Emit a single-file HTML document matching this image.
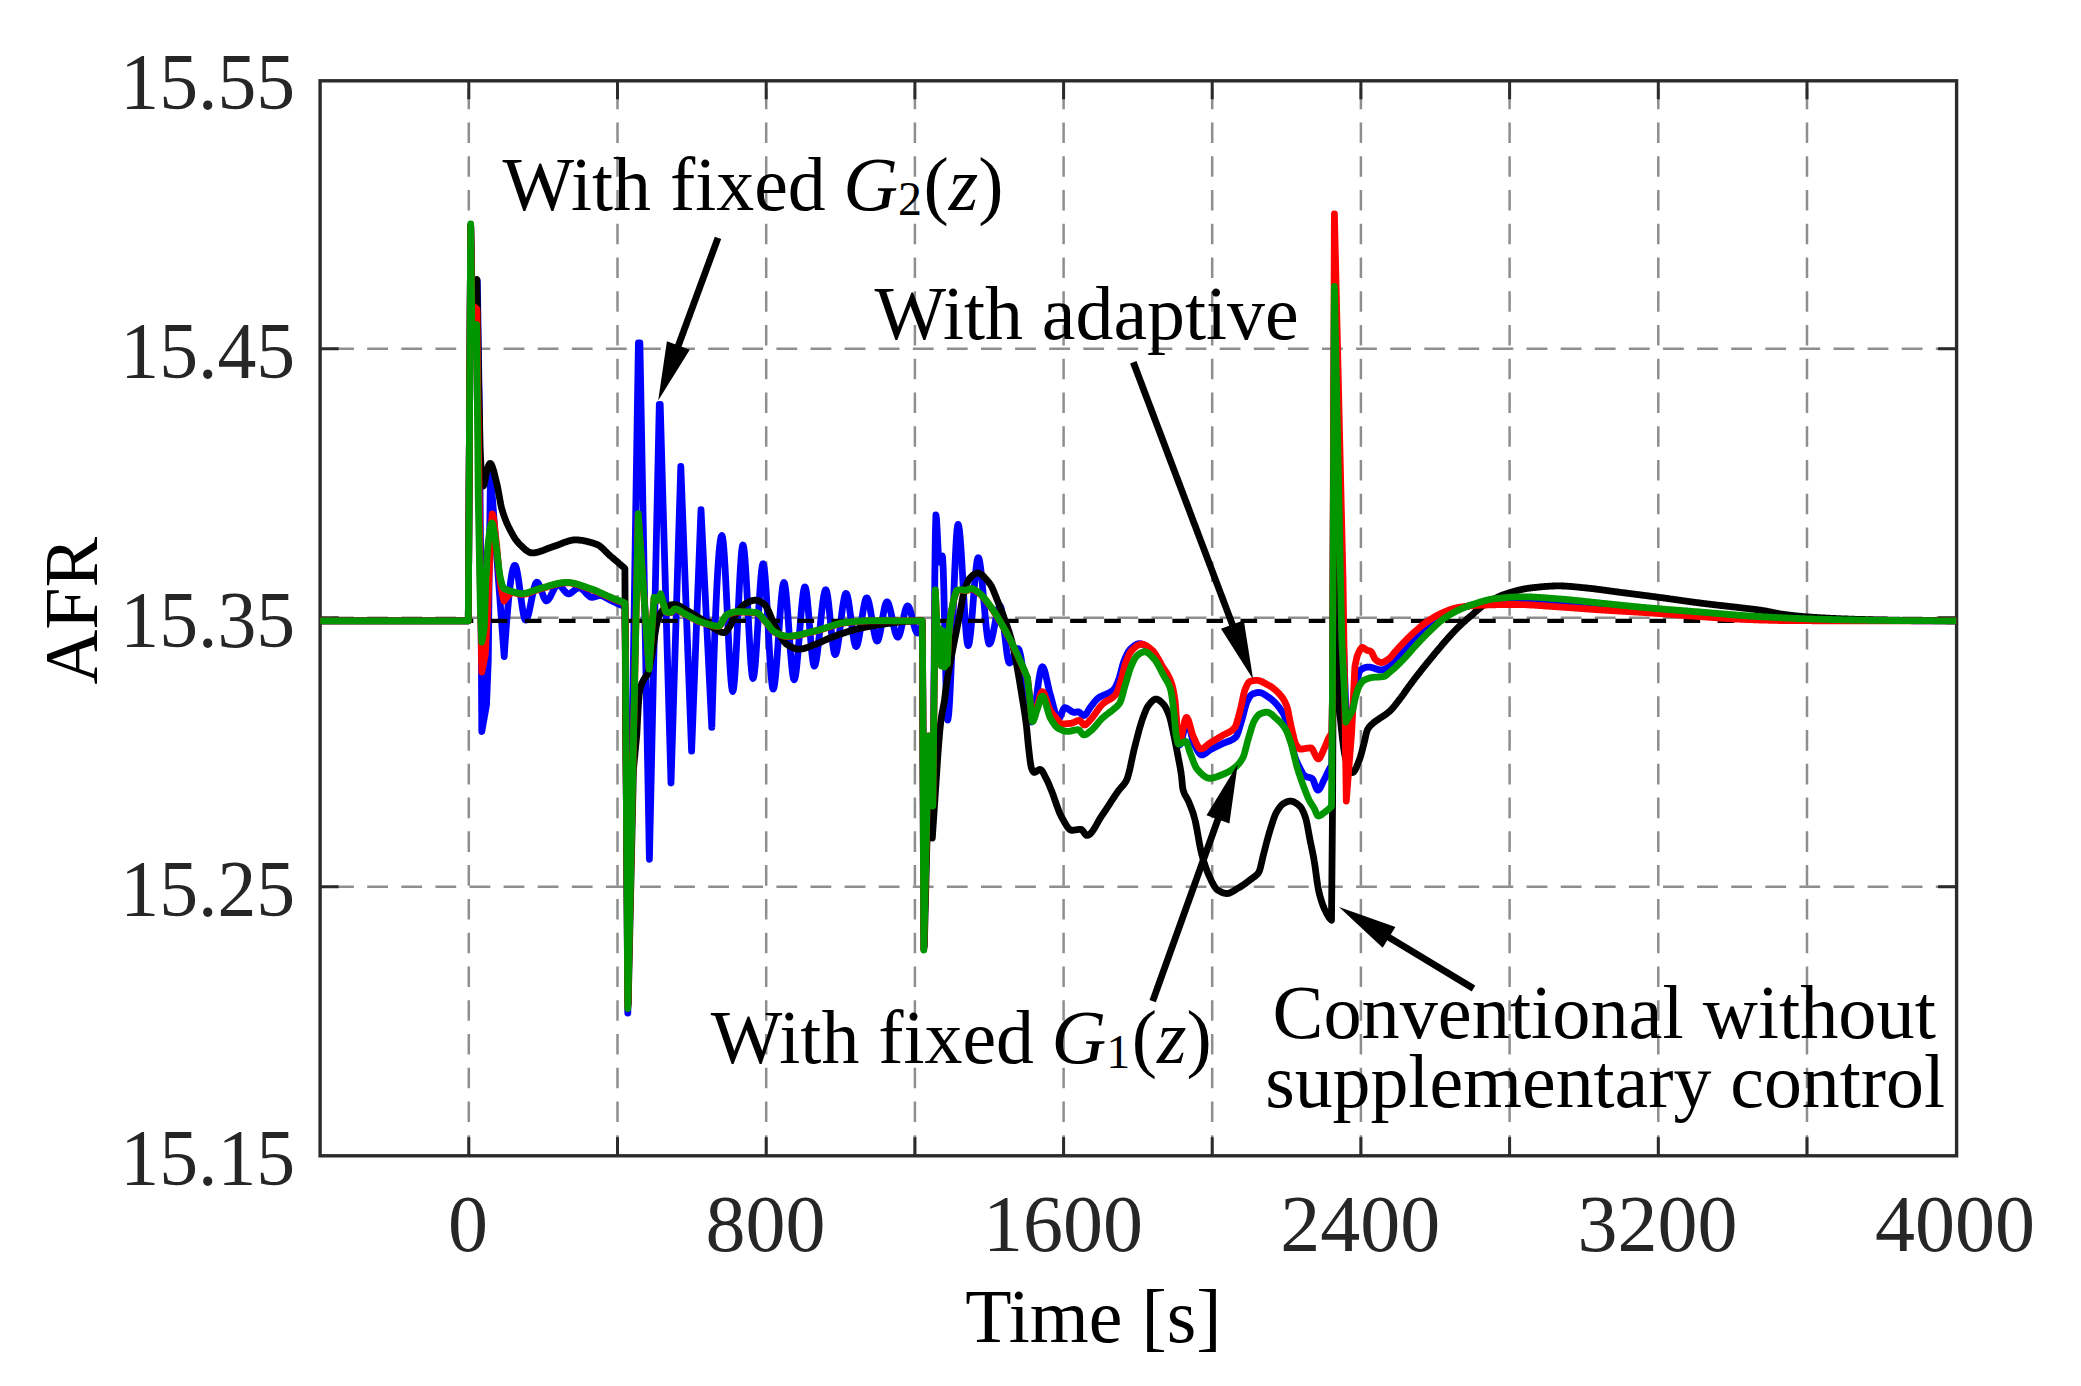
<!DOCTYPE html><html><head><meta charset="utf-8"><title>AFR</title><style>html,body{margin:0;padding:0;background:#fff}svg{display:block}</style></head><body><svg width="2081" height="1386" viewBox="0 0 2081 1386">
<rect width="2081" height="1386" fill="#fff"/>
<defs><clipPath id="pc"><rect x="320.1" y="80.8" width="1636.5" height="1075.0"/></clipPath></defs>
<path d="M468.8 1155.8V80.8M617.5 1155.8V80.8M766.2 1155.8V80.8M914.9 1155.8V80.8M1063.6 1155.8V80.8M1212.2 1155.8V80.8M1360.9 1155.8V80.8M1509.6 1155.8V80.8M1658.3 1155.8V80.8M1807.0 1155.8V80.8" fill="none" stroke="#8e8e8e" stroke-width="2.5" stroke-dasharray="20.6 13.16" stroke-dashoffset="0"/>
<path d="M320.1 348.8H1956.6M320.1 617.8H1956.6M320.1 886.8H1956.6" fill="none" stroke="#8e8e8e" stroke-width="2.5" stroke-dasharray="20.8 13.3" stroke-dashoffset="-13"/>
<rect x="320.1" y="80.8" width="1636.5" height="1075.0" fill="none" stroke="#2b2b2b" stroke-width="3.4"/>
<path d="M468.8 1155.8v-18.5M468.8 80.8v18.5M617.5 1155.8v-18.5M617.5 80.8v18.5M766.2 1155.8v-18.5M766.2 80.8v18.5M914.9 1155.8v-18.5M914.9 80.8v18.5M1063.6 1155.8v-18.5M1063.6 80.8v18.5M1212.2 1155.8v-18.5M1212.2 80.8v18.5M1360.9 1155.8v-18.5M1360.9 80.8v18.5M1509.6 1155.8v-18.5M1509.6 80.8v18.5M1658.3 1155.8v-18.5M1658.3 80.8v18.5M1807.0 1155.8v-18.5M1807.0 80.8v18.5M320.1 886.8h18.5M1956.6 886.8h-18.5M320.1 617.8h18.5M1956.6 617.8h-18.5M320.1 348.8h18.5M1956.6 348.8h-18.5" fill="none" stroke="#2b2b2b" stroke-width="3.0"/>
<g clip-path="url(#pc)" fill="none" stroke-linejoin="round" stroke-linecap="butt">
<path d="M320.1 620.8L468.3 620.8L470.7 226.0L471.8 282.0L477.3 281.0L479.2 400.0L481.0 600.0L481.8 731.5L486.5 705.0L488.3 660.0L489.3 560.0L490.5 472.0L497.0 560.0L504.2 656.5L504.8 647.5L505.4 638.8L506.0 630.6L506.6 622.7L507.2 615.2L507.8 608.2L508.4 601.6L509.0 595.5L509.6 590.0L510.2 584.9L510.8 580.3L511.4 576.4L512.0 573.0L512.6 570.2L513.2 568.0L513.8 566.4L514.4 565.5L514.9 565.3L515.0 565.3L515.6 566.0L516.2 567.5L516.8 569.8L517.4 572.8L518.0 576.3L518.6 580.3L519.2 584.6L519.8 589.0L520.4 593.6L521.0 598.2L521.6 602.6L522.2 606.7L522.8 610.5L523.4 613.9L524.0 616.6L524.6 618.7L525.2 619.9L525.7 620.2L525.8 620.2L526.4 619.8L527.0 618.7L527.6 617.2L528.2 615.3L528.8 613.0L529.4 610.4L530.0 607.6L530.6 604.6L531.2 601.6L531.8 598.5L532.4 595.6L533.0 592.7L533.6 590.0L534.2 587.7L534.8 585.6L535.4 584.0L536.0 582.9L536.6 582.3L536.9 582.2L537.2 582.3L537.8 582.7L538.4 583.5L539.0 584.5L539.6 585.9L540.2 587.4L540.8 589.0L541.4 590.7L542.0 592.5L542.6 594.2L543.2 595.8L543.8 597.3L544.4 598.6L545.0 599.6L545.6 600.4L546.2 600.8L546.5 600.8L546.8 600.8L547.4 600.5L548.0 600.0L548.6 599.3L549.2 598.5L549.8 597.5L550.4 596.5L551.0 595.3L551.6 594.1L552.2 592.8L552.8 591.6L553.4 590.4L554.0 589.2L554.6 588.1L555.2 587.1L555.8 586.3L556.4 585.6L557.0 585.1L557.6 584.8L558.0 584.8L558.2 584.8L558.8 585.0L559.4 585.3L560.0 585.7L560.6 586.2L561.2 586.8L561.8 587.5L562.4 588.3L563.0 589.0L563.6 589.8L564.2 590.6L564.9 591.3L565.5 592.0L566.1 592.6L566.7 593.1L567.3 593.4L567.9 593.7L568.5 593.8L568.5 593.8L569.1 593.8L569.7 593.6L570.3 593.4L570.9 593.0L571.5 592.6L572.1 592.2L572.7 591.7L573.3 591.2L573.9 590.7L574.5 590.2L575.1 589.7L575.7 589.2L576.3 588.8L576.9 588.4L577.5 588.1L578.1 587.9L578.7 587.8L579.0 587.8L579.3 587.8L579.9 587.9L580.5 588.1L581.1 588.5L581.7 588.8L582.3 589.3L582.9 589.8L583.5 590.4L584.1 591.0L584.7 591.7L585.3 592.3L585.9 593.0L586.5 593.7L587.1 594.3L587.7 594.9L588.3 595.5L588.9 596.0L589.5 596.4L590.1 596.8L590.7 597.1L591.3 597.2L591.9 597.3L591.9 597.3L592.5 597.3L593.1 597.2L593.7 597.1L594.3 596.9L594.9 596.7L595.5 596.6L596.1 596.4L596.7 596.2L597.3 596.0L597.9 595.8L598.5 595.7L599.1 595.6L599.7 595.5L600.0 595.5L600.3 595.5L600.9 595.6L601.5 595.7L602.1 595.8L602.7 596.1L603.3 596.3L603.9 596.6L604.5 596.9L605.1 597.2L605.7 597.6L606.3 597.9L606.9 598.3L607.5 598.6L608.1 599.0L608.7 599.3L609.3 599.7L609.9 599.9L610.0 600.0L610.5 600.2L611.1 600.5L611.7 600.8L612.3 601.1L612.9 601.4L613.5 601.7L614.1 601.9L614.7 602.2L615.3 602.5L615.9 602.8L616.5 603.1L617.1 603.4L617.7 603.7L618.3 603.9L618.9 604.2L619.5 604.5L620.1 604.7L620.7 605.0L620.8 605.0L621.3 605.2L621.9 605.4L622.5 605.7L623.1 605.9L623.7 606.1L624.3 606.3L624.9 606.5L625.3 640.0L627.8 1013.0L638.4 343.0L639.9 343.0L649.4 859.3L659.3 404.5L660.2 404.5L671.0 783.0L680.8 466.3L691.6 751.2L701.0 509.6L711.8 727.4L712.4 706.8L713.0 687.2L713.6 668.6L714.2 651.1L714.8 634.7L715.4 619.3L716.0 605.1L716.6 592.2L717.2 580.4L717.8 570.0L718.4 560.8L719.0 553.0L719.6 546.6L720.2 541.6L720.8 538.1L721.4 536.1L721.9 535.6L722.0 535.7L722.6 537.6L723.2 541.9L723.8 548.4L724.4 556.8L725.0 566.7L725.6 577.8L726.2 589.8L726.8 602.4L727.4 615.2L728.0 628.0L728.6 640.5L729.2 652.3L729.8 663.1L730.4 672.6L731.0 680.5L731.6 686.5L732.2 690.2L732.8 691.4L732.8 691.4L733.4 689.7L734.0 685.3L734.6 678.5L735.2 669.8L735.8 659.5L736.4 647.9L737.0 635.5L737.6 622.6L738.3 609.5L738.9 596.7L739.5 584.5L740.1 573.3L740.7 563.5L741.3 555.4L741.9 549.4L742.5 545.8L742.9 545.0L743.1 545.1L743.7 547.2L744.3 551.6L744.9 558.2L745.5 566.4L746.1 576.1L746.7 586.8L747.3 598.3L747.9 610.1L748.5 622.0L749.1 633.5L749.7 644.5L750.3 654.5L750.9 663.2L751.5 670.2L752.1 675.3L752.7 678.0L753.0 678.4L753.3 678.1L753.9 675.9L754.5 671.7L755.1 665.8L755.7 658.4L756.3 649.9L756.9 640.5L757.5 630.6L758.1 620.4L758.7 610.2L759.3 600.3L759.9 591.1L760.5 582.7L761.1 575.5L761.7 569.7L762.3 565.8L762.9 563.8L763.1 563.7L763.5 564.3L764.1 567.1L764.7 572.2L765.3 579.0L765.9 587.3L766.5 596.9L767.1 607.3L767.7 618.2L768.3 629.4L768.9 640.5L769.5 651.2L770.1 661.2L770.7 670.1L771.3 677.7L771.9 683.6L772.5 687.5L773.1 689.2L773.2 689.2L773.7 688.5L774.3 686.0L774.9 681.9L775.5 676.5L776.1 670.0L776.7 662.5L777.3 654.4L777.9 645.8L778.5 636.9L779.1 628.1L779.7 619.4L780.3 611.1L780.9 603.4L781.5 596.7L782.1 591.0L782.7 586.5L783.3 583.7L783.9 582.5L784.0 582.5L784.5 583.3L785.1 585.9L785.7 590.2L786.3 595.8L786.9 602.5L787.5 610.0L788.1 618.2L788.7 626.8L789.3 635.4L789.9 644.0L790.5 652.2L791.2 659.8L791.8 666.5L792.4 672.1L793.0 676.3L793.6 679.0L794.1 679.8L794.2 679.8L794.8 678.8L795.4 676.3L796.0 672.5L796.6 667.5L797.2 661.6L797.8 655.0L798.4 647.7L799.0 640.2L799.6 632.4L800.2 624.7L800.8 617.2L801.4 610.1L802.0 603.6L802.6 597.9L803.2 593.2L803.8 589.6L804.4 587.4L804.9 586.8L805.0 586.8L805.6 588.0L806.2 590.8L806.8 595.1L807.4 600.5L808.0 606.8L808.6 613.8L809.2 621.2L809.8 628.8L810.4 636.3L811.0 643.5L811.6 650.1L812.2 655.9L812.8 660.6L813.4 664.0L814.0 665.9L814.3 666.1L814.6 666.0L815.2 664.8L815.8 662.5L816.4 659.4L817.0 655.4L817.6 650.8L818.2 645.7L818.8 640.1L819.4 634.3L820.0 628.3L820.6 622.4L821.2 616.5L821.8 610.9L822.4 605.7L823.0 601.0L823.6 596.9L824.2 593.7L824.8 591.3L825.4 589.9L825.8 589.7L826.0 589.8L826.6 591.1L827.2 593.7L827.8 597.4L828.4 602.0L829.0 607.4L829.6 613.2L830.2 619.3L830.8 625.5L831.4 631.6L832.0 637.4L832.6 642.7L833.2 647.2L833.8 650.9L834.4 653.4L835.0 654.5L835.2 654.6L835.6 654.3L836.2 653.0L836.8 650.8L837.4 647.8L838.0 644.1L838.6 639.9L839.2 635.3L839.8 630.3L840.4 625.3L841.0 620.2L841.6 615.1L842.2 610.4L842.8 605.9L843.5 601.9L844.1 598.6L844.7 595.9L845.3 594.1L845.9 593.3L846.0 593.3L846.5 593.6L847.1 594.9L847.7 597.1L848.3 600.1L848.9 603.7L849.5 607.8L850.1 612.2L850.7 616.9L851.3 621.7L851.9 626.4L852.5 630.9L853.1 635.1L853.7 638.8L854.3 642.0L854.9 644.4L855.5 646.0L856.1 646.6L856.1 646.6L856.7 646.2L857.3 644.9L857.9 642.9L858.5 640.3L859.1 637.2L859.7 633.7L860.3 629.8L860.9 625.8L861.5 621.6L862.1 617.5L862.7 613.5L863.3 609.7L863.9 606.3L864.5 603.3L865.1 600.8L865.7 599.0L866.3 598.0L866.7 597.8L866.9 597.8L867.5 598.5L868.1 599.9L868.7 601.9L869.3 604.4L869.9 607.4L870.5 610.7L871.1 614.3L871.7 617.9L872.3 621.6L872.9 625.3L873.5 628.8L874.1 632.0L874.7 634.9L875.3 637.4L875.9 639.3L876.5 640.6L877.1 641.1L877.2 641.1L877.7 640.8L878.3 639.7L878.9 637.9L879.5 635.5L880.1 632.7L880.7 629.5L881.3 626.1L881.9 622.5L882.5 618.9L883.1 615.4L883.7 612.0L884.3 609.0L884.9 606.3L885.5 604.2L886.1 602.7L886.7 601.9L887.0 601.8L887.3 601.9L887.9 602.5L888.5 603.7L889.1 605.4L889.7 607.5L890.3 609.9L890.9 612.5L891.5 615.3L892.1 618.2L892.7 621.2L893.3 624.1L893.9 626.9L894.5 629.5L895.1 631.8L895.7 633.9L896.4 635.5L897.0 636.6L897.6 637.1L897.8 637.2L898.2 637.1L898.8 636.4L899.4 635.1L900.0 633.3L900.6 631.2L901.2 628.7L901.8 626.0L902.4 623.2L903.0 620.3L903.6 617.5L904.2 614.7L904.8 612.2L905.4 610.0L906.0 608.2L906.6 606.9L907.2 606.1L907.6 605.9L907.8 605.9L908.4 606.4L909.0 607.3L909.6 608.7L910.2 610.5L910.8 612.5L911.4 614.7L912.0 617.1L912.6 619.6L913.2 622.0L913.8 624.4L914.4 626.6L915.0 628.6L915.6 630.4L916.2 631.7L916.8 632.6L917.4 633.0L917.5 633.0L918.0 632.9L918.6 632.4L919.2 631.7L919.8 630.6L920.4 629.3L921.0 627.7L921.6 626.0L922.2 624.0L922.6 660.0L923.8 948.0L928.6 737.0L932.8 806.0L934.2 660.0L934.8 577.7L935.0 560.0L935.4 532.3L935.9 515.0L936.0 515.1L936.6 520.5L937.2 531.2L937.8 543.9L938.4 555.1L939.0 561.5L939.2 562.0L939.6 561.7L940.2 560.5L940.8 558.8L941.4 557.2L942.0 556.1L942.3 556.0L942.6 557.6L943.2 568.8L943.8 588.3L944.4 613.3L945.0 640.8L945.6 668.1L946.2 692.2L946.8 710.2L947.4 719.4L947.6 720.0L948.0 719.1L948.6 714.9L949.2 707.5L949.8 697.5L950.4 685.3L951.0 671.3L951.6 656.0L952.2 639.8L952.8 623.1L953.4 606.4L954.0 590.0L954.6 574.6L955.2 560.4L955.8 548.0L956.4 537.8L957.0 530.2L957.6 525.6L958.1 524.4L958.2 524.5L958.8 526.2L959.4 530.1L960.0 535.9L960.6 543.4L961.2 552.1L961.8 561.7L962.4 572.1L963.0 582.8L963.6 593.6L964.2 604.1L964.8 614.1L965.4 623.3L966.0 631.2L966.6 637.7L967.2 642.5L967.8 645.1L968.2 645.6L968.4 645.5L969.0 643.9L969.6 640.8L970.2 636.3L970.8 630.7L971.4 624.3L972.0 617.1L972.6 609.6L973.2 601.7L973.8 593.9L974.4 586.3L975.0 579.2L975.6 572.7L976.2 567.1L976.8 562.6L977.4 559.4L978.0 557.8L978.3 557.6L978.6 557.8L979.2 559.4L979.8 562.2L980.4 566.2L981.0 571.1L981.6 576.7L982.2 583.0L982.8 589.7L983.4 596.7L984.1 603.7L984.7 610.7L985.3 617.5L985.9 623.9L986.5 629.6L987.1 634.7L987.7 638.8L988.3 641.8L988.9 643.6L989.3 644.0L989.5 644.0L990.1 643.5L990.7 642.3L991.3 640.7L991.9 638.5L992.5 636.0L993.1 633.2L993.7 630.2L994.3 627.1L994.9 623.9L995.5 620.7L996.1 617.7L996.7 614.8L997.3 612.2L997.9 609.9L998.5 608.1L999.1 606.8L999.7 606.1L1000.0 606.0L1000.3 606.1L1000.9 607.4L1001.5 609.7L1002.1 613.1L1002.7 617.2L1003.3 621.9L1003.9 627.0L1004.5 632.4L1005.1 637.9L1005.7 643.2L1006.3 648.3L1006.9 652.9L1007.5 656.8L1008.1 659.9L1008.7 662.0L1009.3 663.0L1009.4 663.0L1009.9 662.9L1010.5 662.4L1011.1 661.6L1011.7 660.5L1012.3 659.2L1012.9 657.8L1013.5 656.4L1014.1 654.8L1014.7 653.4L1015.3 652.0L1015.9 650.8L1016.5 649.8L1017.1 649.1L1017.7 648.7L1018.0 648.6L1018.3 648.7L1018.9 649.5L1019.5 651.1L1020.1 653.3L1020.7 656.2L1021.3 659.5L1021.9 663.4L1022.5 667.5L1023.1 672.0L1023.7 676.7L1024.3 681.6L1024.9 686.5L1025.5 691.3L1026.1 696.1L1026.7 700.7L1027.3 705.1L1027.9 709.1L1028.5 712.7L1029.1 715.8L1029.7 718.4L1030.3 720.4L1030.9 721.6L1031.5 722.0L1031.5 722.0L1032.1 721.5L1032.7 720.1L1033.3 717.9L1033.9 715.0L1034.5 711.6L1035.1 707.7L1035.7 703.4L1036.3 699.0L1036.9 694.4L1037.5 689.8L1038.1 685.3L1038.7 681.1L1039.3 677.2L1039.9 673.7L1040.5 670.9L1041.1 668.7L1041.7 667.3L1042.3 666.8L1042.3 666.8L1042.9 667.1L1043.5 668.0L1044.1 669.4L1044.7 671.2L1045.3 673.3L1045.9 675.8L1046.5 678.4L1047.1 681.1L1047.7 683.9L1048.3 686.7L1048.9 689.3L1049.5 691.8L1050.1 694.1L1050.4 695.0L1050.7 696.0L1051.3 698.2L1051.9 700.4L1052.5 702.8L1053.1 705.1L1053.7 707.5L1054.3 709.8L1054.9 711.9L1055.5 713.9L1056.1 715.6L1056.7 717.0L1057.3 718.1L1057.9 718.8L1058.5 719.0L1058.5 719.0L1059.1 718.7L1059.7 717.9L1060.3 716.7L1060.9 715.3L1061.5 713.7L1062.1 712.1L1062.7 710.6L1063.3 709.3L1063.9 708.3L1064.5 707.8L1064.8 707.7L1065.1 707.7L1065.7 707.8L1066.3 708.0L1066.9 708.3L1067.5 708.6L1068.1 709.0L1068.7 709.4L1069.3 709.8L1069.9 710.2L1070.5 710.6L1071.1 711.1L1071.7 711.4L1072.3 711.8L1072.9 712.0L1073.5 712.2L1074.1 712.4L1074.6 712.4L1074.7 712.4L1075.3 712.3L1075.9 712.2L1076.5 712.1L1077.1 711.9L1077.7 711.8L1078.1 711.8L1078.3 711.8L1078.9 712.0L1079.5 712.4L1080.1 712.9L1080.7 713.4L1081.3 714.0L1081.9 714.5L1082.5 715.0L1083.1 715.3L1083.8 715.5L1083.9 715.5L1084.4 715.4L1085.0 715.1L1085.6 714.6L1086.2 713.9L1086.8 713.0L1087.4 712.1L1088.0 711.1L1088.6 710.1L1089.2 709.0L1089.8 708.1L1090.4 707.2L1090.8 706.6L1091.0 706.4L1091.6 705.6L1092.2 704.9L1092.8 704.1L1093.4 703.3L1094.0 702.5L1094.6 701.8L1095.2 701.1L1095.8 700.4L1096.4 699.7L1097.0 699.1L1097.6 698.6L1097.7 698.5L1098.2 698.1L1098.8 697.7L1099.4 697.3L1100.0 696.9L1100.6 696.6L1101.2 696.3L1101.8 696.0L1102.4 695.7L1103.0 695.4L1103.6 695.2L1104.2 694.9L1104.8 694.7L1105.4 694.5L1106.0 694.2L1106.6 694.0L1107.2 693.7L1107.8 693.4L1108.4 693.2L1109.0 692.9L1109.6 692.5L1110.2 692.2L1110.8 691.8L1111.4 691.4L1112.0 691.0L1112.6 690.5L1113.2 690.0L1113.8 689.4L1113.9 689.3L1114.4 688.7L1115.0 687.9L1115.6 686.8L1116.2 685.6L1116.8 684.2L1117.4 682.8L1118.0 681.3L1118.5 680.0L1118.6 679.8L1119.2 678.0L1119.8 676.0L1120.4 673.8L1121.0 671.5L1121.6 669.1L1122.2 666.8L1122.8 664.7L1123.4 662.7L1124.0 661.0L1124.0 661.0L1124.6 659.5L1125.2 658.1L1125.8 656.7L1126.4 655.4L1127.0 654.1L1127.6 653.0L1128.2 651.9L1128.8 651.0L1129.4 650.2L1130.0 649.5L1130.0 649.5L1130.6 648.9L1131.2 648.4L1131.8 647.8L1132.4 647.3L1133.0 646.8L1133.6 646.3L1134.2 645.8L1134.8 645.4L1135.4 645.0L1136.0 644.7L1136.6 644.4L1137.2 644.1L1137.8 643.9L1138.4 643.8L1139.0 643.7L1139.5 643.7L1139.6 643.7L1140.2 643.7L1140.8 643.8L1141.4 643.9L1142.0 644.1L1142.6 644.3L1143.2 644.6L1143.8 644.9L1144.4 645.2L1145.0 645.5L1145.6 645.9L1146.2 646.3L1146.8 646.7L1147.4 647.1L1148.0 647.5L1148.6 648.0L1149.2 648.4L1149.8 648.9L1150.0 649.0L1150.4 649.3L1151.0 649.9L1151.6 650.5L1152.2 651.2L1152.8 652.0L1153.4 652.8L1154.0 653.7L1154.6 654.6L1155.2 655.6L1155.8 656.5L1156.4 657.6L1157.0 658.6L1157.6 659.6L1158.2 660.7L1158.8 661.8L1159.4 662.8L1160.0 663.9L1160.6 664.9L1161.0 665.5L1161.2 665.9L1161.8 666.8L1162.4 667.8L1163.0 668.7L1163.6 669.5L1164.2 670.4L1164.8 671.3L1165.4 672.3L1166.0 673.3L1166.6 674.3L1167.2 675.4L1167.8 676.6L1168.4 677.8L1169.0 679.2L1169.6 680.7L1170.2 682.3L1170.5 683.0L1170.8 684.0L1171.4 686.2L1172.0 688.7L1172.6 691.7L1173.2 695.0L1173.8 698.8L1174.3 702.0L1174.4 703.1L1175.0 709.7L1175.6 717.8L1176.2 725.6L1176.8 731.0L1176.8 731.3L1177.4 735.7L1178.0 739.8L1178.6 743.0L1179.2 744.8L1179.5 745.0L1179.8 744.9L1180.4 744.0L1181.0 742.5L1181.6 740.4L1182.2 738.0L1182.9 735.3L1183.5 732.6L1184.1 729.9L1184.7 727.4L1185.3 725.2L1185.9 723.4L1186.5 722.3L1187.0 722.0L1187.1 722.0L1187.7 722.4L1188.3 723.5L1188.9 725.1L1189.5 727.1L1190.1 729.4L1190.7 732.0L1191.3 734.5L1191.9 737.1L1192.5 739.4L1193.1 741.5L1193.7 743.2L1194.0 744.0L1194.3 744.5L1194.9 745.7L1195.5 746.9L1196.1 748.1L1196.7 749.2L1197.3 750.3L1197.9 751.4L1198.5 752.3L1199.1 753.1L1199.7 753.8L1200.3 754.3L1200.9 754.7L1201.5 754.9L1201.7 754.9L1202.1 754.9L1202.7 754.8L1203.3 754.6L1203.9 754.3L1204.5 754.0L1205.1 753.6L1205.7 753.2L1206.3 752.7L1206.9 752.3L1207.5 751.8L1208.1 751.3L1208.7 750.8L1209.3 750.4L1209.9 750.0L1210.4 749.7L1210.5 749.7L1211.1 749.3L1211.7 749.0L1212.3 748.7L1212.9 748.4L1213.5 748.1L1214.1 747.8L1214.7 747.5L1215.3 747.2L1215.9 746.9L1216.5 746.6L1217.1 746.3L1217.7 746.0L1218.3 745.7L1218.9 745.4L1219.5 745.1L1220.1 744.8L1220.7 744.5L1221.3 744.2L1221.9 743.9L1221.9 743.9L1222.5 743.6L1223.1 743.3L1223.7 743.1L1224.3 742.9L1224.9 742.6L1225.5 742.4L1226.1 742.2L1226.7 742.0L1227.3 741.8L1227.9 741.6L1228.5 741.3L1229.1 741.1L1229.7 740.9L1230.3 740.6L1230.9 740.3L1231.5 740.0L1232.1 739.7L1232.7 739.4L1233.3 739.0L1233.9 738.6L1234.5 738.1L1235.1 737.6L1235.7 737.1L1235.8 737.0L1236.3 736.4L1236.9 735.3L1237.5 733.9L1238.1 732.3L1238.7 730.4L1239.3 728.5L1239.9 726.4L1240.5 724.4L1241.1 722.4L1241.6 720.8L1241.7 720.5L1242.3 718.4L1242.9 716.2L1243.5 713.9L1244.1 711.6L1244.7 709.2L1245.3 707.0L1245.9 704.9L1246.5 703.1L1247.1 701.6L1247.3 701.2L1247.7 700.4L1248.3 699.2L1248.9 698.1L1249.5 697.0L1250.1 696.1L1250.7 695.4L1251.3 694.8L1251.9 694.3L1252.0 694.3L1252.5 694.1L1253.1 693.8L1253.7 693.6L1254.3 693.4L1254.9 693.2L1255.5 693.0L1256.1 692.8L1256.7 692.7L1257.3 692.6L1257.9 692.5L1258.5 692.5L1258.9 692.5L1259.1 692.5L1259.7 692.6L1260.3 692.7L1260.9 692.8L1261.5 693.0L1262.1 693.2L1262.7 693.5L1263.3 693.8L1263.9 694.1L1264.5 694.5L1265.1 694.9L1265.7 695.3L1266.3 695.7L1266.9 696.1L1267.5 696.5L1268.1 696.9L1268.7 697.3L1269.3 697.7L1269.3 697.7L1269.9 698.1L1270.5 698.6L1271.1 699.0L1271.7 699.5L1272.3 700.0L1272.9 700.6L1273.5 701.1L1274.1 701.7L1274.7 702.3L1275.3 702.9L1275.9 703.5L1276.5 704.2L1277.1 704.9L1277.7 705.6L1278.3 706.4L1278.9 707.1L1279.5 707.9L1279.7 708.1L1280.1 708.7L1280.7 709.6L1281.3 710.5L1281.9 711.4L1282.6 712.5L1283.2 713.6L1283.8 714.8L1284.4 716.0L1285.0 717.4L1285.4 718.5L1285.6 718.9L1286.2 720.6L1286.8 722.7L1287.4 724.9L1288.0 727.3L1288.6 729.8L1289.2 732.4L1289.8 734.9L1290.4 737.4L1290.5 738.0L1291.0 739.9L1291.6 742.6L1292.2 745.3L1292.8 748.1L1293.4 750.8L1294.0 753.3L1294.6 755.6L1295.0 757.0L1295.2 757.5L1295.8 759.2L1296.4 760.7L1297.0 762.2L1297.6 763.5L1298.2 764.8L1298.8 766.0L1299.3 767.0L1299.4 767.1L1300.0 768.3L1300.6 769.5L1301.2 770.7L1301.8 771.8L1302.4 772.9L1303.0 773.9L1303.6 774.7L1304.2 775.4L1304.8 776.0L1305.1 776.2L1305.4 776.3L1306.0 776.6L1306.6 776.8L1307.2 777.0L1307.8 777.2L1308.4 777.3L1309.0 777.4L1309.6 777.6L1310.2 777.7L1310.8 777.9L1311.4 778.2L1312.0 778.5L1312.0 778.5L1312.6 779.1L1313.2 780.2L1313.8 781.6L1314.4 783.2L1315.0 785.0L1315.6 786.6L1316.2 788.1L1316.8 789.2L1317.4 789.9L1317.8 790.1L1318.0 790.1L1318.6 789.8L1319.2 789.3L1319.8 788.5L1320.4 787.6L1321.0 786.4L1321.6 785.2L1322.2 783.9L1322.8 782.5L1323.4 781.2L1324.0 779.9L1324.6 778.7L1324.7 778.5L1325.2 777.6L1325.8 776.4L1326.4 775.1L1327.0 773.8L1327.6 772.6L1328.2 771.4L1328.7 770.4L1328.8 770.2L1329.4 769.1L1330.0 768.0L1330.6 767.0L1331.2 766.0L1331.8 765.0L1332.4 700.0L1334.4 300.0L1342.0 600.0L1347.2 748.0L1352.0 715.0L1352.6 709.4L1353.2 704.1L1353.8 699.2L1354.4 694.6L1355.0 690.5L1355.6 687.0L1356.0 685.0L1356.2 684.1L1356.8 681.3L1357.4 678.7L1358.0 676.2L1358.6 674.0L1359.2 672.2L1359.8 670.9L1360.4 670.1L1360.5 670.0L1361.0 669.7L1361.6 669.3L1362.2 668.9L1362.8 668.6L1363.4 668.3L1364.0 668.0L1364.6 667.8L1365.2 667.6L1365.8 667.5L1366.4 667.3L1367.0 667.2L1367.6 667.1L1368.2 667.1L1368.6 667.1L1368.8 667.1L1369.4 667.1L1370.0 667.2L1370.6 667.3L1371.2 667.4L1371.8 667.6L1372.4 667.7L1373.0 667.9L1373.6 668.1L1374.2 668.3L1374.8 668.5L1375.4 668.7L1376.0 668.9L1376.6 669.1L1377.2 669.3L1377.8 669.5L1378.4 669.6L1379.0 669.8L1379.6 669.9L1380.2 669.9L1380.8 670.0L1381.3 670.0L1381.4 670.0L1382.0 670.0L1382.6 669.9L1383.2 669.7L1383.8 669.5L1384.4 669.3L1385.0 669.0L1385.6 668.7L1386.2 668.4L1386.8 668.1L1387.4 667.7L1388.0 667.4L1388.6 667.0L1389.2 666.6L1389.3 666.6L1389.8 666.2L1390.4 665.8L1391.0 665.2L1391.6 664.7L1392.2 664.0L1392.8 663.4L1393.4 662.7L1394.0 662.0L1394.6 661.4L1395.0 661.0L1395.2 660.8L1395.8 660.1L1396.4 659.5L1397.0 658.8L1397.6 658.1L1398.2 657.5L1398.8 656.8L1399.4 656.1L1400.0 655.5L1400.6 654.8L1400.9 654.5L1401.2 654.1L1401.8 653.5L1402.4 652.8L1403.0 652.2L1403.6 651.5L1404.2 650.8L1404.8 650.2L1405.4 649.5L1406.0 648.8L1406.6 648.2L1407.2 647.5L1407.8 646.9L1408.4 646.2L1409.0 645.6L1409.6 644.9L1410.2 644.3L1410.8 643.6L1411.4 643.0L1412.0 642.4L1412.6 641.8L1413.2 641.2L1413.8 640.6L1414.4 640.0L1414.4 640.0L1415.0 639.4L1415.6 638.8L1416.2 638.2L1416.8 637.6L1417.4 637.1L1418.0 636.5L1418.6 635.9L1419.2 635.4L1419.8 634.8L1420.4 634.3L1421.0 633.7L1421.6 633.2L1422.2 632.6L1422.8 632.1L1423.4 631.6L1424.0 631.0L1424.6 630.5L1425.2 630.0L1425.8 629.5L1426.4 629.0L1427.0 628.5L1427.7 628.0L1428.3 627.5L1428.8 627.0L1428.9 627.0L1429.5 626.5L1430.1 626.0L1430.7 625.5L1431.3 625.0L1431.9 624.5L1432.5 623.9L1433.1 623.4L1433.7 623.0L1434.3 622.5L1434.9 622.0L1435.5 621.5L1436.1 621.0L1436.7 620.5L1437.3 620.1L1437.9 619.6L1438.5 619.2L1439.1 618.7L1439.7 618.3L1440.3 617.9L1440.9 617.5L1441.5 617.1L1442.1 616.7L1442.7 616.3L1443.2 616.0L1443.3 616.0L1443.9 615.6L1444.5 615.3L1445.1 615.0L1445.7 614.6L1446.3 614.3L1446.9 614.0L1447.5 613.7L1448.1 613.4L1448.7 613.1L1449.3 612.8L1449.9 612.5L1450.5 612.2L1451.1 611.9L1451.7 611.7L1452.3 611.4L1452.9 611.1L1453.5 610.9L1454.1 610.7L1454.7 610.4L1455.3 610.2L1455.9 610.0L1456.5 609.7L1457.1 609.5L1457.7 609.3L1457.7 609.3L1458.3 609.1L1458.9 608.9L1459.5 608.7L1460.1 608.5L1460.7 608.3L1461.3 608.1L1461.9 607.9L1462.5 607.7L1463.1 607.5L1463.7 607.3L1464.3 607.2L1464.9 607.0L1465.5 606.8L1466.1 606.6L1466.7 606.4L1467.3 606.3L1467.9 606.1L1468.5 605.9L1469.1 605.8L1469.7 605.6L1470.3 605.4L1470.9 605.3L1471.5 605.1L1472.1 605.0L1472.7 604.9L1473.3 604.7L1473.9 604.6L1474.5 604.5L1475.1 604.3L1475.7 604.2L1476.3 604.1L1476.9 604.0L1477.5 603.9L1478.1 603.8L1478.7 603.7L1479.3 603.6L1479.9 603.5L1480.0 603.5L1480.5 603.4L1481.1 603.4L1481.7 603.3L1482.3 603.2L1482.9 603.1L1483.5 603.0L1484.1 603.0L1484.7 602.9L1485.3 602.8L1485.9 602.7L1486.5 602.7L1487.1 602.6L1487.7 602.5L1488.3 602.4L1488.9 602.4L1489.5 602.3L1490.1 602.2L1490.7 602.1L1491.3 602.1L1491.9 602.0L1492.5 601.9L1493.1 601.9L1493.7 601.8L1494.3 601.7L1494.9 601.7L1495.5 601.6L1496.1 601.6L1496.7 601.5L1497.3 601.4L1497.9 601.4L1498.5 601.3L1499.1 601.3L1499.7 601.2L1500.3 601.2L1500.9 601.1L1501.5 601.1L1502.1 601.0L1502.7 601.0L1503.3 600.9L1503.9 600.9L1504.5 600.9L1505.1 600.8L1505.7 600.8L1506.3 600.7L1506.9 600.7L1507.5 600.7L1508.1 600.7L1508.7 600.6L1509.3 600.6L1509.9 600.6L1510.5 600.6L1511.1 600.6L1511.7 600.5L1512.3 600.5L1512.9 600.5L1513.5 600.5L1514.1 600.5L1514.7 600.5L1515.0 600.5L1515.3 600.5L1515.9 600.5L1516.5 600.5L1517.1 600.5L1517.7 600.5L1518.3 600.5L1518.9 600.5L1519.5 600.5L1520.1 600.6L1520.7 600.6L1521.3 600.6L1521.9 600.6L1522.5 600.6L1523.1 600.6L1523.7 600.7L1524.3 600.7L1524.9 600.7L1525.5 600.7L1526.1 600.7L1526.7 600.8L1527.3 600.8L1527.9 600.8L1528.5 600.9L1529.1 600.9L1529.7 600.9L1530.3 600.9L1530.9 601.0L1531.5 601.0L1532.1 601.0L1532.7 601.1L1533.3 601.1L1533.9 601.1L1534.5 601.2L1535.1 601.2L1535.7 601.3L1536.3 601.3L1536.9 601.3L1537.5 601.4L1538.1 601.4L1538.7 601.5L1539.3 601.5L1539.9 601.5L1540.5 601.6L1541.1 601.6L1541.7 601.7L1542.3 601.7L1542.9 601.8L1543.5 601.8L1544.1 601.8L1544.7 601.9L1545.3 601.9L1545.9 602.0L1546.5 602.0L1547.1 602.1L1547.7 602.1L1548.3 602.2L1548.9 602.2L1549.5 602.2L1550.1 602.3L1550.7 602.3L1551.3 602.4L1551.9 602.4L1552.5 602.5L1553.1 602.5L1553.7 602.6L1554.3 602.6L1554.9 602.6L1555.5 602.7L1556.1 602.7L1556.7 602.8L1557.3 602.8L1557.9 602.9L1558.5 602.9L1559.1 602.9L1559.7 603.0L1560.0 603.0L1560.3 603.0L1560.9 603.1L1561.5 603.1L1562.1 603.1L1562.7 603.2L1563.3 603.2L1563.9 603.3L1564.5 603.3L1565.1 603.4L1565.7 603.4L1566.3 603.5L1566.9 603.5L1567.5 603.5L1568.1 603.6L1568.7 603.6L1569.3 603.7L1569.9 603.7L1570.5 603.8L1571.1 603.8L1571.7 603.9L1572.3 603.9L1572.9 604.0L1573.5 604.0L1574.1 604.1L1574.7 604.1L1575.3 604.2L1575.9 604.2L1576.5 604.3L1577.1 604.3L1577.7 604.4L1578.3 604.4L1579.0 604.5L1579.6 604.6L1580.2 604.6L1580.8 604.7L1581.4 604.7L1582.0 604.8L1582.6 604.8L1583.2 604.9L1583.8 604.9L1584.4 605.0L1585.0 605.0L1585.6 605.1L1586.2 605.1L1586.8 605.2L1587.4 605.2L1588.0 605.3L1588.6 605.4L1589.2 605.4L1589.8 605.5L1590.4 605.5L1591.0 605.6L1591.6 605.6L1592.2 605.7L1592.8 605.7L1593.4 605.8L1594.0 605.8L1594.6 605.9L1595.2 605.9L1595.8 606.0L1596.4 606.0L1597.0 606.1L1597.6 606.1L1598.2 606.2L1598.8 606.2L1599.4 606.3L1600.0 606.3L1600.6 606.4L1601.2 606.4L1601.8 606.5L1601.8 606.5L1602.4 606.5L1603.0 606.6L1603.6 606.6L1604.2 606.7L1604.8 606.7L1605.4 606.8L1606.0 606.8L1606.6 606.9L1607.2 606.9L1607.8 607.0L1608.4 607.0L1609.0 607.1L1609.6 607.1L1610.2 607.2L1610.8 607.2L1611.4 607.3L1612.0 607.3L1612.6 607.4L1613.2 607.4L1613.8 607.5L1614.4 607.5L1615.0 607.6L1615.6 607.6L1616.2 607.7L1616.8 607.7L1617.4 607.8L1618.0 607.8L1618.6 607.9L1619.2 607.9L1619.8 608.0L1620.4 608.0L1621.0 608.1L1621.6 608.1L1622.2 608.2L1622.8 608.2L1623.4 608.3L1624.0 608.3L1624.6 608.4L1625.2 608.4L1625.8 608.5L1626.4 608.5L1627.0 608.6L1627.6 608.6L1628.2 608.7L1628.8 608.7L1629.4 608.8L1630.0 608.8L1630.6 608.9L1631.2 608.9L1631.8 609.0L1632.4 609.0L1633.0 609.1L1633.6 609.1L1634.2 609.2L1634.8 609.2L1635.4 609.2L1636.0 609.3L1636.6 609.3L1637.2 609.4L1637.8 609.4L1638.4 609.5L1639.0 609.5L1639.6 609.6L1640.2 609.6L1640.8 609.7L1641.4 609.7L1642.0 609.8L1642.6 609.8L1643.2 609.9L1643.8 609.9L1644.4 610.0L1645.0 610.0L1645.0 610.0L1645.6 610.0L1646.2 610.1L1646.8 610.1L1647.4 610.2L1648.0 610.2L1648.6 610.3L1649.2 610.3L1649.8 610.4L1650.4 610.4L1651.0 610.5L1651.6 610.5L1652.2 610.5L1652.8 610.6L1653.4 610.6L1654.0 610.7L1654.6 610.7L1655.2 610.8L1655.8 610.8L1656.4 610.9L1657.0 610.9L1657.6 610.9L1658.2 611.0L1658.8 611.0L1659.4 611.1L1660.0 611.1L1660.6 611.2L1661.2 611.2L1661.8 611.2L1662.4 611.3L1663.0 611.3L1663.6 611.4L1664.2 611.4L1664.8 611.5L1665.4 611.5L1666.0 611.6L1666.6 611.6L1667.2 611.6L1667.8 611.7L1668.4 611.7L1669.0 611.8L1669.6 611.8L1670.2 611.9L1670.8 611.9L1671.4 611.9L1672.0 612.0L1672.6 612.0L1673.2 612.1L1673.8 612.1L1674.4 612.2L1675.0 612.2L1675.6 612.2L1676.2 612.3L1676.8 612.3L1677.4 612.4L1678.0 612.4L1678.6 612.4L1679.2 612.5L1679.8 612.5L1680.4 612.6L1681.0 612.6L1681.6 612.7L1682.2 612.7L1682.8 612.7L1683.4 612.8L1684.0 612.8L1684.6 612.9L1685.2 612.9L1685.8 613.0L1686.4 613.0L1687.0 613.1L1687.6 613.1L1688.2 613.1L1688.8 613.2L1689.4 613.2L1690.0 613.3L1690.6 613.3L1691.2 613.4L1691.8 613.4L1692.4 613.4L1693.0 613.5L1693.6 613.5L1694.2 613.6L1694.8 613.6L1695.4 613.7L1696.0 613.7L1696.6 613.7L1697.2 613.8L1697.8 613.8L1698.4 613.9L1699.0 613.9L1699.6 614.0L1700.0 614.0L1700.2 614.0L1700.8 614.1L1701.4 614.1L1702.0 614.2L1702.6 614.2L1703.2 614.2L1703.8 614.3L1704.4 614.3L1705.0 614.4L1705.6 614.4L1706.2 614.5L1706.8 614.5L1707.4 614.6L1708.0 614.6L1708.6 614.7L1709.2 614.7L1709.8 614.8L1710.4 614.8L1711.0 614.9L1711.6 614.9L1712.2 615.0L1712.8 615.0L1713.4 615.1L1714.0 615.1L1714.6 615.2L1715.2 615.2L1715.8 615.3L1716.4 615.3L1717.0 615.4L1717.6 615.4L1718.2 615.5L1718.8 615.5L1719.4 615.6L1720.0 615.6L1720.6 615.7L1721.2 615.7L1721.8 615.8L1722.4 615.8L1723.0 615.8L1723.6 615.9L1724.2 615.9L1724.8 616.0L1725.4 616.0L1726.0 616.1L1726.6 616.1L1727.2 616.2L1727.8 616.2L1728.4 616.3L1729.0 616.3L1729.6 616.4L1730.3 616.4L1730.9 616.5L1731.5 616.5L1732.1 616.5L1732.7 616.6L1733.3 616.6L1733.9 616.7L1734.5 616.7L1735.1 616.8L1735.7 616.8L1736.3 616.8L1736.9 616.9L1737.5 616.9L1738.1 617.0L1738.7 617.0L1739.3 617.0L1739.9 617.1L1740.5 617.1L1741.1 617.2L1741.7 617.2L1741.8 617.2L1742.3 617.2L1742.9 617.3L1743.5 617.3L1744.1 617.3L1744.7 617.4L1745.3 617.4L1745.9 617.4L1746.5 617.5L1747.1 617.5L1747.7 617.5L1748.3 617.6L1748.9 617.6L1749.5 617.7L1750.1 617.7L1750.7 617.7L1751.3 617.8L1751.9 617.8L1752.5 617.8L1753.1 617.9L1753.7 617.9L1754.3 617.9L1754.9 618.0L1755.5 618.0L1756.1 618.0L1756.7 618.1L1757.3 618.1L1757.9 618.1L1758.5 618.2L1759.1 618.2L1759.7 618.2L1760.3 618.2L1760.9 618.3L1761.5 618.3L1762.1 618.3L1762.7 618.4L1763.3 618.4L1763.9 618.4L1764.5 618.5L1765.1 618.5L1765.7 618.5L1766.3 618.6L1766.9 618.6L1767.5 618.6L1768.1 618.6L1768.7 618.7L1769.3 618.7L1769.9 618.7L1770.5 618.7L1771.1 618.8L1771.7 618.8L1772.3 618.8L1772.9 618.9L1773.5 618.9L1774.1 618.9L1774.7 618.9L1775.3 619.0L1775.9 619.0L1776.5 619.0L1777.1 619.0L1777.7 619.0L1778.3 619.1L1778.9 619.1L1779.5 619.1L1780.1 619.1L1780.7 619.2L1781.3 619.2L1781.9 619.2L1782.0 619.2L1782.5 619.2L1783.1 619.2L1783.7 619.3L1784.3 619.3L1784.9 619.3L1785.5 619.3L1786.1 619.3L1786.7 619.4L1787.3 619.4L1787.9 619.4L1788.5 619.4L1789.1 619.4L1789.7 619.5L1790.3 619.5L1790.9 619.5L1791.5 619.5L1792.1 619.5L1792.7 619.6L1793.3 619.6L1793.9 619.6L1794.5 619.6L1795.1 619.6L1795.7 619.7L1796.3 619.7L1796.9 619.7L1797.5 619.7L1798.1 619.7L1798.7 619.7L1799.3 619.8L1799.9 619.8L1800.5 619.8L1801.1 619.8L1801.7 619.8L1802.3 619.9L1802.9 619.9L1803.5 619.9L1804.1 619.9L1804.7 619.9L1805.3 619.9L1805.9 620.0L1806.5 620.0L1807.1 620.0L1807.7 620.0L1808.3 620.0L1808.9 620.0L1809.5 620.1L1810.1 620.1L1810.7 620.1L1811.3 620.1L1811.9 620.1L1812.5 620.1L1813.1 620.1L1813.7 620.2L1814.3 620.2L1814.9 620.2L1815.5 620.2L1816.1 620.2L1816.7 620.2L1817.3 620.2L1817.9 620.2L1818.5 620.3L1819.1 620.3L1819.7 620.3L1820.3 620.3L1820.9 620.3L1821.5 620.3L1822.1 620.3L1822.7 620.3L1823.3 620.3L1823.9 620.3L1824.5 620.3L1825.1 620.4L1825.7 620.4L1826.3 620.4L1826.9 620.4L1827.5 620.4L1828.1 620.4L1828.7 620.4L1829.3 620.4L1829.9 620.4L1830.0 620.4L1830.5 620.4L1831.1 620.4L1831.7 620.4L1832.3 620.4L1832.9 620.4L1833.5 620.4L1834.1 620.4L1834.7 620.4L1835.3 620.4L1835.9 620.4L1836.5 620.4L1837.1 620.4L1837.7 620.4L1838.3 620.5L1838.9 620.5L1839.5 620.5L1840.1 620.5L1840.7 620.5L1841.3 620.5L1841.9 620.5L1842.5 620.5L1843.1 620.5L1843.7 620.5L1844.3 620.5L1844.9 620.5L1845.5 620.5L1846.1 620.5L1846.7 620.5L1847.3 620.5L1847.9 620.5L1848.5 620.5L1849.1 620.5L1849.7 620.5L1850.3 620.5L1850.9 620.5L1851.5 620.5L1852.1 620.5L1852.7 620.5L1853.3 620.5L1853.9 620.5L1854.5 620.5L1855.1 620.5L1855.7 620.5L1856.3 620.5L1856.9 620.6L1857.5 620.6L1858.1 620.6L1858.7 620.6L1859.3 620.6L1859.9 620.6L1860.5 620.6L1861.1 620.6L1861.7 620.6L1862.3 620.6L1862.9 620.6L1863.5 620.6L1864.1 620.6L1864.7 620.6L1865.3 620.6L1865.9 620.6L1866.5 620.6L1867.1 620.6L1867.7 620.6L1868.3 620.6L1868.9 620.6L1869.5 620.6L1870.1 620.6L1870.7 620.6L1871.3 620.6L1871.9 620.6L1872.5 620.6L1873.1 620.6L1873.7 620.6L1874.3 620.6L1874.9 620.6L1875.5 620.6L1876.1 620.6L1876.7 620.6L1877.3 620.6L1877.9 620.6L1878.5 620.6L1879.1 620.7L1879.7 620.7L1880.3 620.7L1880.9 620.7L1881.6 620.7L1882.2 620.7L1882.8 620.7L1883.4 620.7L1884.0 620.7L1884.6 620.7L1885.2 620.7L1885.8 620.7L1886.4 620.7L1887.0 620.7L1887.6 620.7L1888.2 620.7L1888.8 620.7L1889.4 620.7L1890.0 620.7L1890.6 620.7L1891.2 620.7L1891.8 620.7L1892.4 620.7L1893.0 620.7L1893.6 620.7L1894.2 620.7L1894.8 620.7L1895.4 620.7L1896.0 620.7L1896.6 620.7L1897.2 620.7L1897.8 620.7L1898.4 620.7L1899.0 620.7L1899.6 620.7L1900.2 620.7L1900.8 620.7L1901.4 620.7L1902.0 620.7L1902.6 620.7L1903.2 620.7L1903.8 620.7L1904.4 620.7L1905.0 620.7L1905.6 620.7L1906.2 620.7L1906.8 620.7L1907.4 620.7L1908.0 620.7L1908.6 620.7L1909.2 620.7L1909.8 620.7L1910.4 620.7L1911.0 620.7L1911.6 620.7L1912.2 620.8L1912.8 620.8L1913.4 620.8L1914.0 620.8L1914.6 620.8L1915.2 620.8L1915.8 620.8L1916.4 620.8L1917.0 620.8L1917.6 620.8L1918.2 620.8L1918.8 620.8L1919.4 620.8L1920.0 620.8L1920.6 620.8L1921.2 620.8L1921.8 620.8L1922.4 620.8L1923.0 620.8L1923.6 620.8L1924.2 620.8L1924.8 620.8L1925.4 620.8L1926.0 620.8L1926.6 620.8L1927.2 620.8L1927.8 620.8L1928.4 620.8L1929.0 620.8L1929.6 620.8L1930.2 620.8L1930.8 620.8L1931.4 620.8L1932.0 620.8L1932.6 620.8L1933.2 620.8L1933.8 620.8L1934.4 620.8L1935.0 620.8L1935.6 620.8L1936.2 620.8L1936.8 620.8L1937.4 620.8L1938.0 620.8L1938.6 620.8L1939.2 620.8L1939.8 620.8L1940.4 620.8L1941.0 620.8L1941.6 620.8L1942.2 620.8L1942.8 620.8L1943.4 620.8L1944.0 620.8L1944.6 620.8L1945.2 620.8L1945.8 620.8L1946.4 620.8L1947.0 620.8L1947.6 620.8L1948.2 620.8L1948.8 620.8L1949.4 620.8L1950.0 620.8L1950.6 620.8L1951.2 620.8L1951.8 620.8L1952.4 620.8L1953.0 620.8L1953.6 620.8L1954.2 620.8L1954.8 620.8L1955.4 620.8L1956.0 620.8L1956.6 620.8" stroke="#0000ff" stroke-width="6.8"/>
<path d="M320.1 620.8H1956.6" stroke="#000" stroke-width="4.3" stroke-dasharray="16.6 17.48" stroke-dashoffset="-0.3"/>
<path d="M320.1 620.8L468.3 620.8L470.7 226.0L471.8 281.0L476.9 279.5L478.6 380.0L480.2 450.0L481.5 477.0L482.1 481.5L482.7 484.6L483.3 486.0L483.4 486.0L483.9 485.2L484.5 482.7L485.1 479.2L485.7 475.6L486.3 472.6L486.5 472.0L486.9 470.7L487.5 468.7L488.1 466.9L488.7 465.3L489.3 464.1L489.9 463.5L490.2 463.4L490.5 463.5L491.1 464.1L491.7 465.2L492.3 466.7L492.9 468.5L493.6 470.6L494.2 472.9L494.8 475.4L495.4 477.9L496.0 480.4L496.6 482.8L496.7 483.3L497.2 485.2L497.8 488.1L498.4 491.3L499.0 494.7L499.6 498.1L500.2 501.4L500.8 504.5L501.4 507.2L501.9 509.2L502.0 509.5L502.6 511.5L503.2 513.4L503.8 515.2L504.4 516.9L505.0 518.5L505.6 520.1L506.2 521.6L506.8 523.0L507.4 524.3L508.0 525.6L508.6 526.9L509.2 528.1L509.8 529.3L510.4 530.5L510.6 530.8L511.0 531.6L511.6 532.7L512.2 533.8L512.8 534.8L513.4 535.9L514.0 536.9L514.6 537.9L515.2 538.8L515.8 539.7L516.4 540.5L517.0 541.3L517.7 542.1L518.3 542.8L518.9 543.5L519.2 543.8L519.5 544.1L520.1 544.7L520.7 545.3L521.3 545.9L521.9 546.4L522.5 547.0L523.1 547.6L523.7 548.2L524.3 548.7L524.9 549.3L525.5 549.8L526.1 550.2L526.7 550.7L527.3 551.1L527.9 551.5L528.5 551.8L529.1 552.1L529.7 552.4L530.3 552.6L530.9 552.8L531.5 552.9L532.1 552.9L532.2 552.9L532.7 552.9L533.3 552.9L533.9 552.8L534.5 552.8L535.1 552.7L535.7 552.6L536.3 552.5L536.9 552.3L537.5 552.2L538.1 552.1L538.7 551.9L539.3 551.7L539.9 551.5L540.5 551.3L541.1 551.1L541.8 550.9L542.4 550.7L543.0 550.5L543.6 550.2L544.2 550.0L544.8 549.8L545.4 549.5L546.0 549.3L546.6 549.1L547.2 548.8L547.8 548.6L548.4 548.3L549.0 548.1L549.6 547.9L550.2 547.6L550.8 547.4L551.4 547.2L552.0 547.0L552.6 546.8L553.2 546.6L553.8 546.4L553.8 546.4L554.4 546.2L555.0 546.0L555.6 545.8L556.2 545.6L556.8 545.4L557.4 545.2L558.0 544.9L558.6 544.7L559.2 544.5L559.8 544.2L560.4 544.0L561.0 543.7L561.6 543.5L562.2 543.3L562.8 543.0L563.4 542.8L564.0 542.5L564.6 542.3L565.3 542.1L565.9 541.9L566.5 541.7L567.1 541.5L567.7 541.3L568.3 541.1L568.9 540.9L569.5 540.7L570.1 540.6L570.7 540.5L571.3 540.3L571.9 540.2L572.5 540.1L573.1 540.0L573.7 540.0L574.3 539.9L574.9 539.9L575.4 539.9L575.5 539.9L576.1 539.9L576.7 539.9L577.3 539.9L577.9 540.0L578.5 540.0L579.1 540.1L579.7 540.1L580.3 540.2L580.9 540.3L581.5 540.4L582.1 540.4L582.7 540.5L583.3 540.6L583.9 540.8L584.5 540.9L585.1 541.0L585.7 541.1L586.3 541.3L586.9 541.4L587.5 541.6L588.1 541.7L588.7 541.9L589.4 542.0L590.0 542.2L590.6 542.4L591.2 542.6L591.8 542.7L592.4 542.9L593.0 543.1L593.6 543.3L594.2 543.5L594.8 543.7L595.4 543.9L596.0 544.1L596.6 544.4L597.0 544.5L597.2 544.6L597.8 544.8L598.4 545.1L599.0 545.5L599.6 545.9L600.2 546.3L600.8 546.8L601.4 547.3L602.0 547.8L602.6 548.4L603.2 549.0L603.8 549.5L604.4 550.1L605.0 550.8L605.6 551.4L606.2 552.0L606.8 552.6L607.4 553.2L608.0 553.8L608.6 554.4L609.2 554.9L609.8 555.5L610.0 555.6L610.4 556.0L611.0 556.5L611.6 557.0L612.2 557.5L612.8 558.1L613.5 558.6L614.1 559.1L614.7 559.6L615.3 560.1L615.9 560.7L616.5 561.2L617.1 561.7L617.7 562.2L618.3 562.7L618.9 563.3L619.5 563.8L620.1 564.3L620.7 564.8L621.3 565.4L621.9 565.9L622.5 566.4L623.1 566.9L623.7 567.4L624.3 568.0L624.9 568.5L625.5 700.0L628.2 1004.0L633.4 770.0L636.8 734.3L637.4 722.4L638.0 711.3L638.6 701.8L639.2 694.7L639.7 691.0L639.8 690.5L640.4 687.9L641.0 685.8L641.6 684.1L642.2 682.6L642.8 681.4L643.4 680.2L643.5 680.0L644.0 679.1L644.6 678.2L645.2 677.4L645.8 676.6L646.4 675.8L647.0 674.9L647.6 673.7L647.6 673.7L648.2 672.1L648.8 670.0L649.4 667.6L650.0 664.9L650.6 662.0L651.2 659.0L651.8 655.9L652.0 655.0L652.4 652.7L653.0 648.8L653.6 644.5L654.2 640.1L654.8 635.6L655.4 631.4L656.0 627.6L656.6 624.5L657.0 623.0L657.2 622.2L657.8 620.3L658.4 618.4L659.0 616.8L659.6 615.3L660.2 614.0L660.8 612.8L661.4 611.8L662.0 611.0L662.0 611.0L662.6 610.2L663.2 609.5L663.8 608.9L664.4 608.3L665.0 607.7L665.6 607.2L666.2 606.8L666.8 606.4L667.4 606.1L667.8 606.0L668.0 605.9L668.6 605.7L669.2 605.5L669.8 605.3L670.4 605.1L671.0 605.0L671.6 604.8L672.2 604.7L672.9 604.6L673.5 604.5L674.1 604.5L674.3 604.5L674.7 604.5L675.3 604.6L675.9 604.7L676.5 604.8L677.1 605.0L677.7 605.2L678.3 605.5L678.9 605.7L679.5 606.0L680.1 606.4L680.7 606.7L681.3 607.1L681.9 607.4L682.5 607.8L683.1 608.2L683.7 608.6L684.3 608.9L684.9 609.3L685.5 609.7L686.1 610.0L686.6 610.3L686.7 610.3L687.3 610.7L687.9 611.0L688.5 611.3L689.1 611.6L689.7 612.0L690.3 612.3L690.9 612.7L691.5 613.0L692.1 613.4L692.7 613.7L693.3 614.1L693.9 614.5L694.5 614.8L695.1 615.2L695.7 615.6L696.3 615.9L696.9 616.3L697.5 616.7L698.1 617.1L698.7 617.5L699.3 617.9L699.9 618.3L700.5 618.7L701.0 619.0L701.1 619.1L701.7 619.5L702.3 619.9L702.9 620.3L703.5 620.8L704.1 621.2L704.7 621.7L705.3 622.2L705.9 622.7L706.5 623.1L707.1 623.6L707.7 624.1L708.3 624.5L708.9 625.0L709.5 625.4L710.1 625.8L710.7 626.2L711.3 626.6L711.9 626.9L712.0 627.0L712.5 627.3L713.1 627.7L713.7 628.0L714.3 628.4L714.9 628.8L715.5 629.1L716.1 629.5L716.7 629.9L717.3 630.2L717.9 630.6L718.5 630.9L719.1 631.2L719.7 631.5L720.3 631.8L720.9 632.0L721.5 632.2L722.1 632.4L722.7 632.5L723.3 632.6L723.9 632.6L724.1 632.6L724.5 632.5L725.1 632.3L725.7 631.8L726.3 631.3L726.9 630.5L727.5 629.7L728.1 628.8L728.7 627.9L729.3 627.0L729.9 626.1L730.0 626.0L730.5 625.1L731.1 624.0L731.7 622.7L732.3 621.3L732.9 620.0L733.5 618.7L734.1 617.6L734.2 617.5L734.7 616.6L735.3 615.7L735.9 614.7L736.5 613.7L737.1 612.8L737.7 611.9L738.3 611.0L738.9 610.1L739.5 609.3L740.1 608.5L740.7 607.8L741.3 607.1L741.9 606.5L742.5 605.9L743.1 605.3L743.7 604.9L744.3 604.5L744.4 604.5L745.0 604.1L745.6 603.7L746.2 603.4L746.8 603.0L747.4 602.7L748.0 602.4L748.6 602.1L749.2 601.8L749.8 601.5L750.4 601.2L751.0 601.0L751.6 600.8L752.2 600.6L752.8 600.5L753.4 600.4L754.0 600.3L754.6 600.2L755.1 600.2L755.2 600.2L755.8 600.2L756.4 600.3L757.0 600.4L757.6 600.6L758.2 600.8L758.8 601.0L759.4 601.3L760.0 601.6L760.6 601.9L761.2 602.2L761.8 602.6L762.4 603.0L763.0 603.4L763.6 603.8L764.2 604.3L764.5 604.5L764.8 604.7L765.4 605.4L766.0 606.2L766.6 607.1L767.2 608.2L767.8 609.4L768.4 610.7L769.0 612.1L769.6 613.5L770.2 614.9L770.8 616.4L771.4 617.8L772.0 619.2L772.6 620.5L773.2 621.8L773.2 621.8L773.8 623.0L774.4 624.3L775.0 625.6L775.6 626.9L776.2 628.2L776.8 629.4L777.4 630.6L778.0 631.8L778.6 632.9L778.9 633.4L779.2 633.9L779.8 634.9L780.4 635.9L781.0 636.9L781.6 637.9L782.2 638.9L782.8 639.8L783.4 640.7L784.0 641.5L784.6 642.2L785.2 642.9L785.8 643.6L786.4 644.1L787.0 644.5L787.0 644.5L787.6 644.9L788.2 645.2L788.8 645.6L789.4 646.0L790.0 646.3L790.6 646.6L791.2 646.9L791.8 647.2L792.4 647.5L793.0 647.8L793.6 648.0L794.2 648.3L794.8 648.5L795.4 648.7L796.0 648.8L796.6 648.9L797.2 649.1L797.8 649.1L798.4 649.2L799.0 649.2L799.1 649.2L799.6 649.2L800.2 649.2L800.8 649.1L801.4 649.0L802.0 648.9L802.6 648.8L803.2 648.7L803.8 648.5L804.4 648.4L805.0 648.2L805.6 648.0L806.2 647.8L806.8 647.6L807.4 647.4L808.0 647.2L808.6 647.0L809.2 646.7L809.8 646.5L810.4 646.3L811.0 646.0L811.6 645.8L812.2 645.5L812.8 645.3L813.4 645.1L814.0 644.8L814.6 644.6L815.0 644.5L815.3 644.4L815.9 644.2L816.5 644.0L817.1 643.7L817.7 643.5L818.3 643.2L818.9 643.0L819.5 642.7L820.1 642.4L820.7 642.2L821.3 641.9L821.9 641.6L822.5 641.3L823.1 641.0L823.7 640.8L824.3 640.5L824.9 640.2L825.5 639.9L826.1 639.6L826.7 639.4L827.3 639.1L827.9 638.8L828.5 638.6L829.1 638.3L829.7 638.1L830.3 637.8L830.9 637.6L830.9 637.6L831.5 637.4L832.1 637.2L832.7 636.9L833.3 636.7L833.9 636.5L834.5 636.3L835.1 636.1L835.7 635.8L836.3 635.6L836.9 635.4L837.5 635.2L838.1 635.0L838.7 634.7L839.3 634.5L839.9 634.3L840.5 634.1L841.1 633.9L841.7 633.7L842.3 633.5L842.9 633.3L843.5 633.1L844.1 632.9L844.7 632.7L845.3 632.5L845.9 632.3L846.5 632.1L847.1 631.9L847.7 631.7L848.3 631.5L848.9 631.3L849.5 631.1L850.1 630.9L850.7 630.8L851.3 630.6L851.9 630.4L852.5 630.2L853.1 630.1L853.7 629.9L854.3 629.7L854.9 629.6L855.5 629.4L856.1 629.3L856.7 629.1L857.3 629.0L857.9 628.8L858.5 628.7L859.1 628.5L859.7 628.4L859.7 628.4L860.3 628.3L860.9 628.1L861.5 628.0L862.1 627.9L862.7 627.7L863.3 627.6L863.9 627.5L864.5 627.4L865.1 627.2L865.7 627.1L866.3 627.0L866.9 626.9L867.5 626.8L868.1 626.7L868.7 626.5L869.3 626.4L869.9 626.3L870.5 626.2L871.1 626.1L871.7 626.0L872.3 625.9L872.9 625.8L873.5 625.7L874.1 625.6L874.7 625.5L875.3 625.4L875.9 625.3L876.5 625.2L877.1 625.1L877.7 625.0L878.3 624.9L878.9 624.8L879.5 624.7L880.1 624.6L880.7 624.5L881.3 624.4L881.9 624.3L882.5 624.3L883.1 624.2L883.7 624.1L884.3 624.0L884.9 623.9L885.5 623.8L886.1 623.7L886.8 623.7L887.4 623.6L888.0 623.5L888.6 623.4L888.6 623.4L889.2 623.3L889.8 623.2L890.4 623.2L891.0 623.1L891.6 623.0L892.2 622.9L892.8 622.8L893.4 622.7L894.0 622.7L894.6 622.6L895.2 622.5L895.8 622.4L896.4 622.3L897.0 622.3L897.6 622.2L898.2 622.1L898.8 622.1L899.4 622.0L900.0 621.9L900.6 621.9L901.2 621.8L901.8 621.7L902.4 621.7L903.0 621.6L903.6 621.6L904.2 621.6L904.8 621.5L905.0 621.5L905.4 621.5L906.0 621.4L906.6 621.4L907.2 621.4L907.8 621.3L908.4 621.3L909.0 621.3L909.6 621.2L910.2 621.2L910.8 621.2L911.4 621.1L912.0 621.1L912.6 621.1L913.2 621.0L913.8 621.0L914.4 621.0L915.0 621.0L915.6 620.9L916.2 620.9L916.8 620.9L917.4 620.9L918.0 620.9L918.6 620.8L919.2 620.8L919.8 620.8L920.4 620.8L921.0 620.8L921.6 620.8L922.2 620.8L922.8 700.0L924.3 946.0L928.5 780.0L932.3 838.0L937.5 760.6L938.1 752.1L938.7 744.1L939.3 736.7L939.9 730.0L940.5 724.1L941.0 720.0L941.1 719.2L941.7 715.2L942.3 711.9L942.9 708.8L943.5 705.8L944.1 702.5L944.5 700.0L944.7 698.5L945.3 693.6L945.9 688.6L946.2 686.5L946.5 684.4L947.1 680.5L947.7 676.8L948.3 673.3L948.9 669.9L949.5 666.6L950.1 663.4L950.7 660.2L951.3 657.1L951.9 653.9L952.3 651.9L952.5 650.8L953.1 647.6L953.7 644.5L954.3 641.5L954.9 638.5L955.5 635.6L956.1 632.6L956.7 629.7L957.3 626.7L957.9 623.8L958.5 620.8L959.1 617.7L959.2 617.3L959.7 614.5L960.3 611.1L960.9 607.6L961.5 604.0L962.1 600.7L962.7 597.5L963.3 594.8L963.9 592.6L963.9 592.5L964.5 590.5L965.1 588.6L965.7 586.9L966.3 585.2L966.9 583.6L967.5 582.2L968.1 580.9L968.7 579.8L969.3 578.8L969.9 578.1L970.0 578.0L970.5 577.5L971.1 576.9L971.7 576.3L972.3 575.7L972.9 575.2L973.5 574.8L974.1 574.3L974.7 574.0L975.3 573.7L975.9 573.4L976.5 573.2L977.1 573.1L977.6 573.1L977.7 573.1L978.3 573.2L978.9 573.3L979.5 573.5L980.1 573.7L980.7 574.1L981.3 574.5L981.9 574.9L982.5 575.4L983.1 575.9L983.7 576.5L984.3 577.1L984.9 577.8L985.5 578.4L986.1 579.1L986.8 579.9L987.4 580.6L988.0 581.4L988.6 582.1L989.2 582.9L989.8 583.7L989.9 583.9L990.4 584.5L991.0 585.5L991.6 586.6L992.2 587.8L992.8 589.1L993.4 590.5L994.0 592.0L994.6 593.5L995.2 595.0L995.8 596.5L996.4 598.0L997.0 599.5L997.1 599.8L997.6 600.9L998.2 602.4L998.8 603.9L999.4 605.4L1000.0 606.9L1000.6 608.4L1001.2 610.0L1001.8 611.6L1002.4 613.2L1003.0 614.8L1003.6 616.5L1004.2 618.1L1004.3 618.5L1004.8 619.8L1005.4 621.4L1006.0 623.1L1006.6 624.7L1007.2 626.4L1007.8 628.1L1008.4 629.9L1009.0 631.7L1009.6 633.5L1010.2 635.5L1010.8 637.6L1011.4 639.7L1011.5 640.2L1012.0 642.0L1012.6 644.6L1013.2 647.2L1013.8 650.1L1014.4 653.0L1015.0 656.1L1015.6 659.2L1016.2 662.4L1016.8 665.6L1016.9 666.2L1017.4 668.8L1018.0 672.1L1018.6 675.6L1019.2 679.1L1019.8 682.7L1020.4 686.4L1021.0 690.1L1021.6 693.8L1022.2 697.6L1022.7 700.8L1022.8 701.3L1023.4 705.0L1024.0 708.7L1024.6 712.4L1025.2 716.4L1025.8 720.7L1026.2 723.9L1026.4 725.5L1027.0 731.5L1027.6 738.0L1028.2 744.2L1028.5 747.0L1028.8 749.5L1029.4 754.8L1030.0 759.8L1030.6 764.1L1031.2 767.1L1031.4 767.8L1031.8 768.8L1032.4 770.2L1033.0 771.4L1033.6 772.1L1034.2 772.4L1034.2 772.4L1034.8 772.3L1035.4 772.1L1036.0 771.7L1036.6 771.3L1037.2 770.9L1037.8 770.4L1038.4 770.0L1039.0 769.7L1039.6 769.5L1040.0 769.5L1040.2 769.5L1040.8 769.7L1041.4 770.2L1042.0 770.9L1042.6 771.7L1043.2 772.7L1043.8 773.8L1044.4 775.0L1045.0 776.2L1045.6 777.4L1046.2 778.7L1046.8 779.8L1046.9 780.0L1047.4 781.0L1048.0 782.3L1048.6 783.6L1049.2 785.0L1049.8 786.5L1050.4 788.0L1051.0 789.5L1051.6 790.9L1051.6 790.9L1052.2 792.4L1052.8 794.0L1053.4 795.7L1054.0 797.3L1054.6 799.1L1055.2 800.8L1055.8 802.5L1056.4 804.3L1057.0 806.0L1057.6 807.7L1058.2 809.3L1058.8 810.9L1059.4 812.4L1060.0 813.8L1060.6 815.1L1061.2 816.3L1061.7 817.2L1061.8 817.4L1062.4 818.5L1063.0 819.6L1063.6 820.6L1064.2 821.7L1064.8 822.8L1065.4 823.8L1066.0 824.8L1066.6 825.8L1067.2 826.6L1067.8 827.5L1068.4 828.2L1069.0 828.8L1069.6 829.4L1070.2 829.8L1070.8 830.1L1071.4 830.3L1071.8 830.3L1072.0 830.3L1072.6 830.3L1073.2 830.2L1073.8 830.2L1074.4 830.1L1075.0 830.0L1075.6 829.9L1076.2 829.8L1076.8 829.7L1077.4 829.6L1078.0 829.5L1078.6 829.5L1079.2 829.4L1079.8 829.3L1080.4 829.3L1080.9 829.3L1081.0 829.3L1081.6 829.6L1082.2 830.1L1082.8 830.8L1083.4 831.6L1084.0 832.5L1084.6 833.4L1085.2 834.2L1085.9 834.8L1086.5 835.3L1087.0 835.4L1087.1 835.4L1087.7 835.3L1088.3 835.1L1088.9 834.8L1089.5 834.4L1090.1 834.0L1090.7 833.4L1091.3 832.7L1091.9 832.0L1092.5 831.2L1093.1 830.3L1093.7 829.4L1094.3 828.4L1094.9 827.5L1095.5 826.4L1096.1 825.4L1096.7 824.3L1097.3 823.2L1097.9 822.2L1098.5 821.1L1099.1 820.1L1099.7 819.0L1100.3 818.0L1100.9 817.1L1101.5 816.1L1102.1 815.2L1102.1 815.2L1102.7 814.4L1103.3 813.5L1103.9 812.6L1104.5 811.8L1105.1 810.9L1105.7 810.0L1106.3 809.1L1106.9 808.1L1107.5 807.2L1108.1 806.3L1108.7 805.4L1109.3 804.4L1109.9 803.5L1110.5 802.6L1111.1 801.6L1111.7 800.7L1112.3 799.8L1112.9 798.9L1113.5 798.0L1114.1 797.0L1114.7 796.1L1115.3 795.3L1115.9 794.4L1116.5 793.5L1117.1 792.6L1117.7 791.8L1118.3 790.9L1118.3 790.9L1118.9 790.1L1119.5 789.4L1120.1 788.7L1120.7 788.0L1121.3 787.3L1121.9 786.7L1122.5 786.0L1123.1 785.3L1123.7 784.6L1124.3 783.8L1124.9 783.0L1125.5 782.0L1126.1 781.0L1126.6 780.0L1126.7 779.8L1127.3 778.4L1127.9 776.6L1128.5 774.5L1129.1 772.2L1129.7 769.7L1130.3 767.0L1130.9 764.2L1131.5 761.3L1132.1 758.5L1132.7 755.6L1133.3 752.9L1133.9 750.2L1134.5 747.8L1134.7 747.0L1135.1 745.5L1135.7 743.2L1136.3 740.8L1136.9 738.5L1137.5 736.2L1138.1 733.9L1138.7 731.6L1139.3 729.4L1139.9 727.2L1140.5 725.2L1141.1 723.2L1141.7 721.3L1142.3 719.5L1142.8 718.1L1142.9 717.8L1143.5 716.2L1144.1 714.6L1144.7 713.0L1145.3 711.5L1145.9 710.1L1146.5 708.8L1147.1 707.6L1147.7 706.5L1148.3 705.6L1148.5 705.4L1148.9 704.9L1149.5 704.1L1150.1 703.4L1150.7 702.7L1151.3 702.0L1151.9 701.4L1152.5 700.8L1153.1 700.3L1153.7 699.9L1154.3 699.5L1154.9 699.3L1155.5 699.1L1156.0 699.1L1156.1 699.1L1156.7 699.2L1157.3 699.3L1157.9 699.6L1158.5 699.9L1159.1 700.3L1159.7 700.7L1160.3 701.2L1160.9 701.7L1161.5 702.3L1162.1 702.9L1162.7 703.5L1163.3 704.1L1163.5 704.3L1163.9 704.8L1164.5 705.6L1165.1 706.5L1165.7 707.5L1166.3 708.7L1166.9 709.9L1167.5 711.3L1168.1 712.7L1168.7 714.3L1169.3 715.8L1169.3 715.9L1169.9 717.8L1170.5 720.0L1171.1 722.5L1171.7 725.2L1172.3 728.0L1172.9 730.9L1173.5 733.7L1173.9 735.4L1174.1 736.5L1174.7 739.3L1175.3 742.3L1175.9 745.2L1176.5 748.3L1177.1 751.3L1177.7 754.5L1178.3 757.7L1178.5 758.5L1178.9 760.8L1179.5 763.9L1180.1 767.1L1180.7 770.6L1181.3 774.6L1181.4 775.0L1181.9 780.3L1182.5 786.6L1182.9 788.9L1183.1 789.9L1183.8 791.9L1184.4 793.6L1185.0 794.9L1185.6 796.1L1186.2 797.1L1186.8 798.1L1187.4 799.1L1188.0 800.2L1188.6 801.4L1188.7 801.8L1189.2 802.9L1189.8 804.4L1190.4 805.9L1191.0 807.4L1191.6 809.0L1192.2 810.7L1192.8 812.4L1193.4 814.2L1194.0 816.2L1194.4 817.7L1194.6 818.3L1195.2 820.7L1195.8 823.5L1196.4 826.5L1197.0 829.7L1197.6 833.1L1198.2 836.5L1198.8 839.9L1199.4 843.3L1200.0 846.4L1200.6 849.4L1201.2 852.1L1201.6 853.8L1201.8 854.4L1202.4 856.6L1203.0 858.7L1203.6 860.7L1204.2 862.7L1204.8 864.6L1205.4 866.4L1206.0 868.1L1206.6 869.8L1207.2 871.3L1207.8 872.8L1208.4 874.2L1208.9 875.4L1209.0 875.6L1209.6 876.9L1210.2 878.2L1210.8 879.5L1211.4 880.7L1212.0 881.9L1212.6 883.1L1213.2 884.3L1213.8 885.3L1214.4 886.3L1215.0 887.2L1215.6 888.0L1216.2 888.8L1216.8 889.4L1217.4 889.8L1217.5 889.9L1218.0 890.2L1218.6 890.6L1219.2 890.9L1219.8 891.3L1220.4 891.6L1221.0 891.9L1221.6 892.2L1222.2 892.4L1222.8 892.7L1223.4 892.9L1224.0 893.1L1224.6 893.2L1225.2 893.3L1225.8 893.4L1226.4 893.5L1226.9 893.5L1227.0 893.5L1227.6 893.5L1228.2 893.4L1228.8 893.2L1229.4 893.1L1230.0 892.8L1230.6 892.6L1231.2 892.3L1231.8 892.0L1232.4 891.6L1233.0 891.3L1233.6 890.9L1234.2 890.6L1234.8 890.2L1235.4 889.8L1236.0 889.4L1236.6 889.0L1237.2 888.7L1237.7 888.4L1237.8 888.3L1238.4 888.0L1239.0 887.7L1239.6 887.3L1240.2 886.9L1240.8 886.6L1241.4 886.2L1242.0 885.8L1242.6 885.4L1243.2 885.0L1243.8 884.6L1244.4 884.2L1245.0 883.7L1245.6 883.3L1246.2 882.9L1246.8 882.4L1247.4 882.0L1248.0 881.5L1248.6 881.1L1249.2 880.6L1249.8 880.2L1250.4 879.7L1251.0 879.2L1251.6 878.8L1252.2 878.3L1252.2 878.3L1252.8 877.8L1253.4 877.4L1254.0 877.0L1254.6 876.6L1255.2 876.1L1255.8 875.7L1256.4 875.1L1257.0 874.5L1257.6 873.9L1258.2 873.1L1258.6 872.6L1258.8 872.2L1259.4 870.8L1260.0 869.0L1260.6 866.8L1261.2 864.3L1261.8 861.7L1262.4 859.0L1263.0 856.4L1263.6 854.1L1263.7 853.8L1264.2 851.8L1264.8 849.5L1265.4 847.2L1266.0 844.8L1266.6 842.5L1267.2 840.2L1267.8 838.0L1268.4 835.8L1269.0 833.7L1269.5 832.2L1269.6 831.8L1270.2 829.8L1270.8 827.8L1271.4 825.9L1272.0 823.9L1272.6 822.1L1273.2 820.2L1273.8 818.5L1274.4 816.9L1275.0 815.3L1275.6 813.9L1276.2 812.7L1276.7 811.9L1276.8 811.7L1277.4 810.7L1278.0 809.7L1278.6 808.8L1279.2 808.0L1279.8 807.1L1280.4 806.4L1281.0 805.7L1281.6 805.0L1282.2 804.5L1282.9 804.0L1283.5 803.6L1283.9 803.3L1284.1 803.2L1284.7 802.9L1285.3 802.6L1285.9 802.3L1286.5 802.1L1287.1 801.8L1287.7 801.6L1288.3 801.4L1288.9 801.3L1289.5 801.2L1290.1 801.1L1290.4 801.1L1290.7 801.1L1291.3 801.2L1291.9 801.3L1292.5 801.4L1293.1 801.6L1293.7 801.9L1294.3 802.1L1294.9 802.5L1295.5 802.8L1296.1 803.2L1296.7 803.6L1297.3 804.1L1297.9 804.5L1298.5 805.0L1299.1 805.6L1299.7 806.1L1299.8 806.2L1300.3 806.7L1300.9 807.4L1301.5 808.3L1302.1 809.4L1302.7 810.6L1303.3 811.9L1303.9 813.3L1304.5 814.8L1305.1 816.5L1305.5 817.7L1305.7 818.2L1306.3 820.5L1306.9 823.2L1307.5 826.2L1308.1 829.5L1308.7 832.8L1309.3 836.2L1309.9 839.3L1309.9 839.4L1310.5 842.2L1311.1 845.1L1311.7 848.0L1312.3 850.9L1312.9 853.9L1313.5 857.0L1314.1 860.3L1314.2 861.0L1314.7 864.0L1315.3 868.2L1315.9 872.6L1316.5 877.2L1317.1 881.5L1317.7 885.5L1318.3 888.9L1318.5 889.9L1318.9 891.6L1319.5 894.1L1320.1 896.4L1320.7 898.5L1321.3 900.5L1321.9 902.4L1322.5 904.1L1323.1 905.7L1323.7 907.2L1324.3 908.6L1324.3 908.6L1324.9 909.9L1325.5 911.1L1326.1 912.4L1326.7 913.5L1327.3 914.7L1327.9 915.7L1328.5 916.7L1329.1 917.6L1329.7 918.4L1330.3 919.1L1330.9 919.7L1331.5 920.2L1332.6 800.0L1334.6 330.0L1337.4 670.0L1340.0 715.0L1340.6 721.0L1341.2 726.9L1341.8 732.5L1342.4 737.9L1343.0 742.8L1343.6 747.4L1344.2 751.4L1344.8 754.9L1345.4 757.8L1346.0 760.0L1346.0 760.0L1346.6 761.8L1347.2 763.6L1347.8 765.3L1348.4 766.8L1349.0 768.2L1349.6 769.5L1350.2 770.5L1350.8 771.4L1351.4 772.0L1352.0 772.4L1352.5 772.5L1352.6 772.5L1353.2 772.3L1353.8 771.8L1354.4 771.0L1355.0 770.1L1355.6 768.9L1356.2 767.7L1356.8 766.3L1357.4 764.8L1358.0 763.3L1358.6 761.7L1359.2 760.2L1359.3 760.0L1359.8 758.6L1360.4 756.8L1361.0 754.8L1361.6 752.6L1362.2 750.4L1362.8 748.0L1363.4 745.7L1363.9 743.9L1364.0 743.5L1364.6 740.9L1365.2 738.2L1365.8 735.4L1366.4 732.9L1367.0 730.9L1367.4 730.0L1367.6 729.6L1368.2 728.6L1368.8 727.6L1369.4 726.8L1370.0 726.1L1370.6 725.5L1371.2 724.9L1371.8 724.3L1372.4 723.8L1373.0 723.3L1373.2 723.1L1373.6 722.7L1374.2 722.2L1374.8 721.8L1375.4 721.4L1376.0 720.9L1376.6 720.5L1377.2 720.1L1377.8 719.7L1377.8 719.7L1378.4 719.3L1379.0 718.8L1379.6 718.4L1380.2 718.0L1380.8 717.6L1381.4 717.3L1382.0 716.9L1382.6 716.5L1383.2 716.1L1383.8 715.7L1384.4 715.3L1385.0 714.9L1385.6 714.5L1386.2 714.1L1386.8 713.6L1387.4 713.2L1388.0 712.7L1388.6 712.2L1389.2 711.7L1389.3 711.6L1389.8 711.1L1390.4 710.5L1391.0 709.9L1391.6 709.3L1392.2 708.6L1392.8 708.0L1393.4 707.3L1394.0 706.6L1394.6 705.8L1395.2 705.1L1395.8 704.3L1396.4 703.5L1397.0 702.8L1397.6 702.0L1398.2 701.2L1398.8 700.4L1399.4 699.6L1400.0 698.8L1400.6 698.0L1400.9 697.7L1401.2 697.3L1401.8 696.5L1402.4 695.6L1403.0 694.8L1403.6 694.0L1404.2 693.1L1404.8 692.3L1405.4 691.4L1406.0 690.6L1406.6 689.7L1407.2 688.8L1407.8 688.0L1408.4 687.1L1409.0 686.3L1409.6 685.5L1410.0 685.0L1410.2 684.7L1410.8 683.9L1411.4 683.1L1412.0 682.3L1412.6 681.5L1413.2 680.7L1413.8 679.9L1414.4 679.1L1415.0 678.3L1415.6 677.5L1416.2 676.7L1416.8 675.9L1417.5 675.2L1418.1 674.4L1418.7 673.6L1419.3 672.8L1419.9 672.1L1420.5 671.3L1421.1 670.5L1421.7 669.8L1422.3 669.0L1422.9 668.3L1423.5 667.5L1424.1 666.8L1424.7 666.0L1425.3 665.3L1425.9 664.5L1426.5 663.8L1427.1 663.0L1427.7 662.3L1428.3 661.6L1428.8 660.9L1428.9 660.8L1429.5 660.1L1430.1 659.4L1430.7 658.6L1431.3 657.9L1431.9 657.2L1432.5 656.5L1433.1 655.7L1433.7 655.0L1434.3 654.3L1434.9 653.5L1435.5 652.8L1436.1 652.1L1436.7 651.4L1437.3 650.7L1437.9 649.9L1438.5 649.2L1439.1 648.5L1439.7 647.8L1440.3 647.1L1440.9 646.4L1441.5 645.7L1442.1 644.9L1442.7 644.2L1443.3 643.5L1443.9 642.8L1444.5 642.1L1445.1 641.5L1445.7 640.8L1446.3 640.1L1446.9 639.4L1447.5 638.7L1448.1 638.0L1448.7 637.4L1449.3 636.7L1449.9 636.0L1450.5 635.4L1451.1 634.7L1451.7 634.1L1452.3 633.4L1452.9 632.8L1453.5 632.1L1454.1 631.5L1454.7 630.9L1455.3 630.3L1455.9 629.6L1456.5 629.0L1457.1 628.4L1457.7 627.8L1457.7 627.8L1458.3 627.2L1458.9 626.6L1459.5 626.1L1460.1 625.5L1460.7 624.9L1461.3 624.3L1461.9 623.8L1462.5 623.2L1463.1 622.7L1463.7 622.1L1464.3 621.6L1464.9 621.1L1465.5 620.5L1466.1 620.0L1466.7 619.5L1467.3 618.9L1467.9 618.4L1468.5 617.9L1469.1 617.4L1469.7 616.9L1470.3 616.3L1470.9 615.8L1471.5 615.3L1472.1 614.8L1472.1 614.8L1472.7 614.3L1473.3 613.8L1473.9 613.3L1474.5 612.7L1475.1 612.2L1475.7 611.7L1476.3 611.2L1476.9 610.6L1477.5 610.1L1478.1 609.6L1478.7 609.1L1479.3 608.6L1479.9 608.0L1480.5 607.6L1481.1 607.1L1481.7 606.6L1482.3 606.1L1482.9 605.7L1483.5 605.2L1484.1 604.8L1484.7 604.4L1485.3 604.0L1485.9 603.6L1486.5 603.2L1486.5 603.2L1487.1 602.8L1487.7 602.5L1488.3 602.1L1488.9 601.8L1489.5 601.5L1490.1 601.1L1490.7 600.8L1491.3 600.5L1491.9 600.1L1492.5 599.8L1493.1 599.5L1493.7 599.2L1494.3 598.9L1494.9 598.6L1495.5 598.3L1496.1 598.0L1496.7 597.7L1497.3 597.4L1497.9 597.1L1498.5 596.9L1499.1 596.6L1499.7 596.3L1500.3 596.1L1500.9 595.8L1501.5 595.6L1502.1 595.3L1502.7 595.1L1503.3 594.9L1503.9 594.6L1504.5 594.4L1505.1 594.2L1505.7 594.0L1506.3 593.8L1506.9 593.6L1507.5 593.4L1508.1 593.2L1508.1 593.2L1508.7 593.0L1509.3 592.8L1509.9 592.6L1510.5 592.5L1511.1 592.3L1511.7 592.1L1512.3 591.9L1512.9 591.7L1513.5 591.6L1514.1 591.4L1514.7 591.2L1515.3 591.1L1515.9 590.9L1516.5 590.7L1517.1 590.6L1517.7 590.4L1518.3 590.3L1518.9 590.1L1519.5 590.0L1520.1 589.8L1520.7 589.7L1521.3 589.6L1521.9 589.4L1522.5 589.3L1523.1 589.2L1523.7 589.1L1524.3 588.9L1524.9 588.8L1525.5 588.7L1526.1 588.6L1526.7 588.5L1527.3 588.4L1527.9 588.3L1528.5 588.2L1529.1 588.2L1529.7 588.1L1529.7 588.1L1530.3 588.0L1530.9 588.0L1531.5 587.9L1532.1 587.8L1532.7 587.7L1533.3 587.7L1533.9 587.6L1534.5 587.5L1535.1 587.5L1535.7 587.4L1536.3 587.3L1536.9 587.3L1537.5 587.2L1538.1 587.1L1538.7 587.1L1539.3 587.0L1539.9 587.0L1540.5 586.9L1541.1 586.8L1541.7 586.8L1542.3 586.7L1542.9 586.7L1543.5 586.6L1544.1 586.6L1544.7 586.5L1545.3 586.5L1545.9 586.4L1546.5 586.4L1547.1 586.3L1547.7 586.3L1548.3 586.3L1548.9 586.2L1549.5 586.2L1550.1 586.1L1550.7 586.1L1551.3 586.1L1551.9 586.1L1552.5 586.0L1553.1 586.0L1553.7 586.0L1554.3 586.0L1554.9 585.9L1555.5 585.9L1556.1 585.9L1556.7 585.9L1557.3 585.9L1557.9 585.9L1558.5 585.9L1558.6 585.9L1559.1 585.9L1559.7 585.9L1560.3 585.9L1560.9 585.9L1561.5 585.9L1562.1 586.0L1562.7 586.0L1563.3 586.0L1563.9 586.0L1564.5 586.0L1565.1 586.1L1565.7 586.1L1566.3 586.1L1566.9 586.2L1567.5 586.2L1568.1 586.3L1568.7 586.3L1569.3 586.3L1569.9 586.4L1570.5 586.4L1571.1 586.5L1571.8 586.5L1572.4 586.6L1573.0 586.7L1573.6 586.7L1574.2 586.8L1574.8 586.8L1575.4 586.9L1576.0 586.9L1576.6 587.0L1577.2 587.1L1577.8 587.1L1578.4 587.2L1579.0 587.2L1579.6 587.3L1580.2 587.4L1580.8 587.4L1581.4 587.5L1582.0 587.6L1582.6 587.6L1583.2 587.7L1583.8 587.7L1584.4 587.8L1585.0 587.9L1585.6 587.9L1586.2 588.0L1586.8 588.0L1587.4 588.1L1587.4 588.1L1588.0 588.2L1588.6 588.2L1589.2 588.3L1589.8 588.3L1590.4 588.4L1591.0 588.5L1591.6 588.5L1592.2 588.6L1592.8 588.7L1593.4 588.7L1594.0 588.8L1594.6 588.9L1595.2 589.0L1595.8 589.0L1596.4 589.1L1597.0 589.2L1597.6 589.3L1598.2 589.3L1598.8 589.4L1599.4 589.5L1600.0 589.6L1600.6 589.7L1601.2 589.7L1601.8 589.8L1602.4 589.9L1603.0 590.0L1603.6 590.1L1604.2 590.2L1604.8 590.2L1605.4 590.3L1606.0 590.4L1606.6 590.5L1607.2 590.6L1607.8 590.7L1608.4 590.7L1609.0 590.8L1609.6 590.9L1610.2 591.0L1610.8 591.1L1611.4 591.2L1612.0 591.2L1612.6 591.3L1613.2 591.4L1613.8 591.5L1614.4 591.6L1615.0 591.6L1615.6 591.7L1616.2 591.8L1616.2 591.8L1616.8 591.9L1617.4 592.0L1618.0 592.0L1618.6 592.1L1619.2 592.2L1619.8 592.3L1620.4 592.3L1621.0 592.4L1621.6 592.5L1622.2 592.6L1622.8 592.6L1623.4 592.7L1624.0 592.8L1624.6 592.9L1625.2 593.0L1625.8 593.0L1626.4 593.1L1627.0 593.2L1627.6 593.3L1628.2 593.3L1628.8 593.4L1629.4 593.5L1630.0 593.6L1630.6 593.6L1631.2 593.7L1631.8 593.8L1632.4 593.9L1633.0 593.9L1633.6 594.0L1634.2 594.1L1634.8 594.2L1635.4 594.3L1636.0 594.3L1636.6 594.4L1637.2 594.5L1637.8 594.6L1638.4 594.6L1639.0 594.7L1639.6 594.8L1640.2 594.9L1640.8 595.0L1641.4 595.0L1642.0 595.1L1642.6 595.2L1643.2 595.3L1643.8 595.3L1644.4 595.4L1645.0 595.5L1645.6 595.6L1646.2 595.6L1646.8 595.7L1647.4 595.8L1648.0 595.9L1648.6 596.0L1649.2 596.0L1649.8 596.1L1650.4 596.2L1651.0 596.3L1651.6 596.4L1652.2 596.4L1652.8 596.5L1653.4 596.6L1654.0 596.7L1654.6 596.7L1655.2 596.8L1655.8 596.9L1656.4 597.0L1657.0 597.1L1657.6 597.1L1658.0 597.2L1658.2 597.2L1658.8 597.3L1659.4 597.4L1660.0 597.5L1660.6 597.6L1661.2 597.6L1661.8 597.7L1662.4 597.8L1663.0 597.9L1663.6 598.0L1664.2 598.0L1664.8 598.1L1665.4 598.2L1666.0 598.3L1666.6 598.4L1667.2 598.5L1667.8 598.5L1668.4 598.6L1669.0 598.7L1669.6 598.8L1670.2 598.9L1670.8 599.0L1671.4 599.1L1672.0 599.1L1672.6 599.2L1673.2 599.3L1673.8 599.4L1674.4 599.5L1675.0 599.6L1675.6 599.7L1676.2 599.7L1676.8 599.8L1677.4 599.9L1678.0 600.0L1678.6 600.1L1679.2 600.2L1679.8 600.2L1680.4 600.3L1681.0 600.4L1681.6 600.5L1682.2 600.6L1682.8 600.7L1683.4 600.8L1684.0 600.8L1684.6 600.9L1685.2 601.0L1685.8 601.1L1686.4 601.2L1687.0 601.3L1687.6 601.3L1688.2 601.4L1688.8 601.5L1689.4 601.6L1690.0 601.7L1690.6 601.8L1691.2 601.8L1691.8 601.9L1692.4 602.0L1693.0 602.1L1693.6 602.2L1694.2 602.3L1694.8 602.3L1695.4 602.4L1696.0 602.5L1696.6 602.6L1697.2 602.7L1697.8 602.7L1698.4 602.8L1699.0 602.9L1699.6 603.0L1700.2 603.0L1700.8 603.1L1701.4 603.2L1701.5 603.2L1702.0 603.3L1702.6 603.3L1703.2 603.4L1703.8 603.5L1704.4 603.6L1705.0 603.6L1705.6 603.7L1706.2 603.8L1706.8 603.9L1707.4 603.9L1708.0 604.0L1708.6 604.1L1709.2 604.1L1709.8 604.2L1710.4 604.3L1711.0 604.4L1711.6 604.4L1712.2 604.5L1712.8 604.6L1713.4 604.6L1714.0 604.7L1714.6 604.8L1715.2 604.8L1715.8 604.9L1716.4 605.0L1717.0 605.1L1717.6 605.1L1718.2 605.2L1718.8 605.3L1719.4 605.3L1720.0 605.4L1720.6 605.5L1721.2 605.5L1721.8 605.6L1722.4 605.7L1723.0 605.7L1723.6 605.8L1724.2 605.9L1724.8 605.9L1725.5 606.0L1726.1 606.1L1726.7 606.1L1727.3 606.2L1727.9 606.3L1728.5 606.3L1729.1 606.4L1729.7 606.5L1730.3 606.6L1730.9 606.6L1731.5 606.7L1732.1 606.8L1732.7 606.8L1733.3 606.9L1733.9 607.0L1734.5 607.0L1735.1 607.1L1735.7 607.2L1736.3 607.2L1736.9 607.3L1737.5 607.4L1738.1 607.5L1738.7 607.5L1739.3 607.6L1739.9 607.7L1740.5 607.7L1741.1 607.8L1741.7 607.9L1741.8 607.9L1742.3 608.0L1742.9 608.0L1743.5 608.1L1744.1 608.2L1744.7 608.2L1745.3 608.3L1745.9 608.4L1746.5 608.4L1747.1 608.5L1747.7 608.6L1748.3 608.7L1748.9 608.7L1749.5 608.8L1750.1 608.9L1750.7 608.9L1751.3 609.0L1751.9 609.1L1752.5 609.1L1753.1 609.2L1753.7 609.3L1754.3 609.4L1754.9 609.4L1755.5 609.5L1756.1 609.6L1756.7 609.7L1757.3 609.7L1757.9 609.8L1758.5 609.9L1759.1 610.0L1759.7 610.1L1760.3 610.1L1760.9 610.2L1761.5 610.3L1762.0 610.4L1762.1 610.4L1762.7 610.5L1763.3 610.6L1763.9 610.7L1764.5 610.8L1765.1 610.9L1765.7 611.0L1766.3 611.1L1766.9 611.3L1767.5 611.4L1768.1 611.5L1768.7 611.6L1769.3 611.7L1769.9 611.9L1770.5 612.0L1771.1 612.1L1771.7 612.2L1772.3 612.4L1772.9 612.5L1773.5 612.6L1774.1 612.7L1774.7 612.9L1775.3 613.0L1775.9 613.1L1776.5 613.2L1777.1 613.3L1777.7 613.5L1778.3 613.6L1778.9 613.7L1779.5 613.8L1780.1 613.9L1780.7 614.0L1781.3 614.1L1781.9 614.2L1782.2 614.2L1782.5 614.2L1783.1 614.3L1783.7 614.4L1784.3 614.5L1784.9 614.6L1785.5 614.6L1786.1 614.7L1786.7 614.8L1787.3 614.9L1787.9 614.9L1788.5 615.0L1789.1 615.1L1789.7 615.2L1790.3 615.2L1790.9 615.3L1791.5 615.4L1792.1 615.4L1792.7 615.5L1793.3 615.6L1793.9 615.6L1794.5 615.7L1795.1 615.8L1795.7 615.8L1796.3 615.9L1796.9 616.0L1797.5 616.0L1798.1 616.1L1798.7 616.1L1799.3 616.2L1799.9 616.2L1800.5 616.3L1801.1 616.4L1801.7 616.4L1802.3 616.5L1802.9 616.5L1803.5 616.6L1804.1 616.6L1804.7 616.7L1805.3 616.7L1805.9 616.8L1806.4 616.8L1806.5 616.8L1807.1 616.9L1807.7 616.9L1808.3 616.9L1808.9 617.0L1809.5 617.0L1810.1 617.1L1810.7 617.1L1811.3 617.2L1811.9 617.2L1812.5 617.3L1813.1 617.3L1813.7 617.3L1814.3 617.4L1814.9 617.4L1815.5 617.5L1816.1 617.5L1816.7 617.5L1817.3 617.6L1817.9 617.6L1818.5 617.6L1819.1 617.7L1819.7 617.7L1820.3 617.8L1820.9 617.8L1821.5 617.8L1822.1 617.9L1822.7 617.9L1823.3 617.9L1823.9 618.0L1824.5 618.0L1825.1 618.0L1825.7 618.1L1826.3 618.1L1826.9 618.1L1827.5 618.2L1828.1 618.2L1828.7 618.2L1829.3 618.2L1829.9 618.3L1830.5 618.3L1831.1 618.3L1831.7 618.4L1832.3 618.4L1832.6 618.4L1832.9 618.4L1833.5 618.4L1834.1 618.5L1834.7 618.5L1835.3 618.5L1835.9 618.5L1836.5 618.6L1837.1 618.6L1837.7 618.6L1838.3 618.7L1838.9 618.7L1839.5 618.7L1840.1 618.7L1840.7 618.8L1841.3 618.8L1841.9 618.8L1842.5 618.8L1843.1 618.8L1843.7 618.9L1844.3 618.9L1844.9 618.9L1845.5 618.9L1846.1 619.0L1846.7 619.0L1847.3 619.0L1847.9 619.0L1848.5 619.1L1849.1 619.1L1849.7 619.1L1850.3 619.1L1850.9 619.1L1851.5 619.2L1852.1 619.2L1852.7 619.2L1853.3 619.2L1853.9 619.2L1854.5 619.3L1855.1 619.3L1855.7 619.3L1856.3 619.3L1856.9 619.3L1857.5 619.4L1858.1 619.4L1858.7 619.4L1859.3 619.4L1859.9 619.4L1860.5 619.4L1861.1 619.5L1861.7 619.5L1862.3 619.5L1862.9 619.5L1862.9 619.5L1863.5 619.5L1864.1 619.5L1864.7 619.5L1865.3 619.6L1865.9 619.6L1866.5 619.6L1867.1 619.6L1867.7 619.6L1868.3 619.6L1868.9 619.7L1869.5 619.7L1870.1 619.7L1870.7 619.7L1871.3 619.7L1871.9 619.7L1872.5 619.7L1873.1 619.8L1873.7 619.8L1874.3 619.8L1874.9 619.8L1875.5 619.8L1876.1 619.8L1876.7 619.8L1877.3 619.8L1877.9 619.9L1878.5 619.9L1879.1 619.9L1879.8 619.9L1880.4 619.9L1881.0 619.9L1881.6 619.9L1882.2 619.9L1882.8 620.0L1883.4 620.0L1884.0 620.0L1884.6 620.0L1885.2 620.0L1885.8 620.0L1886.4 620.0L1887.0 620.0L1887.6 620.1L1888.2 620.1L1888.8 620.1L1889.4 620.1L1890.0 620.1L1890.6 620.1L1891.2 620.1L1891.8 620.1L1892.4 620.1L1893.0 620.1L1893.6 620.2L1894.2 620.2L1894.8 620.2L1895.4 620.2L1896.0 620.2L1896.6 620.2L1897.2 620.2L1897.8 620.2L1898.4 620.2L1899.0 620.2L1899.6 620.2L1900.2 620.3L1900.8 620.3L1901.4 620.3L1902.0 620.3L1902.6 620.3L1903.2 620.3L1903.3 620.3L1903.8 620.3L1904.4 620.3L1905.0 620.3L1905.6 620.3L1906.2 620.3L1906.8 620.3L1907.4 620.4L1908.0 620.4L1908.6 620.4L1909.2 620.4L1909.8 620.4L1910.4 620.4L1911.0 620.4L1911.6 620.4L1912.2 620.4L1912.8 620.4L1913.4 620.4L1914.0 620.4L1914.6 620.4L1915.2 620.4L1915.8 620.5L1916.4 620.5L1917.0 620.5L1917.6 620.5L1918.2 620.5L1918.8 620.5L1919.4 620.5L1920.0 620.5L1920.6 620.5L1921.2 620.5L1921.8 620.5L1922.4 620.5L1923.0 620.5L1923.6 620.5L1924.2 620.6L1924.8 620.6L1925.4 620.6L1926.0 620.6L1926.6 620.6L1927.2 620.6L1927.8 620.6L1928.4 620.6L1929.0 620.6L1929.6 620.6L1930.2 620.6L1930.8 620.6L1931.4 620.6L1932.0 620.6L1932.6 620.6L1933.2 620.6L1933.8 620.7L1934.4 620.7L1935.0 620.7L1935.6 620.7L1936.2 620.7L1936.8 620.7L1937.4 620.7L1938.0 620.7L1938.6 620.7L1939.2 620.7L1939.8 620.7L1940.4 620.7L1941.0 620.7L1941.6 620.7L1942.2 620.7L1942.8 620.7L1943.4 620.7L1944.0 620.7L1944.6 620.7L1945.2 620.7L1945.8 620.7L1946.4 620.7L1947.0 620.8L1947.6 620.8L1948.2 620.8L1948.8 620.8L1949.4 620.8L1950.0 620.8L1950.6 620.8L1951.2 620.8L1951.8 620.8L1952.4 620.8L1953.0 620.8L1953.6 620.8L1954.2 620.8L1954.8 620.8L1955.4 620.8L1956.0 620.8L1956.6 620.8" stroke="#000" stroke-width="6.8"/>
<path d="M320.1 620.8L468.3 620.8L470.7 226.0L471.8 308.0L474.0 306.6L476.9 309.0L478.5 450.0L480.5 600.0L481.8 672.0L485.2 655.0L487.5 615.0L488.1 599.1L488.7 584.2L489.3 570.2L489.9 557.1L490.3 550.0L490.6 544.7L491.2 530.8L491.8 519.1L492.4 514.0L492.4 514.0L493.0 515.2L493.6 518.6L494.2 523.4L494.8 529.1L495.4 535.0L496.0 540.0L496.1 540.5L496.7 546.2L497.3 552.7L497.9 559.5L498.5 566.2L499.1 572.5L499.7 577.9L500.0 580.0L500.3 582.3L500.9 586.3L501.6 590.0L502.2 593.4L502.8 596.4L503.4 599.0L504.0 601.0L504.6 600.1L505.2 599.3L505.8 598.5L506.4 597.8L507.0 597.1L507.6 596.4L508.0 596.0L508.2 595.8L508.8 595.1L509.4 594.4L510.0 593.7L510.6 593.1L511.2 592.7L511.8 592.5L512.0 592.5L512.4 592.5L513.0 592.6L513.6 592.6L514.2 592.7L514.8 592.9L515.4 593.0L516.0 593.2L516.6 593.4L517.2 593.5L517.8 593.7L518.4 593.9L519.0 594.0L519.6 594.2L520.2 594.3L520.8 594.3L521.4 594.4L521.8 594.4L522.0 594.4L522.6 594.4L523.2 594.3L523.8 594.3L524.5 594.2L525.1 594.1L525.7 593.9L526.3 593.8L526.9 593.6L527.5 593.5L528.1 593.3L528.7 593.1L529.3 592.9L529.9 592.7L530.5 592.5L531.1 592.2L531.7 592.0L532.3 591.8L532.9 591.5L533.5 591.3L534.1 591.1L534.7 590.8L535.3 590.6L535.9 590.4L536.5 590.1L537.1 589.9L537.7 589.7L538.3 589.5L538.9 589.3L539.5 589.1L540.0 589.0L540.1 589.0L540.7 588.8L541.3 588.7L541.9 588.5L542.5 588.3L543.1 588.1L543.7 588.0L544.3 587.8L544.9 587.6L545.5 587.4L546.1 587.2L546.7 587.0L547.3 586.9L547.9 586.7L548.5 586.5L549.1 586.3L549.7 586.1L550.3 585.9L550.9 585.7L551.5 585.6L552.1 585.4L552.7 585.2L553.3 585.0L553.9 584.9L554.5 584.7L555.1 584.6L555.7 584.4L556.3 584.2L556.9 584.1L557.5 584.0L558.1 583.8L558.7 583.7L559.3 583.6L559.9 583.5L560.5 583.4L561.1 583.3L561.7 583.2L562.3 583.1L562.9 583.0L563.5 583.0L564.1 582.9L564.8 582.9L565.4 582.8L566.0 582.8L566.6 582.8L566.8 582.8L567.2 582.8L567.8 582.8L568.4 582.8L569.0 582.9L569.6 582.9L570.2 583.0L570.8 583.1L571.4 583.2L572.0 583.3L572.6 583.4L573.2 583.5L573.8 583.7L574.4 583.8L575.0 584.0L575.6 584.1L576.2 584.3L576.8 584.4L577.4 584.6L578.0 584.8L578.6 585.0L579.2 585.2L579.8 585.4L580.4 585.6L581.0 585.8L581.6 586.0L582.2 586.2L582.8 586.4L583.4 586.7L584.0 586.9L584.6 587.1L585.2 587.3L585.8 587.5L586.4 587.8L587.0 588.0L587.6 588.2L588.2 588.4L588.8 588.6L589.4 588.8L590.0 589.0L590.0 589.0L590.6 589.2L591.2 589.4L591.8 589.6L592.4 589.9L593.0 590.1L593.6 590.3L594.2 590.6L594.8 590.8L595.4 591.0L596.0 591.3L596.6 591.6L597.2 591.8L597.8 592.1L598.4 592.3L599.0 592.6L599.6 592.9L600.2 593.2L600.8 593.4L601.4 593.7L602.0 594.0L602.6 594.2L603.2 594.5L603.8 594.8L604.4 595.1L605.1 595.3L605.7 595.6L606.3 595.9L606.9 596.2L607.5 596.4L608.1 596.7L608.7 596.9L609.3 597.2L609.9 597.4L610.0 597.5L610.5 597.7L611.1 597.9L611.7 598.2L612.3 598.4L612.9 598.7L613.5 598.9L614.1 599.2L614.7 599.4L615.3 599.7L615.9 599.9L616.5 600.1L617.1 600.4L617.7 600.6L618.3 600.9L618.9 601.1L619.5 601.4L620.1 601.6L620.7 601.8L621.3 602.1L621.9 602.3L622.5 602.6L623.1 602.8L623.7 603.0L624.3 603.3L624.9 603.5L625.3 640.0L627.8 1008.0L638.2 514.5L649.1 668.5L654.1 597.8L657.0 600.8L660.6 594.3L665.7 612.0L666.3 612.3L666.9 612.4L667.5 612.6L668.1 612.7L668.7 612.7L669.3 612.8L669.9 612.8L670.5 612.8L670.7 612.8L671.1 612.7L671.7 612.3L672.3 611.7L672.9 611.0L673.5 610.3L674.1 609.8L674.7 609.4L675.0 609.4L675.3 609.4L675.9 609.5L676.5 609.6L677.1 609.8L677.7 610.0L678.3 610.3L678.9 610.6L679.5 610.9L680.1 611.2L680.7 611.6L681.3 612.0L681.9 612.4L682.5 612.8L683.1 613.2L683.7 613.6L684.3 614.0L684.9 614.3L685.5 614.7L686.0 614.9L686.1 615.0L686.7 615.3L687.3 615.6L687.9 615.9L688.5 616.2L689.1 616.5L689.7 616.8L690.3 617.2L690.9 617.5L691.5 617.8L692.1 618.1L692.7 618.5L693.3 618.8L693.9 619.1L694.5 619.4L695.1 619.7L695.7 620.0L696.3 620.3L696.9 620.6L697.5 620.8L698.1 621.1L698.7 621.4L699.3 621.6L699.9 621.8L700.5 622.0L701.0 622.2L701.1 622.2L701.7 622.4L702.3 622.6L702.9 622.8L703.5 623.1L704.1 623.3L704.7 623.5L705.3 623.7L705.9 623.9L706.5 624.1L707.1 624.2L707.7 624.4L708.3 624.6L709.0 624.8L709.6 625.0L710.2 625.1L710.8 625.3L711.4 625.5L712.0 625.6L712.6 625.7L713.2 625.9L713.8 626.0L714.4 626.1L715.0 626.2L715.6 626.2L716.2 626.3L716.8 626.3L717.4 626.4L718.0 626.4L718.3 626.4L718.6 626.4L719.2 626.1L719.8 625.6L720.4 625.0L721.0 624.1L721.6 623.2L722.2 622.1L722.8 621.0L723.4 619.9L724.0 618.8L724.6 617.8L725.2 616.8L725.8 616.1L726.4 615.4L727.0 615.0L727.0 615.0L727.6 614.7L728.2 614.5L728.8 614.2L729.4 613.9L730.0 613.7L730.6 613.5L731.2 613.2L731.8 613.0L732.4 612.8L733.0 612.7L733.6 612.5L734.2 612.4L734.8 612.3L735.4 612.2L736.0 612.1L736.6 612.1L737.1 612.1L737.2 612.1L737.8 612.1L738.4 612.1L739.0 612.1L739.6 612.1L740.2 612.1L740.8 612.1L741.4 612.1L742.0 612.1L742.6 612.2L743.2 612.2L743.8 612.2L744.4 612.2L745.0 612.2L745.6 612.2L746.2 612.3L746.8 612.3L747.4 612.3L748.0 612.3L748.6 612.4L749.2 612.4L749.8 612.4L750.4 612.4L751.0 612.5L751.6 612.5L752.2 612.5L752.8 612.6L753.4 612.6L754.0 612.7L754.6 612.7L755.2 612.8L755.8 612.8L755.8 612.8L756.4 612.9L757.0 613.1L757.6 613.4L758.2 613.8L758.8 614.3L759.4 614.8L760.0 615.4L760.6 616.0L761.2 616.7L761.8 617.4L762.4 618.1L763.0 618.9L763.6 619.6L764.2 620.3L764.8 621.0L765.4 621.7L765.9 622.2L766.0 622.3L766.6 623.0L767.2 623.7L767.8 624.5L768.4 625.3L769.0 626.1L769.6 626.9L770.2 627.7L770.8 628.5L771.4 629.3L772.0 630.0L772.6 630.6L773.2 631.2L773.8 631.7L774.4 632.1L774.6 632.2L775.0 632.4L775.6 632.7L776.2 633.1L776.8 633.4L777.4 633.6L778.0 633.9L778.6 634.2L779.2 634.5L779.8 634.7L780.4 635.0L781.0 635.2L781.6 635.4L782.2 635.6L782.8 635.8L783.4 635.9L784.0 636.1L784.6 636.2L785.2 636.3L785.8 636.4L786.4 636.5L787.0 636.5L787.6 636.5L787.6 636.5L788.2 636.5L788.8 636.5L789.4 636.5L790.0 636.4L790.6 636.4L791.2 636.3L791.8 636.3L792.4 636.2L793.0 636.2L793.6 636.1L794.3 636.0L794.9 635.9L795.5 635.8L796.1 635.7L796.7 635.6L797.3 635.5L797.9 635.4L798.5 635.3L799.1 635.2L799.7 635.0L800.3 634.9L800.9 634.8L801.5 634.6L802.1 634.5L802.7 634.3L803.3 634.2L803.9 634.0L804.5 633.9L805.1 633.7L805.7 633.6L806.3 633.4L806.9 633.3L807.5 633.1L808.1 632.9L808.7 632.8L809.3 632.6L809.9 632.5L810.5 632.3L811.1 632.2L811.7 632.0L812.3 631.8L812.9 631.7L813.5 631.5L814.1 631.4L814.7 631.2L815.3 631.1L815.9 630.9L816.5 630.8L816.5 630.8L817.1 630.7L817.7 630.5L818.3 630.4L818.9 630.2L819.5 630.0L820.1 629.9L820.7 629.7L821.3 629.5L821.9 629.3L822.5 629.2L823.1 629.0L823.7 628.8L824.3 628.6L824.9 628.4L825.5 628.2L826.1 628.0L826.7 627.8L827.3 627.6L827.9 627.4L828.5 627.2L829.1 627.0L829.7 626.8L830.3 626.6L830.9 626.4L831.5 626.2L832.1 626.0L832.7 625.8L833.3 625.6L833.9 625.4L834.5 625.2L835.1 625.0L835.7 624.9L836.3 624.7L836.9 624.5L837.5 624.3L838.1 624.2L838.7 624.0L839.3 623.9L839.9 623.7L840.5 623.6L841.1 623.5L841.7 623.4L842.3 623.2L842.9 623.1L843.5 623.0L844.1 623.0L844.7 622.9L845.3 622.8L845.3 622.8L845.9 622.7L846.5 622.7L847.1 622.6L847.7 622.5L848.3 622.5L848.9 622.4L849.5 622.3L850.1 622.3L850.7 622.2L851.3 622.2L851.9 622.1L852.5 622.0L853.1 622.0L853.7 621.9L854.3 621.9L854.9 621.8L855.5 621.8L856.1 621.7L856.7 621.6L857.3 621.6L857.9 621.5L858.5 621.5L859.1 621.4L859.7 621.4L860.3 621.4L860.9 621.3L861.5 621.3L862.1 621.2L862.7 621.2L863.3 621.2L863.9 621.1L864.5 621.1L865.1 621.1L865.7 621.0L866.3 621.0L866.9 621.0L867.5 620.9L868.1 620.9L868.7 620.9L869.3 620.9L869.9 620.9L870.5 620.8L871.1 620.8L871.7 620.8L872.3 620.8L872.9 620.8L873.5 620.8L874.1 620.8L874.2 620.8L874.7 620.8L875.3 620.8L875.9 620.8L876.5 620.8L877.1 620.8L877.7 620.8L878.3 620.8L878.9 620.8L879.6 620.8L880.2 620.8L880.8 620.8L881.4 620.8L882.0 620.8L882.6 620.8L883.2 620.8L883.8 620.8L884.4 620.8L885.0 620.8L885.6 620.8L886.2 620.8L886.8 620.8L887.4 620.8L888.0 620.8L888.6 620.8L889.2 620.8L889.8 620.8L890.4 620.8L891.0 620.8L891.6 620.8L892.2 620.8L892.8 620.8L893.4 620.8L894.0 620.8L894.6 620.8L895.2 620.8L895.8 620.8L896.4 620.8L897.0 620.8L897.6 620.8L898.2 620.8L898.8 620.8L899.4 620.8L900.0 620.8L900.0 620.8L900.6 620.8L901.2 620.8L901.8 620.8L902.4 620.8L903.0 620.8L903.6 620.8L904.2 620.8L904.8 620.8L905.4 620.8L906.0 620.8L906.6 620.8L907.2 620.8L907.8 620.8L908.4 620.8L909.0 620.8L909.6 620.8L910.2 620.8L910.8 620.8L911.4 620.8L912.0 620.8L912.6 620.8L913.2 620.8L913.8 620.8L914.4 620.8L915.0 620.8L915.6 620.8L916.2 620.8L916.8 620.8L917.4 620.8L918.0 620.8L918.6 620.8L919.2 620.8L919.8 620.8L920.4 620.8L921.0 620.8L921.6 620.8L922.2 620.8L922.6 660.0L923.8 949.5L928.6 736.0L932.8 805.0L935.3 591.0L937.6 640.0L938.5 661.0L940.0 630.0L941.5 665.0L943.0 632.0L944.5 666.0L946.0 634.0L947.3 663.0L948.6 637.0L950.5 617.0L953.5 601.0L956.5 591.0L957.1 590.8L957.7 590.7L958.3 590.6L958.9 590.4L959.5 590.4L960.1 590.3L960.7 590.2L961.3 590.2L961.9 590.2L962.0 590.2L962.5 590.2L963.1 590.3L963.7 590.4L964.3 590.5L964.9 590.6L965.5 590.7L966.0 590.7L966.1 590.7L966.7 590.6L967.3 590.4L967.9 590.2L968.5 589.9L969.1 589.6L969.7 589.3L970.3 589.1L970.9 589.0L971.1 589.0L971.5 589.0L972.1 589.1L972.7 589.3L973.3 589.5L973.9 589.8L974.6 590.2L975.2 590.5L975.8 590.9L976.4 591.4L977.0 591.8L977.6 592.2L978.0 592.5L978.2 592.6L978.8 593.1L979.4 593.5L980.0 594.1L980.6 594.6L981.2 595.2L981.8 595.8L982.4 596.5L983.0 597.2L983.6 597.9L984.2 598.6L984.8 599.3L985.4 600.1L986.0 600.8L986.6 601.6L987.2 602.4L987.8 603.2L988.4 604.0L989.0 604.8L989.6 605.6L989.9 606.0L990.2 606.4L990.8 607.2L991.4 608.0L992.0 608.9L992.6 609.7L993.2 610.6L993.8 611.5L994.4 612.4L995.0 613.4L995.6 614.3L996.2 615.2L996.8 616.2L997.4 617.2L998.0 618.2L998.6 619.2L999.2 620.2L999.8 621.2L1000.4 622.2L1001.0 623.2L1001.6 624.3L1002.2 625.3L1002.8 626.4L1003.4 627.5L1004.0 628.5L1004.3 629.0L1004.6 629.6L1005.2 630.7L1005.8 631.8L1006.4 632.9L1007.0 634.0L1007.6 635.2L1008.2 636.4L1008.8 637.5L1009.4 638.7L1010.1 639.9L1010.7 641.1L1011.3 642.3L1011.9 643.6L1012.5 644.8L1013.1 646.0L1013.7 647.3L1014.3 648.5L1014.9 649.8L1015.5 651.1L1016.1 652.4L1016.7 653.6L1017.3 654.9L1017.9 656.2L1018.5 657.5L1018.7 658.0L1019.1 658.8L1019.7 660.1L1020.3 661.5L1020.9 662.8L1021.5 664.1L1022.1 665.5L1022.7 666.9L1023.3 668.3L1023.9 669.7L1024.5 671.1L1025.1 672.5L1025.7 673.9L1026.3 675.3L1026.9 676.8L1027.5 678.2L1028.1 683.5L1028.7 688.8L1029.3 694.0L1029.9 699.2L1030.0 700.0L1030.5 704.9L1031.1 711.6L1031.7 717.4L1032.3 720.7L1032.5 721.0L1032.9 720.8L1033.5 719.7L1034.1 718.0L1034.7 715.9L1035.3 713.5L1035.9 711.0L1036.5 708.7L1037.0 707.0L1037.1 706.7L1037.7 704.7L1038.3 702.4L1038.9 700.1L1039.5 697.8L1040.1 695.7L1040.7 693.9L1041.3 692.6L1041.9 691.8L1042.3 691.6L1042.5 691.6L1043.1 692.0L1043.7 692.9L1044.3 694.0L1044.9 695.5L1045.5 697.2L1046.1 699.1L1046.7 701.0L1047.3 702.9L1047.9 704.8L1048.5 706.6L1049.1 708.1L1049.7 709.5L1050.0 710.0L1050.3 710.5L1050.9 711.4L1051.5 712.3L1052.1 713.2L1052.7 714.0L1053.3 714.7L1053.9 715.5L1054.5 716.2L1055.1 716.9L1055.7 717.5L1056.2 718.1L1056.3 718.2L1056.9 719.0L1057.5 719.8L1058.1 720.6L1058.7 721.4L1059.3 722.1L1059.9 722.8L1060.5 723.3L1061.1 723.7L1061.7 723.9L1061.9 723.9L1062.3 723.9L1062.9 723.9L1063.5 723.9L1064.1 723.9L1064.7 723.8L1065.3 723.8L1065.9 723.8L1066.5 723.7L1067.1 723.7L1067.7 723.6L1068.3 723.6L1068.9 723.5L1069.5 723.5L1070.1 723.4L1070.7 723.4L1071.2 723.3L1071.3 723.3L1071.9 723.2L1072.5 723.0L1073.1 722.8L1073.7 722.5L1074.3 722.2L1074.9 721.9L1075.5 721.6L1076.1 721.3L1076.7 721.0L1077.3 720.8L1077.9 720.6L1078.5 720.5L1079.1 720.4L1079.3 720.4L1079.7 720.5L1080.3 720.9L1080.9 721.5L1081.5 722.2L1082.1 723.0L1082.7 723.7L1083.3 724.4L1083.9 724.8L1084.5 725.0L1084.5 725.0L1085.1 724.9L1085.7 724.6L1086.3 724.2L1086.9 723.7L1087.5 723.1L1088.1 722.4L1088.7 721.7L1089.3 721.0L1089.9 720.3L1090.5 719.6L1090.8 719.3L1091.1 719.0L1091.7 718.3L1092.3 717.6L1092.9 716.8L1093.5 716.0L1094.1 715.2L1094.7 714.4L1095.3 713.5L1095.9 712.6L1096.5 711.8L1097.1 710.9L1097.7 710.1L1098.3 709.2L1098.9 708.4L1099.5 707.6L1100.1 706.8L1100.7 706.1L1101.3 705.4L1101.9 704.8L1102.4 704.3L1102.5 704.2L1103.1 703.6L1103.7 703.1L1104.3 702.7L1104.9 702.3L1105.5 701.9L1106.1 701.5L1106.7 701.1L1107.3 700.8L1107.9 700.5L1108.5 700.1L1109.1 699.8L1109.7 699.5L1110.3 699.1L1110.9 698.7L1111.5 698.3L1112.1 697.9L1112.7 697.5L1113.3 697.0L1113.9 696.4L1114.5 695.8L1115.1 695.2L1115.7 694.5L1116.2 693.9L1116.3 693.7L1116.9 692.7L1117.5 691.3L1118.1 689.7L1118.7 687.9L1119.3 686.0L1119.9 684.0L1120.5 682.1L1120.8 681.2L1121.1 680.1L1121.7 677.9L1122.3 675.5L1122.9 673.0L1123.5 670.6L1124.1 668.2L1124.7 666.0L1125.3 664.1L1125.4 663.9L1125.9 662.4L1126.5 660.8L1127.1 659.2L1127.7 657.7L1128.3 656.2L1128.9 654.9L1129.5 653.7L1130.1 652.7L1130.7 651.8L1131.2 651.2L1131.3 651.1L1131.9 650.4L1132.5 649.8L1133.1 649.2L1133.7 648.6L1134.3 648.0L1134.9 647.5L1135.5 647.0L1136.1 646.5L1136.7 646.0L1137.3 645.6L1137.9 645.3L1138.5 645.0L1139.1 644.7L1139.7 644.5L1140.3 644.3L1140.9 644.2L1141.5 644.2L1141.6 644.2L1142.1 644.2L1142.7 644.3L1143.3 644.4L1143.9 644.6L1144.5 644.8L1145.1 645.1L1145.7 645.4L1146.3 645.7L1146.9 646.1L1147.5 646.5L1148.1 646.9L1148.7 647.4L1149.3 647.8L1149.9 648.3L1150.5 648.8L1151.1 649.3L1151.7 649.8L1152.0 650.0L1152.3 650.3L1152.9 650.9L1153.5 651.5L1154.1 652.3L1154.7 653.1L1155.3 654.0L1155.9 654.9L1156.5 655.8L1157.1 656.9L1157.7 657.9L1158.3 658.9L1158.9 660.0L1159.5 661.1L1160.1 662.2L1160.7 663.3L1161.3 664.4L1161.9 665.4L1162.4 666.2L1162.5 666.4L1163.1 667.4L1163.7 668.4L1164.3 669.3L1164.9 670.2L1165.5 671.1L1166.1 672.1L1166.7 673.0L1167.3 674.0L1167.9 675.1L1168.5 676.2L1169.1 677.4L1169.7 678.7L1170.3 680.1L1170.9 681.7L1171.5 683.3L1171.6 683.5L1172.1 685.2L1172.7 687.5L1173.3 690.2L1173.9 693.4L1174.5 697.0L1175.1 700.8L1175.1 701.2L1175.7 707.9L1176.3 716.7L1176.9 725.1L1177.4 729.7L1177.5 730.8L1178.1 735.3L1178.7 739.0L1179.3 740.9L1179.5 741.0L1180.0 740.7L1180.6 739.5L1181.2 737.6L1181.8 735.1L1182.4 732.2L1183.0 729.2L1183.6 726.1L1184.2 723.3L1184.8 720.8L1185.4 718.9L1186.0 717.7L1186.4 717.4L1186.6 717.4L1187.2 717.9L1187.8 718.9L1188.4 720.3L1189.0 722.1L1189.6 724.1L1190.2 726.2L1190.8 728.5L1191.4 730.7L1192.0 732.8L1192.6 734.6L1193.2 736.2L1193.3 736.5L1193.8 737.5L1194.4 738.8L1195.0 740.2L1195.6 741.6L1196.2 742.9L1196.8 744.2L1197.4 745.4L1198.0 746.5L1198.6 747.4L1199.2 748.1L1199.8 748.6L1200.4 748.9L1200.6 748.9L1201.0 748.9L1201.6 748.8L1202.2 748.6L1202.8 748.4L1203.4 748.0L1204.0 747.7L1204.6 747.3L1205.2 746.8L1205.8 746.3L1206.4 745.9L1207.0 745.3L1207.6 744.8L1208.2 744.3L1208.8 743.9L1209.4 743.4L1210.0 743.0L1210.4 742.7L1210.6 742.6L1211.2 742.2L1211.8 741.9L1212.4 741.5L1213.0 741.1L1213.6 740.8L1214.2 740.4L1214.8 740.1L1215.4 739.7L1216.0 739.4L1216.6 739.0L1217.2 738.7L1217.8 738.3L1218.4 737.9L1219.0 737.6L1219.6 737.2L1220.2 736.9L1220.8 736.5L1221.4 736.1L1221.9 735.8L1222.0 735.8L1222.6 735.4L1223.2 735.1L1223.8 734.8L1224.4 734.5L1225.0 734.2L1225.6 733.9L1226.2 733.6L1226.8 733.3L1227.4 733.0L1228.0 732.8L1228.6 732.4L1229.2 732.1L1229.8 731.8L1230.4 731.4L1231.0 731.0L1231.6 730.6L1232.2 730.1L1232.8 729.6L1233.4 729.0L1234.0 728.4L1234.6 727.7L1234.6 727.7L1235.2 726.9L1235.8 725.6L1236.4 724.0L1237.0 722.1L1237.6 720.1L1238.2 717.9L1238.8 715.6L1239.4 713.2L1240.0 710.9L1240.4 709.3L1240.6 708.7L1241.2 706.1L1241.8 703.3L1242.4 700.4L1243.0 697.4L1243.6 694.7L1244.2 692.2L1244.8 690.2L1245.0 689.6L1245.4 688.7L1246.0 687.3L1246.6 685.9L1247.2 684.7L1247.8 683.6L1248.4 682.7L1249.0 682.1L1249.6 681.6L1249.7 681.6L1250.2 681.4L1250.8 681.3L1251.4 681.1L1252.0 681.0L1252.6 680.8L1253.2 680.7L1253.8 680.6L1254.4 680.5L1255.0 680.5L1255.6 680.4L1256.2 680.4L1256.6 680.4L1256.8 680.4L1257.4 680.4L1258.0 680.5L1258.6 680.6L1259.2 680.8L1259.8 680.9L1260.4 681.1L1261.0 681.3L1261.6 681.6L1262.2 681.9L1262.8 682.1L1263.4 682.4L1264.0 682.7L1264.6 683.1L1265.2 683.4L1265.8 683.7L1266.4 684.1L1267.0 684.4L1267.6 684.7L1268.1 685.0L1268.2 685.0L1268.8 685.4L1269.4 685.7L1270.0 686.1L1270.6 686.4L1271.2 686.8L1271.8 687.2L1272.4 687.7L1273.0 688.1L1273.6 688.6L1274.2 689.0L1274.8 689.5L1275.4 690.0L1276.0 690.6L1276.6 691.1L1277.2 691.7L1277.8 692.3L1278.4 692.9L1279.0 693.5L1279.6 694.2L1279.7 694.3L1280.2 694.8L1280.8 695.6L1281.4 696.3L1282.0 697.1L1282.6 698.0L1283.2 698.9L1283.8 699.9L1284.4 701.0L1285.0 702.1L1285.6 703.4L1286.2 704.8L1286.6 705.8L1286.8 706.3L1287.4 708.3L1288.0 710.8L1288.6 713.7L1289.2 716.8L1289.8 719.9L1290.4 722.9L1291.0 725.7L1291.2 726.6L1291.6 728.2L1292.2 730.9L1292.8 733.5L1293.4 736.1L1294.0 738.6L1294.6 740.8L1295.2 742.6L1295.8 743.9L1295.8 743.9L1296.4 744.9L1297.0 745.9L1297.6 746.8L1298.2 747.6L1298.8 748.3L1299.4 748.8L1300.0 749.0L1300.4 749.1L1300.6 749.1L1301.2 749.1L1301.8 749.0L1302.4 749.0L1303.0 748.9L1303.6 748.8L1304.2 748.7L1304.8 748.6L1305.4 748.5L1306.0 748.4L1306.6 748.3L1307.2 748.2L1307.8 748.1L1308.4 748.1L1309.0 748.0L1309.6 747.9L1310.2 747.9L1310.8 747.9L1310.8 747.9L1311.4 748.1L1312.0 748.6L1312.6 749.5L1313.2 750.5L1313.8 751.8L1314.4 753.1L1315.0 754.4L1315.6 755.6L1316.2 756.8L1316.8 757.7L1317.4 758.5L1318.0 758.8L1318.3 758.9L1318.6 758.9L1319.2 758.5L1319.8 757.9L1320.4 757.0L1321.0 755.8L1321.6 754.6L1322.2 753.2L1322.8 751.8L1323.4 750.3L1324.0 748.9L1324.6 747.6L1324.7 747.4L1325.2 746.3L1325.8 744.9L1326.4 743.4L1327.0 741.9L1327.6 740.5L1328.2 739.1L1328.7 738.1L1328.8 737.9L1329.4 736.8L1330.0 735.8L1330.6 734.8L1331.2 733.8L1331.8 733.0L1332.4 700.0L1334.4 213.8L1343.0 580.0L1346.3 801.0L1351.7 731.5L1354.9 666.6L1355.5 663.6L1356.1 660.7L1356.7 658.1L1357.3 655.9L1357.9 654.2L1358.0 654.0L1358.5 652.9L1359.1 651.6L1359.7 650.5L1360.3 649.4L1360.9 648.6L1361.5 647.9L1362.1 647.6L1362.5 647.5L1362.7 647.5L1363.3 647.7L1363.9 648.1L1364.5 648.5L1365.1 649.0L1365.7 649.5L1366.3 649.9L1366.5 650.0L1366.9 650.2L1367.5 650.4L1368.1 650.5L1368.7 650.7L1369.3 650.8L1369.9 651.0L1370.5 651.3L1370.9 651.5L1371.1 651.7L1371.7 652.4L1372.3 653.5L1372.9 654.8L1373.5 656.1L1374.1 657.5L1374.7 658.6L1375.3 659.4L1375.5 659.6L1375.9 659.9L1376.5 660.4L1377.1 660.8L1377.7 661.2L1378.3 661.6L1378.9 661.9L1379.5 662.1L1380.1 662.3L1380.7 662.5L1381.3 662.5L1381.3 662.5L1381.9 662.5L1382.5 662.4L1383.1 662.2L1383.7 662.0L1384.3 661.7L1384.9 661.4L1385.5 661.1L1386.1 660.7L1386.7 660.3L1387.3 659.9L1387.9 659.5L1388.5 659.1L1389.1 658.6L1389.3 658.5L1389.7 658.2L1390.3 657.6L1390.9 657.0L1391.5 656.3L1392.1 655.6L1392.7 654.8L1393.3 654.0L1393.9 653.3L1394.5 652.5L1395.0 652.0L1395.1 651.9L1395.7 651.2L1396.3 650.5L1396.9 649.8L1397.5 649.2L1398.1 648.5L1398.7 647.8L1399.3 647.2L1399.9 646.5L1400.5 645.9L1400.9 645.5L1401.1 645.2L1401.7 644.6L1402.3 644.0L1402.9 643.4L1403.5 642.7L1404.1 642.1L1404.7 641.5L1405.3 640.9L1405.9 640.3L1406.5 639.6L1407.1 639.0L1407.7 638.4L1408.3 637.8L1408.9 637.2L1409.5 636.6L1410.1 636.1L1410.7 635.5L1411.3 634.9L1411.9 634.3L1412.5 633.8L1413.1 633.2L1413.7 632.7L1414.3 632.1L1414.4 632.1L1414.9 631.6L1415.6 631.1L1416.2 630.5L1416.8 630.0L1417.4 629.5L1418.0 629.0L1418.6 628.5L1419.2 627.9L1419.8 627.4L1420.4 626.9L1421.0 626.4L1421.6 625.9L1422.2 625.4L1422.8 624.9L1423.4 624.5L1424.0 624.0L1424.6 623.5L1425.2 623.1L1425.8 622.6L1426.4 622.2L1427.0 621.8L1427.6 621.3L1428.2 620.9L1428.8 620.5L1428.8 620.5L1429.4 620.1L1430.0 619.7L1430.6 619.4L1431.2 619.0L1431.8 618.6L1432.4 618.2L1433.0 617.9L1433.6 617.5L1434.2 617.1L1434.8 616.8L1435.4 616.4L1436.0 616.1L1436.6 615.8L1437.2 615.4L1437.8 615.1L1438.4 614.8L1439.0 614.5L1439.6 614.2L1440.2 613.9L1440.8 613.6L1441.4 613.3L1442.0 613.0L1442.6 612.8L1443.2 612.5L1443.2 612.5L1443.8 612.3L1444.4 612.0L1445.0 611.8L1445.6 611.5L1446.2 611.3L1446.8 611.0L1447.4 610.8L1448.0 610.5L1448.6 610.3L1449.2 610.1L1449.8 609.8L1450.4 609.6L1451.0 609.4L1451.6 609.2L1452.2 609.0L1452.8 608.8L1453.4 608.6L1454.0 608.5L1454.6 608.3L1455.2 608.1L1455.8 608.0L1456.4 607.9L1457.0 607.7L1457.6 607.6L1457.7 607.6L1458.2 607.5L1458.8 607.4L1459.4 607.3L1460.0 607.2L1460.6 607.1L1461.2 607.0L1461.8 606.9L1462.4 606.9L1463.0 606.8L1463.6 606.7L1464.2 606.6L1464.8 606.5L1465.4 606.4L1466.0 606.4L1466.6 606.3L1467.2 606.2L1467.8 606.1L1468.4 606.1L1469.0 606.0L1469.6 605.9L1470.2 605.9L1470.8 605.8L1471.4 605.8L1472.0 605.7L1472.6 605.7L1473.2 605.6L1473.8 605.6L1474.4 605.5L1475.0 605.5L1475.6 605.4L1476.2 605.4L1476.8 605.4L1477.4 605.3L1478.0 605.3L1478.6 605.3L1479.2 605.2L1479.8 605.2L1480.0 605.2L1480.4 605.2L1481.0 605.2L1481.6 605.1L1482.2 605.1L1482.8 605.1L1483.4 605.1L1484.0 605.1L1484.6 605.0L1485.2 605.0L1485.8 605.0L1486.4 605.0L1487.0 605.0L1487.6 604.9L1488.2 604.9L1488.8 604.9L1489.4 604.9L1490.0 604.9L1490.6 604.9L1491.2 604.8L1491.8 604.8L1492.4 604.8L1493.0 604.8L1493.6 604.8L1494.2 604.8L1494.8 604.8L1495.4 604.7L1496.0 604.7L1496.6 604.7L1497.2 604.7L1497.8 604.7L1498.4 604.7L1499.0 604.7L1499.6 604.7L1500.2 604.6L1500.8 604.6L1501.4 604.6L1502.0 604.6L1502.6 604.6L1503.2 604.6L1503.8 604.6L1504.4 604.6L1505.0 604.6L1505.6 604.6L1506.2 604.6L1506.8 604.5L1507.4 604.5L1508.0 604.5L1508.6 604.5L1509.2 604.5L1509.8 604.5L1510.4 604.5L1511.0 604.5L1511.6 604.5L1512.2 604.5L1512.8 604.5L1513.4 604.5L1514.0 604.5L1514.6 604.5L1515.0 604.5L1515.2 604.5L1515.8 604.5L1516.4 604.5L1517.0 604.5L1517.6 604.5L1518.2 604.5L1518.8 604.5L1519.4 604.5L1520.0 604.6L1520.6 604.6L1521.2 604.6L1521.8 604.6L1522.4 604.6L1523.0 604.6L1523.6 604.7L1524.2 604.7L1524.8 604.7L1525.4 604.7L1526.0 604.7L1526.6 604.8L1527.2 604.8L1527.8 604.8L1528.4 604.9L1529.0 604.9L1529.6 604.9L1530.2 605.0L1530.8 605.0L1531.4 605.0L1532.0 605.1L1532.6 605.1L1533.2 605.1L1533.8 605.2L1534.4 605.2L1535.0 605.2L1535.7 605.3L1536.3 605.3L1536.9 605.4L1537.5 605.4L1538.1 605.4L1538.7 605.5L1539.3 605.5L1539.9 605.6L1540.5 605.6L1541.1 605.6L1541.7 605.7L1542.3 605.7L1542.9 605.8L1543.5 605.8L1544.1 605.9L1544.7 605.9L1545.3 606.0L1545.9 606.0L1546.5 606.0L1547.1 606.1L1547.7 606.1L1548.3 606.2L1548.9 606.2L1549.5 606.3L1550.1 606.3L1550.7 606.4L1551.3 606.4L1551.9 606.4L1552.5 606.5L1553.1 606.5L1553.7 606.6L1554.3 606.6L1554.9 606.7L1555.5 606.7L1556.1 606.7L1556.7 606.8L1557.3 606.8L1557.9 606.9L1558.5 606.9L1559.1 606.9L1559.7 607.0L1560.0 607.0L1560.3 607.0L1560.9 607.1L1561.5 607.1L1562.1 607.1L1562.7 607.2L1563.3 607.2L1563.9 607.3L1564.5 607.3L1565.1 607.3L1565.7 607.4L1566.3 607.4L1566.9 607.5L1567.5 607.5L1568.1 607.5L1568.7 607.6L1569.3 607.6L1569.9 607.7L1570.5 607.7L1571.1 607.8L1571.7 607.8L1572.3 607.8L1572.9 607.9L1573.5 607.9L1574.1 608.0L1574.7 608.0L1575.3 608.1L1575.9 608.1L1576.5 608.2L1577.1 608.2L1577.7 608.2L1578.3 608.3L1578.9 608.3L1579.5 608.4L1580.1 608.4L1580.7 608.5L1581.3 608.5L1581.9 608.6L1582.5 608.6L1583.1 608.7L1583.7 608.7L1584.3 608.7L1584.9 608.8L1585.5 608.8L1586.1 608.9L1586.7 608.9L1587.3 609.0L1587.9 609.0L1588.5 609.1L1589.1 609.1L1589.7 609.1L1590.3 609.2L1590.9 609.2L1591.5 609.3L1592.1 609.3L1592.7 609.4L1593.3 609.4L1593.9 609.5L1594.5 609.5L1595.1 609.5L1595.7 609.6L1596.3 609.6L1596.9 609.7L1597.5 609.7L1598.1 609.8L1598.7 609.8L1599.3 609.8L1599.9 609.9L1600.5 609.9L1601.1 610.0L1601.7 610.0L1601.8 610.0L1602.3 610.0L1602.9 610.1L1603.5 610.1L1604.1 610.1L1604.7 610.2L1605.3 610.2L1605.9 610.3L1606.5 610.3L1607.1 610.3L1607.7 610.4L1608.3 610.4L1608.9 610.4L1609.5 610.5L1610.1 610.5L1610.7 610.6L1611.3 610.6L1611.9 610.6L1612.5 610.7L1613.1 610.7L1613.7 610.7L1614.3 610.8L1614.9 610.8L1615.5 610.8L1616.1 610.9L1616.7 610.9L1617.3 610.9L1617.9 611.0L1618.5 611.0L1619.1 611.1L1619.7 611.1L1620.3 611.1L1620.9 611.2L1621.5 611.2L1622.1 611.2L1622.7 611.3L1623.3 611.3L1623.9 611.3L1624.5 611.4L1625.1 611.4L1625.7 611.4L1626.3 611.5L1626.9 611.5L1627.5 611.5L1628.1 611.6L1628.7 611.6L1629.3 611.6L1629.9 611.7L1630.5 611.7L1631.1 611.7L1631.7 611.8L1632.3 611.8L1632.9 611.9L1633.5 611.9L1634.1 611.9L1634.7 612.0L1635.3 612.0L1635.9 612.0L1636.5 612.1L1637.1 612.1L1637.7 612.1L1638.3 612.2L1638.9 612.2L1639.5 612.3L1640.1 612.3L1640.7 612.3L1641.3 612.4L1641.9 612.4L1642.5 612.4L1643.1 612.5L1643.7 612.5L1644.3 612.6L1644.9 612.6L1645.0 612.6L1645.5 612.6L1646.1 612.7L1646.7 612.7L1647.3 612.8L1647.9 612.8L1648.5 612.8L1649.1 612.9L1649.7 612.9L1650.3 613.0L1650.9 613.0L1651.5 613.0L1652.1 613.1L1652.7 613.1L1653.3 613.2L1653.9 613.2L1654.5 613.3L1655.1 613.3L1655.8 613.3L1656.4 613.4L1657.0 613.4L1657.6 613.5L1658.2 613.5L1658.8 613.6L1659.4 613.6L1660.0 613.6L1660.6 613.7L1661.2 613.7L1661.8 613.8L1662.4 613.8L1663.0 613.9L1663.6 613.9L1664.2 614.0L1664.8 614.0L1665.4 614.0L1666.0 614.1L1666.6 614.1L1667.2 614.2L1667.8 614.2L1668.4 614.3L1669.0 614.3L1669.6 614.4L1670.2 614.4L1670.8 614.5L1671.4 614.5L1672.0 614.5L1672.6 614.6L1673.2 614.6L1673.8 614.7L1674.4 614.7L1675.0 614.8L1675.6 614.8L1676.2 614.9L1676.8 614.9L1677.4 615.0L1678.0 615.0L1678.6 615.0L1679.2 615.1L1679.8 615.1L1680.4 615.2L1681.0 615.2L1681.6 615.3L1682.2 615.3L1682.8 615.4L1683.4 615.4L1684.0 615.4L1684.6 615.5L1685.2 615.5L1685.8 615.6L1686.4 615.6L1687.0 615.7L1687.6 615.7L1688.2 615.8L1688.8 615.8L1689.4 615.8L1690.0 615.9L1690.6 615.9L1691.2 616.0L1691.8 616.0L1692.4 616.1L1693.0 616.1L1693.6 616.2L1694.2 616.2L1694.8 616.2L1695.4 616.3L1696.0 616.3L1696.6 616.4L1697.2 616.4L1697.8 616.4L1698.4 616.5L1699.0 616.5L1699.6 616.6L1700.0 616.6L1700.2 616.6L1700.8 616.7L1701.4 616.7L1702.0 616.7L1702.6 616.8L1703.2 616.8L1703.8 616.9L1704.4 616.9L1705.0 616.9L1705.6 617.0L1706.2 617.0L1706.8 617.1L1707.4 617.1L1708.0 617.2L1708.6 617.2L1709.2 617.3L1709.8 617.3L1710.4 617.3L1711.0 617.4L1711.6 617.4L1712.2 617.5L1712.8 617.5L1713.4 617.6L1714.0 617.6L1714.6 617.6L1715.2 617.7L1715.8 617.7L1716.4 617.8L1717.0 617.8L1717.6 617.9L1718.2 617.9L1718.8 617.9L1719.4 618.0L1720.0 618.0L1720.6 618.1L1721.2 618.1L1721.8 618.2L1722.4 618.2L1723.0 618.2L1723.6 618.3L1724.2 618.3L1724.8 618.4L1725.4 618.4L1726.0 618.4L1726.6 618.5L1727.2 618.5L1727.8 618.6L1728.4 618.6L1729.0 618.6L1729.6 618.7L1730.2 618.7L1730.8 618.7L1731.4 618.8L1732.0 618.8L1732.6 618.8L1733.2 618.9L1733.8 618.9L1734.4 618.9L1735.0 619.0L1735.6 619.0L1736.2 619.0L1736.8 619.1L1737.4 619.1L1738.0 619.1L1738.6 619.2L1739.2 619.2L1739.8 619.2L1740.4 619.2L1741.0 619.3L1741.6 619.3L1741.8 619.3L1742.2 619.3L1742.8 619.3L1743.4 619.4L1744.0 619.4L1744.6 619.4L1745.2 619.4L1745.8 619.5L1746.4 619.5L1747.0 619.5L1747.6 619.5L1748.2 619.6L1748.8 619.6L1749.4 619.6L1750.0 619.6L1750.6 619.7L1751.2 619.7L1751.8 619.7L1752.4 619.7L1753.0 619.7L1753.6 619.8L1754.2 619.8L1754.8 619.8L1755.4 619.8L1756.0 619.9L1756.6 619.9L1757.2 619.9L1757.8 619.9L1758.4 619.9L1759.0 620.0L1759.6 620.0L1760.2 620.0L1760.8 620.0L1761.4 620.0L1762.0 620.1L1762.6 620.1L1763.2 620.1L1763.8 620.1L1764.4 620.1L1765.0 620.1L1765.6 620.2L1766.2 620.2L1766.8 620.2L1767.4 620.2L1768.0 620.2L1768.6 620.2L1769.2 620.3L1769.8 620.3L1770.4 620.3L1771.0 620.3L1771.6 620.3L1772.2 620.3L1772.8 620.3L1773.4 620.4L1774.0 620.4L1774.6 620.4L1775.2 620.4L1775.8 620.4L1776.5 620.4L1777.1 620.4L1777.7 620.4L1778.3 620.5L1778.9 620.5L1779.5 620.5L1780.1 620.5L1780.7 620.5L1781.3 620.5L1781.9 620.5L1782.0 620.5L1782.5 620.5L1783.1 620.5L1783.7 620.5L1784.3 620.5L1784.9 620.5L1785.5 620.5L1786.1 620.5L1786.7 620.5L1787.3 620.6L1787.9 620.6L1788.5 620.6L1789.1 620.6L1789.7 620.6L1790.3 620.6L1790.9 620.6L1791.5 620.6L1792.1 620.6L1792.7 620.6L1793.3 620.6L1793.9 620.6L1794.5 620.6L1795.1 620.6L1795.7 620.6L1796.3 620.6L1796.9 620.6L1797.5 620.6L1798.1 620.7L1798.7 620.7L1799.3 620.7L1799.9 620.7L1800.5 620.7L1801.1 620.7L1801.7 620.7L1802.3 620.7L1802.9 620.7L1803.5 620.7L1804.1 620.7L1804.7 620.7L1805.3 620.7L1805.9 620.7L1806.5 620.7L1807.1 620.7L1807.7 620.7L1808.3 620.7L1808.9 620.7L1809.5 620.7L1810.1 620.7L1810.7 620.7L1811.3 620.7L1811.9 620.7L1812.5 620.8L1813.1 620.8L1813.7 620.8L1814.3 620.8L1814.9 620.8L1815.5 620.8L1816.1 620.8L1816.7 620.8L1817.3 620.8L1817.9 620.8L1818.5 620.8L1819.1 620.8L1819.7 620.8L1820.3 620.8L1820.9 620.8L1821.5 620.8L1822.1 620.8L1822.7 620.8L1823.3 620.8L1823.9 620.8L1824.5 620.8L1825.1 620.8L1825.7 620.8L1826.3 620.8L1826.9 620.8L1827.5 620.8L1828.1 620.8L1828.7 620.8L1829.3 620.8L1829.9 620.8L1830.0 620.8L1830.5 620.8L1831.1 620.8L1831.7 620.8L1832.3 620.8L1832.9 620.8L1833.5 620.8L1834.1 620.8L1834.7 620.8L1835.3 620.8L1835.9 620.8L1836.5 620.8L1837.1 620.8L1837.7 620.8L1838.3 620.8L1838.9 620.8L1839.5 620.8L1840.1 620.8L1840.7 620.8L1841.3 620.8L1841.9 620.8L1842.5 620.8L1843.1 620.8L1843.7 620.8L1844.3 620.8L1844.9 620.8L1845.5 620.8L1846.1 620.8L1846.7 620.8L1847.3 620.8L1847.9 620.8L1848.5 620.8L1849.1 620.8L1849.7 620.8L1850.3 620.8L1850.9 620.8L1851.5 620.8L1852.1 620.8L1852.7 620.8L1853.3 620.8L1853.9 620.8L1854.5 620.8L1855.1 620.8L1855.7 620.8L1856.3 620.8L1856.9 620.8L1857.5 620.8L1858.1 620.8L1858.7 620.8L1859.3 620.8L1859.9 620.8L1860.5 620.8L1861.1 620.8L1861.7 620.8L1862.3 620.8L1862.9 620.8L1863.5 620.8L1864.1 620.8L1864.7 620.8L1865.3 620.8L1865.9 620.8L1866.5 620.8L1867.1 620.8L1867.7 620.8L1868.3 620.8L1868.9 620.8L1869.5 620.8L1870.1 620.8L1870.7 620.8L1871.3 620.8L1871.9 620.8L1872.5 620.8L1873.1 620.8L1873.7 620.8L1874.3 620.8L1874.9 620.8L1875.5 620.8L1876.1 620.8L1876.7 620.8L1877.3 620.8L1877.9 620.8L1878.5 620.8L1879.1 620.8L1879.7 620.8L1880.3 620.8L1880.9 620.8L1881.5 620.8L1882.1 620.8L1882.7 620.8L1883.3 620.8L1883.9 620.8L1884.5 620.8L1885.1 620.8L1885.7 620.8L1886.3 620.8L1886.9 620.8L1887.5 620.8L1888.1 620.8L1888.7 620.8L1889.3 620.8L1889.9 620.8L1890.5 620.8L1891.1 620.8L1891.7 620.8L1892.3 620.8L1892.9 620.8L1893.5 620.8L1894.1 620.8L1894.7 620.8L1895.3 620.8L1895.9 620.8L1896.6 620.8L1897.2 620.8L1897.8 620.8L1898.4 620.8L1899.0 620.8L1899.6 620.8L1900.2 620.8L1900.8 620.8L1901.4 620.8L1902.0 620.8L1902.6 620.8L1903.2 620.8L1903.8 620.8L1904.4 620.8L1905.0 620.8L1905.6 620.8L1906.2 620.8L1906.8 620.8L1907.4 620.8L1908.0 620.8L1908.6 620.8L1909.2 620.8L1909.8 620.8L1910.4 620.8L1911.0 620.8L1911.6 620.8L1912.2 620.8L1912.8 620.8L1913.4 620.8L1914.0 620.8L1914.6 620.8L1915.2 620.8L1915.8 620.8L1916.4 620.8L1917.0 620.8L1917.6 620.8L1918.2 620.8L1918.8 620.8L1919.4 620.8L1920.0 620.8L1920.6 620.8L1921.2 620.8L1921.8 620.8L1922.4 620.8L1923.0 620.8L1923.6 620.8L1924.2 620.8L1924.8 620.8L1925.4 620.8L1926.0 620.8L1926.6 620.8L1927.2 620.8L1927.8 620.8L1928.4 620.8L1929.0 620.8L1929.6 620.8L1930.2 620.8L1930.8 620.8L1931.4 620.8L1932.0 620.8L1932.6 620.8L1933.2 620.8L1933.8 620.8L1934.4 620.8L1935.0 620.8L1935.6 620.8L1936.2 620.8L1936.8 620.8L1937.4 620.8L1938.0 620.8L1938.6 620.8L1939.2 620.8L1939.8 620.8L1940.4 620.8L1941.0 620.8L1941.6 620.8L1942.2 620.8L1942.8 620.8L1943.4 620.8L1944.0 620.8L1944.6 620.8L1945.2 620.8L1945.8 620.8L1946.4 620.8L1947.0 620.8L1947.6 620.8L1948.2 620.8L1948.8 620.8L1949.4 620.8L1950.0 620.8L1950.6 620.8L1951.2 620.8L1951.8 620.8L1952.4 620.8L1953.0 620.8L1953.6 620.8L1954.2 620.8L1954.8 620.8L1955.4 620.8L1956.0 620.8L1956.6 620.8" stroke="#ff0000" stroke-width="6.8"/>
<path d="M320.1 620.8L468.3 620.8L470.7 224.0L471.8 325.5L476.6 324.5L478.3 500.0L480.4 610.0L481.8 642.0L484.3 628.0L485.5 590.0L486.1 576.5L486.7 564.0L487.3 553.4L487.9 545.8L488.0 545.0L488.5 540.6L489.1 535.7L489.7 531.4L490.3 527.8L490.9 525.0L491.5 523.4L492.0 523.0L492.1 523.0L492.7 524.3L493.3 526.8L493.9 530.4L494.6 534.6L495.2 539.1L495.8 543.4L496.0 545.0L496.4 547.5L497.0 552.3L497.6 557.5L498.2 562.8L498.8 567.9L499.4 572.4L500.0 575.9L500.0 576.0L500.6 578.7L501.2 581.3L501.8 583.7L502.4 585.7L503.0 587.3L503.6 588.4L504.2 588.7L504.8 588.9L505.4 589.2L506.0 589.4L506.6 589.7L507.2 589.9L507.8 590.1L508.4 590.3L509.0 590.6L509.6 590.8L510.2 591.0L510.8 591.2L511.4 591.3L512.0 591.5L512.0 591.5L512.6 591.7L513.2 591.8L513.8 592.0L514.4 592.2L515.0 592.4L515.6 592.5L516.2 592.7L516.8 592.9L517.4 593.0L518.0 593.1L518.6 593.3L519.2 593.4L519.8 593.5L520.4 593.5L521.0 593.6L521.6 593.6L521.8 593.6L522.2 593.6L522.8 593.6L523.4 593.5L524.0 593.5L524.6 593.4L525.2 593.3L525.8 593.1L526.4 593.0L527.0 592.9L527.6 592.7L528.2 592.5L528.8 592.3L529.4 592.1L530.0 591.9L530.6 591.7L531.2 591.5L531.8 591.3L532.4 591.1L533.0 590.8L533.6 590.6L534.2 590.4L534.8 590.2L535.4 590.0L536.0 589.7L536.6 589.5L537.2 589.3L537.8 589.1L538.4 588.9L539.0 588.8L539.6 588.6L540.0 588.5L540.2 588.4L540.8 588.3L541.4 588.1L542.0 588.0L542.6 587.8L543.2 587.6L543.8 587.4L544.4 587.3L545.0 587.1L545.6 586.9L546.2 586.7L546.8 586.6L547.4 586.4L548.0 586.2L548.6 586.0L549.2 585.8L549.8 585.6L550.4 585.5L551.0 585.3L551.6 585.1L552.2 584.9L552.8 584.8L553.4 584.6L554.0 584.4L554.6 584.3L555.2 584.1L555.8 584.0L556.4 583.8L557.0 583.7L557.6 583.5L558.2 583.4L558.8 583.3L559.4 583.2L560.0 583.0L560.6 582.9L561.2 582.8L561.8 582.8L562.4 582.7L563.0 582.6L563.6 582.6L564.2 582.5L564.9 582.5L565.5 582.4L566.1 582.4L566.7 582.4L566.8 582.4L567.3 582.4L567.9 582.4L568.5 582.5L569.1 582.5L569.7 582.6L570.3 582.6L570.9 582.7L571.5 582.8L572.1 582.9L572.7 583.0L573.3 583.1L573.9 583.3L574.5 583.4L575.1 583.5L575.7 583.7L576.3 583.9L576.9 584.0L577.5 584.2L578.1 584.4L578.7 584.6L579.3 584.8L579.9 585.0L580.5 585.2L581.1 585.4L581.7 585.6L582.3 585.8L582.9 586.0L583.5 586.2L584.1 586.4L584.7 586.6L585.3 586.9L585.9 587.1L586.5 587.3L587.1 587.5L587.7 587.7L588.3 587.9L588.9 588.1L589.5 588.3L590.0 588.5L590.1 588.5L590.7 588.7L591.3 588.9L591.9 589.1L592.5 589.4L593.1 589.6L593.7 589.8L594.3 590.1L594.9 590.3L595.5 590.6L596.1 590.8L596.7 591.1L597.3 591.3L597.9 591.6L598.5 591.9L599.1 592.1L599.7 592.4L600.3 592.7L600.9 592.9L601.5 593.2L602.1 593.5L602.7 593.8L603.3 594.0L603.9 594.3L604.5 594.6L605.1 594.9L605.7 595.1L606.3 595.4L606.9 595.7L607.5 595.9L608.1 596.2L608.7 596.4L609.3 596.7L609.9 597.0L610.0 597.0L610.5 597.2L611.1 597.4L611.7 597.7L612.3 597.9L612.9 598.2L613.5 598.4L614.1 598.7L614.7 598.9L615.3 599.2L615.9 599.4L616.5 599.7L617.1 599.9L617.7 600.1L618.3 600.4L618.9 600.6L619.5 600.9L620.1 601.1L620.7 601.3L621.3 601.6L621.9 601.8L622.5 602.1L623.1 602.3L623.7 602.5L624.3 602.8L624.9 603.0L625.3 640.0L627.8 1008.5L638.2 513.7L649.1 669.0L654.1 597.3L657.0 600.5L660.6 593.8L665.7 611.7L666.3 611.9L666.9 612.1L667.5 612.2L668.1 612.3L668.7 612.4L669.3 612.4L669.9 612.4L670.5 612.4L670.7 612.4L671.1 612.3L671.7 611.9L672.3 611.3L672.9 610.6L673.5 609.9L674.1 609.4L674.7 609.0L675.0 609.0L675.3 609.0L675.9 609.1L676.5 609.2L677.1 609.4L677.7 609.6L678.3 609.9L678.9 610.2L679.5 610.5L680.1 610.8L680.7 611.2L681.3 611.6L681.9 612.0L682.5 612.4L683.1 612.8L683.7 613.2L684.3 613.6L684.9 613.9L685.5 614.3L686.0 614.5L686.1 614.6L686.7 614.9L687.3 615.2L687.9 615.5L688.5 615.8L689.1 616.1L689.7 616.4L690.3 616.8L690.9 617.1L691.5 617.4L692.1 617.7L692.7 618.0L693.3 618.4L693.9 618.7L694.5 619.0L695.1 619.3L695.7 619.6L696.3 619.9L696.9 620.2L697.5 620.4L698.1 620.7L698.7 621.0L699.3 621.2L699.9 621.4L700.5 621.6L701.0 621.8L701.1 621.8L701.7 622.0L702.3 622.3L702.9 622.5L703.5 622.7L704.1 622.9L704.7 623.1L705.3 623.3L705.9 623.5L706.5 623.7L707.1 623.9L707.7 624.1L708.3 624.3L709.0 624.5L709.6 624.6L710.2 624.8L710.8 625.0L711.4 625.1L712.0 625.3L712.6 625.4L713.2 625.5L713.8 625.7L714.4 625.8L715.0 625.9L715.6 625.9L716.2 626.0L716.8 626.0L717.4 626.1L718.0 626.1L718.3 626.1L718.6 626.1L719.2 625.8L719.8 625.3L720.4 624.6L721.0 623.8L721.6 622.8L722.2 621.8L722.8 620.7L723.4 619.5L724.0 618.4L724.6 617.4L725.2 616.5L725.8 615.7L726.4 615.0L727.0 614.6L727.0 614.6L727.6 614.3L728.2 614.1L728.8 613.8L729.4 613.5L730.0 613.3L730.6 613.1L731.2 612.8L731.8 612.6L732.4 612.4L733.0 612.3L733.6 612.1L734.2 612.0L734.8 611.9L735.4 611.8L736.0 611.7L736.6 611.7L737.1 611.7L737.2 611.7L737.8 611.7L738.4 611.7L739.0 611.7L739.6 611.7L740.2 611.7L740.8 611.7L741.4 611.7L742.0 611.7L742.6 611.8L743.2 611.8L743.8 611.8L744.4 611.8L745.0 611.8L745.6 611.8L746.2 611.9L746.8 611.9L747.4 611.9L748.0 611.9L748.6 612.0L749.2 612.0L749.8 612.0L750.4 612.0L751.0 612.1L751.6 612.1L752.2 612.1L752.8 612.2L753.4 612.2L754.0 612.3L754.6 612.3L755.2 612.4L755.8 612.4L755.8 612.4L756.4 612.5L757.0 612.7L757.6 613.0L758.2 613.4L758.8 613.9L759.4 614.4L760.0 615.0L760.6 615.6L761.2 616.3L761.8 617.0L762.4 617.7L763.0 618.5L763.6 619.2L764.2 619.9L764.8 620.6L765.4 621.3L765.9 621.8L766.0 621.9L766.6 622.6L767.2 623.3L767.8 624.1L768.4 624.9L769.0 625.7L769.6 626.5L770.2 627.4L770.8 628.2L771.4 628.9L772.0 629.6L772.6 630.3L773.2 630.9L773.8 631.4L774.4 631.8L774.6 631.9L775.0 632.1L775.6 632.4L776.2 632.8L776.8 633.1L777.4 633.3L778.0 633.6L778.6 633.9L779.2 634.2L779.8 634.4L780.4 634.7L781.0 634.9L781.6 635.1L782.2 635.3L782.8 635.5L783.4 635.6L784.0 635.8L784.6 635.9L785.2 636.0L785.8 636.1L786.4 636.2L787.0 636.2L787.6 636.2L787.6 636.2L788.2 636.2L788.8 636.2L789.4 636.2L790.0 636.1L790.6 636.1L791.2 636.0L791.8 636.0L792.4 635.9L793.0 635.9L793.6 635.8L794.3 635.7L794.9 635.6L795.5 635.5L796.1 635.4L796.7 635.3L797.3 635.2L797.9 635.1L798.5 635.0L799.1 634.9L799.7 634.7L800.3 634.6L800.9 634.5L801.5 634.3L802.1 634.2L802.7 634.0L803.3 633.9L803.9 633.7L804.5 633.6L805.1 633.4L805.7 633.3L806.3 633.1L806.9 633.0L807.5 632.8L808.1 632.6L808.7 632.5L809.3 632.3L809.9 632.2L810.5 632.0L811.1 631.9L811.7 631.7L812.3 631.5L812.9 631.4L813.5 631.2L814.1 631.1L814.7 630.9L815.3 630.8L815.9 630.6L816.5 630.5L816.5 630.5L817.1 630.4L817.7 630.2L818.3 630.1L818.9 629.9L819.5 629.7L820.1 629.6L820.7 629.4L821.3 629.2L821.9 629.0L822.5 628.8L823.1 628.7L823.7 628.5L824.3 628.3L824.9 628.1L825.5 627.9L826.1 627.7L826.7 627.5L827.3 627.3L827.9 627.1L828.5 626.9L829.1 626.7L829.7 626.5L830.3 626.3L830.9 626.1L831.5 625.9L832.1 625.7L832.7 625.5L833.3 625.3L833.9 625.1L834.5 624.9L835.1 624.7L835.7 624.5L836.3 624.4L836.9 624.2L837.5 624.0L838.1 623.9L838.7 623.7L839.3 623.6L839.9 623.4L840.5 623.3L841.1 623.2L841.7 623.0L842.3 622.9L842.9 622.8L843.5 622.7L844.1 622.6L844.7 622.6L845.3 622.5L845.3 622.5L845.9 622.4L846.5 622.4L847.1 622.3L847.7 622.2L848.3 622.2L848.9 622.1L849.5 622.1L850.1 622.0L850.7 621.9L851.3 621.9L851.9 621.8L852.5 621.8L853.1 621.7L853.7 621.7L854.3 621.6L854.9 621.6L855.5 621.5L856.1 621.4L856.7 621.4L857.3 621.4L857.9 621.3L858.5 621.3L859.1 621.2L859.7 621.2L860.3 621.1L860.9 621.1L861.5 621.0L862.1 621.0L862.7 621.0L863.3 620.9L863.9 620.9L864.5 620.9L865.1 620.8L865.7 620.8L866.3 620.8L866.9 620.8L867.5 620.7L868.1 620.7L868.7 620.7L869.3 620.7L869.9 620.7L870.5 620.6L871.1 620.6L871.7 620.6L872.3 620.6L872.9 620.6L873.5 620.6L874.1 620.6L874.2 620.6L874.7 620.6L875.3 620.6L875.9 620.6L876.5 620.6L877.1 620.6L877.7 620.6L878.3 620.6L878.9 620.6L879.6 620.6L880.2 620.6L880.8 620.6L881.4 620.6L882.0 620.6L882.6 620.6L883.2 620.7L883.8 620.7L884.4 620.7L885.0 620.7L885.6 620.7L886.2 620.7L886.8 620.7L887.4 620.7L888.0 620.7L888.6 620.7L889.2 620.7L889.8 620.7L890.4 620.7L891.0 620.7L891.6 620.7L892.2 620.8L892.8 620.8L893.4 620.8L894.0 620.8L894.6 620.8L895.2 620.8L895.8 620.8L896.4 620.8L897.0 620.8L897.6 620.8L898.2 620.8L898.8 620.8L899.4 620.8L900.0 620.8L900.0 620.8L900.6 620.8L901.2 620.8L901.8 620.8L902.4 620.8L903.0 620.8L903.6 620.8L904.2 620.8L904.8 620.8L905.4 620.8L906.0 620.8L906.6 620.8L907.2 620.8L907.8 620.8L908.4 620.8L909.0 620.8L909.6 620.8L910.2 620.8L910.8 620.8L911.4 620.8L912.0 620.8L912.6 620.8L913.2 620.8L913.8 620.8L914.4 620.8L915.0 620.8L915.6 620.8L916.2 620.8L916.8 620.8L917.4 620.8L918.0 620.8L918.6 620.8L919.2 620.8L919.8 620.8L920.4 620.8L921.0 620.8L921.6 620.8L922.2 620.8L922.6 660.0L923.8 950.0L928.6 736.0L932.8 806.0L935.3 590.0L937.6 640.0L938.5 662.0L940.0 629.0L941.5 666.0L943.0 631.0L944.5 667.0L946.0 633.0L947.3 664.0L948.6 636.0L950.5 616.6L953.5 600.4L956.5 590.5L957.1 590.3L957.7 590.2L958.3 590.1L958.9 590.0L959.5 589.9L960.1 589.9L960.7 589.8L961.3 589.8L961.9 589.8L962.0 589.8L962.5 589.8L963.1 589.9L963.7 590.0L964.3 590.1L964.9 590.2L965.5 590.3L966.0 590.3L966.1 590.3L966.7 590.2L967.3 590.0L967.9 589.7L968.5 589.4L969.1 589.1L969.7 588.8L970.3 588.6L970.9 588.5L971.1 588.5L971.5 588.5L972.1 588.6L972.7 588.8L973.3 589.0L973.9 589.3L974.6 589.7L975.2 590.0L975.8 590.4L976.4 590.9L977.0 591.3L977.6 591.7L978.0 592.0L978.2 592.1L978.8 592.6L979.4 593.0L980.0 593.6L980.6 594.1L981.2 594.7L981.8 595.3L982.4 596.0L983.0 596.6L983.6 597.3L984.2 598.1L984.8 598.8L985.4 599.6L986.0 600.3L986.6 601.1L987.2 601.9L987.8 602.7L988.4 603.5L989.0 604.3L989.6 605.1L989.9 605.5L990.2 605.9L990.8 606.7L991.4 607.5L992.0 608.4L992.6 609.3L993.2 610.1L993.8 611.0L994.4 612.0L995.0 612.9L995.6 613.8L996.2 614.8L996.8 615.8L997.4 616.7L998.0 617.7L998.6 618.7L999.2 619.7L999.8 620.8L1000.4 621.8L1001.0 622.8L1001.6 623.9L1002.2 624.9L1002.8 626.0L1003.4 627.1L1004.0 628.1L1004.3 628.6L1004.6 629.2L1005.2 630.3L1005.8 631.4L1006.4 632.5L1007.0 633.6L1007.6 634.8L1008.2 635.9L1008.8 637.1L1009.4 638.3L1010.1 639.5L1010.7 640.7L1011.3 641.9L1011.9 643.1L1012.5 644.3L1013.1 645.6L1013.7 646.8L1014.3 648.0L1014.9 649.3L1015.5 650.6L1016.1 651.9L1016.7 653.1L1017.3 654.4L1017.9 655.7L1018.5 657.0L1018.7 657.5L1019.1 658.3L1019.7 659.6L1020.3 661.0L1020.9 662.3L1021.5 663.7L1022.1 665.1L1022.7 666.4L1023.3 667.8L1023.9 669.2L1024.5 670.7L1025.1 672.1L1025.7 673.5L1026.3 675.0L1026.9 676.4L1027.5 677.9L1028.1 683.3L1028.7 688.6L1029.3 693.9L1029.9 699.2L1030.0 700.0L1030.5 705.1L1031.1 711.9L1031.7 717.9L1032.3 721.4L1032.5 721.6L1032.9 721.4L1033.5 720.6L1034.1 719.2L1034.7 717.4L1035.3 715.4L1035.9 713.3L1036.5 711.4L1037.0 710.0L1037.1 709.7L1037.7 707.9L1038.3 705.9L1038.9 703.9L1039.5 701.8L1040.1 699.9L1040.7 698.3L1041.3 697.1L1041.9 696.3L1042.3 696.2L1042.5 696.2L1043.1 696.7L1043.7 697.6L1044.3 699.0L1044.9 700.6L1045.5 702.5L1046.1 704.6L1046.7 706.8L1047.3 709.0L1047.9 711.1L1048.5 713.2L1049.1 715.1L1049.7 716.7L1050.3 718.0L1050.4 718.1L1050.9 719.0L1051.5 720.0L1052.1 721.0L1052.7 722.0L1053.3 722.9L1053.9 723.8L1054.5 724.7L1055.1 725.4L1055.7 726.2L1056.3 726.8L1056.9 727.4L1057.5 727.9L1058.1 728.3L1058.5 728.5L1058.7 728.6L1059.3 728.9L1059.9 729.2L1060.5 729.5L1061.1 729.8L1061.7 730.0L1062.3 730.3L1062.9 730.5L1063.5 730.7L1064.1 730.9L1064.7 731.0L1065.3 731.2L1066.0 731.3L1066.6 731.3L1067.2 731.4L1067.7 731.4L1067.8 731.4L1068.4 731.4L1069.0 731.3L1069.6 731.3L1070.2 731.2L1070.8 731.0L1071.4 730.9L1072.0 730.8L1072.6 730.6L1073.2 730.5L1073.8 730.3L1074.4 730.2L1075.0 730.1L1075.6 730.0L1076.2 729.9L1076.8 729.8L1077.4 729.7L1078.0 729.7L1078.1 729.7L1078.6 729.8L1079.2 730.2L1079.8 730.7L1080.4 731.5L1081.0 732.3L1081.6 733.1L1082.2 733.8L1082.8 734.4L1083.4 734.8L1083.9 734.9L1084.0 734.9L1084.6 734.8L1085.2 734.7L1085.8 734.4L1086.4 734.1L1087.0 733.8L1087.6 733.3L1088.2 732.9L1088.8 732.4L1089.4 731.9L1090.0 731.4L1090.6 731.0L1090.8 730.8L1091.2 730.5L1091.8 730.0L1092.4 729.4L1093.0 728.8L1093.6 728.2L1094.2 727.6L1094.8 726.9L1095.4 726.2L1096.0 725.4L1096.6 724.7L1097.2 724.0L1097.8 723.2L1098.4 722.5L1099.0 721.8L1099.6 721.1L1100.2 720.4L1100.8 719.7L1101.4 719.1L1102.0 718.5L1102.4 718.1L1102.6 717.9L1103.2 717.4L1103.8 716.9L1104.4 716.4L1105.0 715.9L1105.6 715.4L1106.2 714.9L1106.8 714.5L1107.4 714.0L1108.0 713.6L1108.6 713.1L1109.2 712.7L1109.8 712.2L1110.4 711.8L1111.0 711.3L1111.6 710.8L1112.2 710.3L1112.8 709.8L1113.4 709.3L1113.9 708.9L1114.0 708.8L1114.6 708.3L1115.2 707.8L1115.8 707.3L1116.4 706.8L1117.0 706.3L1117.6 705.7L1118.2 705.0L1118.8 704.3L1119.4 703.5L1119.7 703.1L1120.0 702.5L1120.6 701.2L1121.2 699.5L1121.8 697.6L1122.4 695.5L1123.0 693.3L1123.6 691.0L1124.2 688.7L1124.8 686.5L1125.4 684.6L1125.4 684.5L1126.0 682.5L1126.6 680.5L1127.2 678.4L1127.8 676.3L1128.4 674.3L1129.0 672.3L1129.6 670.4L1130.2 668.7L1130.8 667.1L1131.2 666.2L1131.4 665.7L1132.0 664.3L1132.6 663.0L1133.2 661.7L1133.8 660.5L1134.4 659.3L1135.0 658.3L1135.6 657.4L1136.2 656.6L1136.8 655.9L1137.0 655.8L1137.4 655.4L1138.0 654.9L1138.6 654.4L1139.2 654.0L1139.8 653.5L1140.4 653.1L1141.0 652.8L1141.7 652.5L1142.3 652.2L1142.9 652.0L1143.5 651.8L1144.1 651.7L1144.5 651.7L1144.7 651.7L1145.3 651.8L1145.9 651.9L1146.5 652.1L1147.1 652.4L1147.7 652.8L1148.3 653.2L1148.9 653.7L1149.5 654.2L1150.1 654.7L1150.7 655.3L1151.3 655.9L1151.9 656.6L1152.5 657.2L1153.1 657.9L1153.7 658.5L1154.3 659.2L1154.3 659.2L1154.9 659.9L1155.5 660.6L1156.1 661.5L1156.7 662.4L1157.3 663.4L1157.9 664.5L1158.5 665.6L1159.1 666.7L1159.7 667.9L1160.3 669.1L1160.9 670.3L1161.5 671.5L1162.1 672.7L1162.7 673.8L1163.3 675.0L1163.5 675.4L1163.9 676.1L1164.5 677.1L1165.1 678.1L1165.7 679.0L1166.3 679.9L1166.9 680.9L1167.5 682.0L1168.1 683.1L1168.7 684.4L1169.3 685.8L1169.9 687.4L1170.5 689.3L1170.5 689.3L1171.1 691.8L1171.7 695.2L1172.3 699.4L1172.9 704.1L1173.5 709.0L1173.9 712.4L1174.1 714.1L1174.7 720.6L1175.3 727.5L1175.9 733.4L1176.2 735.4L1176.5 737.0L1177.1 740.0L1177.7 742.5L1178.3 743.9L1178.6 744.1L1178.9 744.1L1179.5 744.0L1180.1 743.8L1180.7 743.5L1181.3 743.2L1181.9 742.9L1182.5 742.6L1183.1 742.3L1183.7 742.0L1184.3 741.7L1184.9 741.5L1185.5 741.4L1185.8 741.4L1186.1 741.5L1186.7 742.3L1187.3 743.8L1187.9 745.6L1188.5 747.7L1189.1 749.8L1189.7 751.7L1190.1 752.8L1190.3 753.3L1190.9 754.9L1191.5 756.5L1192.1 758.2L1192.7 759.8L1193.3 761.4L1193.9 762.9L1194.5 764.4L1195.1 765.7L1195.7 766.9L1196.3 768.0L1196.9 768.8L1197.0 768.9L1197.5 769.5L1198.1 770.2L1198.7 770.9L1199.3 771.5L1199.9 772.2L1200.5 772.8L1201.1 773.4L1201.7 774.0L1202.3 774.5L1202.9 775.1L1203.5 775.6L1204.1 776.0L1204.7 776.4L1205.3 776.8L1205.9 777.2L1206.5 777.5L1207.1 777.7L1207.7 777.9L1208.3 778.1L1208.9 778.2L1209.5 778.3L1209.9 778.3L1210.1 778.3L1210.7 778.3L1211.3 778.2L1211.9 778.1L1212.5 778.0L1213.1 777.9L1213.7 777.8L1214.3 777.6L1214.9 777.4L1215.5 777.2L1216.1 777.0L1216.7 776.8L1217.3 776.6L1218.0 776.4L1218.6 776.1L1219.2 775.9L1219.8 775.6L1220.4 775.4L1221.0 775.1L1221.6 774.9L1222.2 774.6L1222.5 774.5L1222.8 774.4L1223.4 774.2L1224.0 773.9L1224.6 773.6L1225.2 773.4L1225.8 773.1L1226.4 772.8L1227.0 772.5L1227.6 772.2L1228.2 771.9L1228.8 771.6L1229.4 771.2L1230.0 770.9L1230.6 770.5L1231.2 770.2L1231.8 769.8L1232.4 769.4L1233.0 768.9L1233.6 768.5L1234.2 768.1L1234.8 767.6L1235.4 767.1L1235.5 767.0L1236.0 766.6L1236.6 766.1L1237.2 765.5L1237.8 764.9L1238.4 764.2L1239.0 763.5L1239.6 762.8L1240.2 762.0L1240.8 761.1L1241.4 760.2L1242.0 759.2L1242.6 758.1L1242.9 757.5L1243.2 756.9L1243.8 755.4L1244.4 753.5L1245.0 751.4L1245.6 749.1L1246.2 746.8L1246.8 744.4L1247.4 742.0L1248.0 739.8L1248.5 738.1L1248.6 737.8L1249.2 735.8L1249.8 733.8L1250.4 731.7L1251.0 729.7L1251.6 727.7L1252.2 725.9L1252.8 724.2L1253.4 722.7L1254.0 721.4L1254.3 720.8L1254.6 720.3L1255.2 719.3L1255.8 718.3L1256.4 717.4L1257.0 716.6L1257.6 715.9L1258.2 715.2L1258.8 714.7L1259.4 714.2L1260.0 713.9L1260.0 713.9L1260.6 713.7L1261.2 713.4L1261.8 713.2L1262.4 713.0L1263.0 712.8L1263.6 712.7L1264.2 712.5L1264.8 712.4L1265.4 712.3L1266.0 712.2L1266.6 712.2L1267.0 712.2L1267.2 712.2L1267.8 712.3L1268.4 712.4L1269.0 712.7L1269.6 713.0L1270.2 713.3L1270.8 713.8L1271.4 714.2L1272.0 714.7L1272.6 715.2L1273.2 715.8L1273.8 716.3L1274.4 716.9L1275.0 717.5L1275.6 718.0L1276.2 718.5L1276.2 718.5L1276.8 719.0L1277.4 719.6L1278.0 720.1L1278.6 720.7L1279.2 721.2L1279.8 721.8L1280.4 722.4L1281.0 723.1L1281.6 723.7L1282.2 724.5L1282.8 725.2L1283.4 726.0L1284.0 726.8L1284.6 727.7L1285.2 728.6L1285.4 728.9L1285.8 729.7L1286.4 730.8L1287.0 732.1L1287.6 733.6L1288.2 735.1L1288.8 736.8L1289.4 738.5L1290.0 740.3L1290.6 742.2L1291.2 743.9L1291.2 744.0L1291.8 746.1L1292.4 748.3L1293.0 750.8L1293.7 753.3L1294.3 755.9L1294.9 758.5L1295.5 761.1L1296.1 763.5L1296.7 765.8L1297.0 767.0L1297.3 767.9L1297.9 769.8L1298.5 771.8L1299.1 773.6L1299.7 775.4L1300.3 777.2L1300.9 778.9L1301.5 780.6L1302.1 782.3L1302.7 783.9L1302.8 784.3L1303.3 785.6L1303.9 787.2L1304.5 788.8L1305.1 790.4L1305.7 792.0L1306.3 793.5L1306.9 795.0L1307.5 796.4L1308.1 797.8L1308.7 799.1L1309.3 800.4L1309.5 800.8L1309.9 801.5L1310.5 802.5L1311.1 803.5L1311.7 804.4L1312.3 805.3L1312.9 806.2L1313.5 807.1L1314.0 808.0L1314.1 808.1L1314.7 809.4L1315.3 810.8L1315.9 812.3L1316.5 813.7L1317.1 814.9L1317.7 815.7L1318.3 816.0L1318.3 816.0L1318.9 815.9L1319.5 815.8L1320.1 815.5L1320.7 815.2L1321.3 814.8L1321.9 814.3L1322.5 813.9L1323.1 813.4L1323.7 812.9L1324.3 812.5L1324.3 812.5L1324.9 812.1L1325.5 811.7L1326.1 811.2L1326.7 810.7L1327.3 810.3L1327.9 809.8L1328.5 809.3L1329.1 808.7L1329.7 808.2L1330.3 807.6L1330.9 807.1L1331.5 806.5L1332.4 700.0L1334.4 286.3L1341.8 640.0L1345.9 722.0L1352.8 709.9L1353.4 706.9L1354.0 704.0L1354.6 701.2L1355.2 698.6L1355.8 696.2L1356.4 693.9L1357.0 691.9L1357.6 690.0L1358.2 688.4L1358.8 687.0L1359.3 686.0L1359.4 685.8L1360.0 684.8L1360.6 683.9L1361.2 683.0L1361.8 682.3L1362.4 681.6L1363.0 681.0L1363.6 680.6L1363.9 680.4L1364.2 680.2L1364.8 679.9L1365.4 679.6L1366.0 679.3L1366.6 679.0L1367.2 678.8L1367.8 678.6L1368.4 678.4L1369.0 678.2L1369.6 678.0L1370.2 677.8L1370.8 677.7L1371.4 677.6L1372.0 677.5L1372.0 677.5L1372.6 677.4L1373.2 677.3L1373.8 677.3L1374.4 677.2L1375.0 677.2L1375.6 677.2L1376.2 677.1L1376.8 677.1L1377.4 677.1L1378.0 677.0L1378.6 677.0L1379.2 677.0L1379.8 676.9L1380.4 676.9L1381.0 676.8L1381.6 676.8L1382.2 676.7L1382.8 676.6L1383.4 676.5L1383.6 676.5L1384.0 676.4L1384.6 676.2L1385.2 675.9L1385.8 675.5L1386.4 675.1L1387.0 674.6L1387.6 674.1L1388.2 673.5L1388.8 673.0L1389.4 672.5L1390.0 672.0L1390.0 672.0L1390.6 671.5L1391.2 671.0L1391.8 670.5L1392.4 670.0L1393.0 669.5L1393.6 668.9L1394.2 668.4L1394.8 667.8L1395.4 667.3L1396.0 666.7L1396.6 666.1L1397.2 665.6L1397.8 665.0L1398.0 664.8L1398.4 664.4L1399.0 663.8L1399.6 663.2L1400.2 662.6L1400.8 662.0L1401.4 661.4L1402.0 660.8L1402.6 660.2L1403.2 659.5L1403.8 658.9L1404.4 658.3L1405.0 657.6L1405.6 657.0L1406.2 656.3L1406.8 655.7L1407.0 655.5L1407.4 655.0L1408.0 654.4L1408.6 653.7L1409.2 653.0L1409.8 652.3L1410.4 651.6L1411.0 650.9L1411.6 650.2L1412.2 649.5L1412.8 648.8L1413.4 648.1L1414.0 647.4L1414.4 647.0L1414.6 646.8L1415.2 646.1L1415.8 645.5L1416.4 644.8L1417.0 644.2L1417.6 643.5L1418.2 642.9L1418.8 642.2L1419.4 641.6L1420.0 641.0L1420.6 640.3L1421.2 639.7L1421.8 639.1L1422.4 638.5L1423.0 637.8L1423.6 637.2L1424.2 636.6L1424.8 636.0L1425.4 635.4L1426.0 634.8L1426.6 634.2L1427.2 633.6L1427.8 633.0L1428.4 632.5L1428.8 632.1L1429.0 631.9L1429.6 631.3L1430.2 630.7L1430.8 630.1L1431.4 629.5L1432.0 629.0L1432.6 628.4L1433.2 627.8L1433.8 627.2L1434.4 626.6L1435.0 626.1L1435.6 625.5L1436.2 624.9L1436.8 624.4L1437.4 623.8L1438.0 623.3L1438.6 622.8L1439.2 622.2L1439.8 621.7L1440.4 621.2L1441.0 620.8L1441.6 620.3L1442.2 619.8L1442.8 619.4L1443.2 619.1L1443.4 618.9L1444.0 618.5L1444.6 618.1L1445.2 617.7L1445.8 617.3L1446.4 616.9L1447.0 616.5L1447.6 616.1L1448.2 615.7L1448.8 615.3L1449.4 615.0L1450.0 614.6L1450.6 614.3L1451.2 613.9L1451.8 613.6L1452.4 613.2L1453.0 612.9L1453.6 612.6L1454.2 612.3L1454.8 611.9L1455.4 611.6L1456.0 611.3L1456.6 611.0L1457.2 610.7L1457.7 610.5L1457.8 610.4L1458.4 610.2L1459.0 609.9L1459.6 609.6L1460.2 609.3L1460.8 609.0L1461.4 608.8L1462.0 608.5L1462.6 608.3L1463.2 608.0L1463.8 607.8L1464.4 607.5L1465.0 607.3L1465.6 607.0L1466.2 606.8L1466.8 606.6L1467.4 606.3L1468.0 606.1L1468.6 605.9L1469.2 605.7L1469.8 605.5L1470.4 605.3L1471.0 605.1L1471.6 604.9L1472.1 604.7L1472.2 604.7L1472.8 604.5L1473.4 604.3L1474.0 604.1L1474.6 603.9L1475.2 603.7L1475.8 603.5L1476.4 603.3L1477.0 603.1L1477.6 602.9L1478.2 602.7L1478.8 602.5L1479.4 602.3L1480.0 602.1L1480.6 601.9L1481.2 601.7L1481.8 601.6L1482.4 601.4L1483.0 601.2L1483.6 601.0L1484.2 600.9L1484.8 600.7L1485.4 600.5L1486.0 600.4L1486.6 600.2L1487.2 600.1L1487.8 599.9L1488.4 599.8L1489.0 599.7L1489.6 599.5L1490.2 599.4L1490.8 599.3L1491.4 599.2L1492.0 599.1L1492.6 599.0L1493.2 599.0L1493.7 598.9L1493.8 598.9L1494.4 598.8L1495.0 598.7L1495.6 598.7L1496.2 598.6L1496.8 598.5L1497.4 598.5L1498.0 598.4L1498.6 598.3L1499.2 598.3L1499.8 598.2L1500.4 598.1L1501.0 598.1L1501.6 598.0L1502.2 598.0L1502.8 597.9L1503.4 597.8L1504.1 597.8L1504.7 597.7L1505.3 597.7L1505.9 597.6L1506.5 597.6L1507.1 597.5L1507.7 597.5L1508.3 597.4L1508.9 597.4L1509.5 597.3L1510.1 597.3L1510.7 597.2L1511.3 597.2L1511.9 597.2L1512.5 597.1L1513.1 597.1L1513.7 597.1L1514.3 597.0L1514.9 597.0L1515.5 597.0L1516.1 596.9L1516.7 596.9L1517.3 596.9L1517.9 596.9L1518.5 596.9L1519.1 596.8L1519.7 596.8L1520.3 596.8L1520.9 596.8L1521.5 596.8L1522.1 596.8L1522.5 596.8L1522.7 596.8L1523.3 596.8L1523.9 596.8L1524.5 596.8L1525.1 596.8L1525.7 596.8L1526.3 596.8L1526.9 596.9L1527.5 596.9L1528.1 596.9L1528.7 596.9L1529.3 596.9L1529.9 596.9L1530.5 597.0L1531.1 597.0L1531.7 597.0L1532.3 597.0L1532.9 597.1L1533.5 597.1L1534.1 597.1L1534.7 597.2L1535.3 597.2L1535.9 597.2L1536.5 597.3L1537.1 597.3L1537.7 597.3L1538.3 597.4L1538.9 597.4L1539.5 597.4L1540.1 597.5L1540.7 597.5L1541.3 597.6L1541.9 597.6L1542.5 597.7L1543.1 597.7L1543.7 597.7L1544.3 597.8L1544.9 597.8L1545.5 597.9L1546.1 597.9L1546.7 598.0L1547.3 598.0L1547.9 598.1L1548.5 598.1L1549.1 598.2L1549.7 598.2L1550.3 598.3L1550.9 598.3L1551.5 598.4L1552.1 598.4L1552.7 598.4L1553.3 598.5L1553.9 598.5L1554.5 598.6L1555.1 598.6L1555.7 598.7L1556.3 598.7L1556.9 598.8L1557.5 598.8L1558.1 598.9L1558.6 598.9L1558.7 598.9L1559.3 598.9L1559.9 599.0L1560.5 599.0L1561.1 599.1L1561.7 599.1L1562.3 599.2L1562.9 599.2L1563.5 599.3L1564.1 599.3L1564.7 599.4L1565.3 599.4L1565.9 599.5L1566.5 599.5L1567.1 599.6L1567.7 599.7L1568.3 599.7L1568.9 599.8L1569.5 599.8L1570.1 599.9L1570.7 599.9L1571.3 600.0L1571.9 600.0L1572.5 600.1L1573.1 600.2L1573.7 600.2L1574.3 600.3L1574.9 600.3L1575.5 600.4L1576.1 600.5L1576.7 600.5L1577.3 600.6L1577.9 600.7L1578.5 600.7L1579.1 600.8L1579.7 600.8L1580.3 600.9L1580.9 601.0L1581.5 601.0L1582.1 601.1L1582.7 601.2L1583.3 601.2L1583.9 601.3L1584.5 601.4L1585.1 601.4L1585.7 601.5L1586.3 601.6L1586.9 601.6L1587.5 601.7L1588.1 601.7L1588.7 601.8L1589.3 601.9L1589.9 601.9L1590.5 602.0L1591.1 602.1L1591.7 602.1L1592.3 602.2L1592.9 602.3L1593.5 602.3L1594.1 602.4L1594.7 602.5L1595.3 602.5L1595.9 602.6L1596.5 602.7L1597.1 602.7L1597.7 602.8L1598.3 602.8L1598.9 602.9L1599.5 603.0L1600.1 603.0L1600.7 603.1L1601.3 603.1L1601.8 603.2L1601.9 603.2L1602.5 603.3L1603.1 603.3L1603.7 603.4L1604.3 603.5L1604.9 603.5L1605.5 603.6L1606.1 603.6L1606.7 603.7L1607.3 603.8L1607.9 603.8L1608.5 603.9L1609.1 603.9L1609.7 604.0L1610.3 604.1L1610.9 604.1L1611.5 604.2L1612.1 604.3L1612.7 604.3L1613.3 604.4L1613.9 604.4L1614.5 604.5L1615.1 604.6L1615.7 604.6L1616.3 604.7L1616.9 604.8L1617.5 604.8L1618.1 604.9L1618.7 605.0L1619.3 605.0L1619.9 605.1L1620.5 605.1L1621.1 605.2L1621.7 605.3L1622.3 605.3L1622.9 605.4L1623.5 605.5L1624.1 605.5L1624.7 605.6L1625.3 605.6L1625.9 605.7L1626.5 605.8L1627.1 605.8L1627.7 605.9L1628.3 606.0L1628.9 606.0L1629.5 606.1L1630.1 606.1L1630.7 606.2L1631.3 606.3L1631.9 606.3L1632.5 606.4L1633.1 606.4L1633.7 606.5L1634.3 606.6L1634.9 606.6L1635.5 606.7L1636.1 606.7L1636.7 606.8L1637.3 606.9L1637.9 606.9L1638.5 607.0L1639.1 607.0L1639.7 607.1L1640.3 607.2L1640.9 607.2L1641.5 607.3L1642.1 607.3L1642.7 607.4L1643.3 607.4L1643.9 607.5L1644.5 607.5L1645.1 607.6L1645.1 607.6L1645.7 607.7L1646.3 607.7L1646.9 607.8L1647.5 607.8L1648.1 607.9L1648.7 607.9L1649.3 608.0L1649.9 608.0L1650.5 608.1L1651.1 608.1L1651.7 608.2L1652.3 608.2L1652.9 608.3L1653.5 608.3L1654.1 608.4L1654.7 608.4L1655.3 608.5L1655.9 608.5L1656.5 608.6L1657.1 608.6L1657.7 608.7L1658.3 608.7L1658.9 608.8L1659.5 608.8L1660.1 608.9L1660.7 608.9L1661.3 609.0L1661.9 609.0L1662.5 609.1L1663.1 609.1L1663.7 609.2L1664.3 609.2L1664.9 609.3L1665.5 609.3L1666.1 609.4L1666.7 609.4L1667.3 609.5L1667.9 609.5L1668.5 609.6L1669.1 609.6L1669.7 609.7L1670.3 609.7L1670.9 609.7L1671.5 609.8L1672.1 609.8L1672.7 609.9L1673.3 609.9L1673.9 610.0L1674.5 610.0L1675.1 610.1L1675.7 610.1L1676.3 610.2L1676.9 610.2L1677.5 610.3L1678.1 610.3L1678.7 610.4L1679.3 610.4L1679.9 610.4L1680.5 610.5L1681.1 610.5L1681.7 610.6L1682.3 610.6L1682.9 610.7L1683.5 610.7L1684.1 610.8L1684.7 610.8L1685.3 610.9L1685.9 610.9L1686.5 611.0L1687.1 611.0L1687.7 611.0L1688.3 611.1L1688.9 611.1L1689.5 611.2L1690.1 611.2L1690.7 611.3L1691.3 611.3L1691.9 611.4L1692.5 611.4L1693.1 611.5L1693.7 611.5L1694.3 611.6L1694.9 611.6L1695.5 611.6L1696.1 611.7L1696.7 611.7L1697.3 611.8L1697.9 611.8L1698.5 611.9L1699.1 611.9L1699.7 612.0L1700.0 612.0L1700.3 612.0L1700.9 612.1L1701.5 612.1L1702.1 612.2L1702.7 612.2L1703.3 612.3L1703.9 612.3L1704.5 612.4L1705.1 612.4L1705.7 612.5L1706.3 612.5L1706.9 612.6L1707.5 612.6L1708.1 612.7L1708.7 612.7L1709.3 612.8L1709.9 612.8L1710.5 612.9L1711.1 612.9L1711.7 613.0L1712.3 613.0L1712.9 613.1L1713.5 613.1L1714.1 613.2L1714.7 613.2L1715.3 613.3L1715.9 613.3L1716.5 613.4L1717.1 613.4L1717.7 613.5L1718.3 613.5L1718.9 613.6L1719.5 613.6L1720.1 613.7L1720.7 613.7L1721.3 613.8L1721.9 613.8L1722.5 613.9L1723.1 613.9L1723.7 614.0L1724.3 614.0L1724.9 614.1L1725.5 614.1L1726.1 614.2L1726.7 614.2L1727.3 614.3L1727.9 614.3L1728.5 614.4L1729.1 614.4L1729.7 614.5L1730.3 614.5L1730.9 614.6L1731.5 614.6L1732.1 614.7L1732.7 614.7L1733.3 614.8L1733.9 614.8L1734.5 614.9L1735.1 614.9L1735.7 615.0L1736.3 615.0L1736.9 615.1L1737.5 615.1L1738.1 615.2L1738.7 615.2L1739.3 615.2L1739.9 615.3L1740.5 615.3L1741.1 615.4L1741.7 615.4L1742.3 615.5L1742.9 615.5L1743.5 615.6L1744.1 615.6L1744.7 615.7L1745.3 615.7L1745.9 615.7L1746.5 615.8L1747.1 615.8L1747.7 615.9L1748.3 615.9L1748.9 615.9L1749.5 616.0L1750.1 616.0L1750.7 616.1L1751.3 616.1L1751.9 616.1L1752.5 616.2L1753.1 616.2L1753.7 616.3L1754.3 616.3L1754.9 616.3L1755.5 616.4L1756.1 616.4L1756.7 616.4L1757.3 616.5L1757.7 616.5L1757.9 616.5L1758.5 616.5L1759.1 616.6L1759.7 616.6L1760.3 616.6L1760.9 616.7L1761.5 616.7L1762.1 616.8L1762.7 616.8L1763.3 616.8L1763.9 616.9L1764.5 616.9L1765.1 616.9L1765.7 616.9L1766.3 617.0L1766.9 617.0L1767.5 617.0L1768.1 617.1L1768.7 617.1L1769.3 617.1L1769.9 617.2L1770.5 617.2L1771.1 617.2L1771.7 617.3L1772.3 617.3L1772.9 617.3L1773.5 617.4L1774.1 617.4L1774.7 617.4L1775.3 617.5L1775.9 617.5L1776.5 617.5L1777.1 617.6L1777.7 617.6L1778.3 617.6L1778.9 617.6L1779.5 617.7L1780.1 617.7L1780.7 617.7L1781.3 617.8L1781.9 617.8L1782.5 617.8L1783.1 617.8L1783.7 617.9L1784.3 617.9L1784.9 617.9L1785.5 618.0L1786.1 618.0L1786.7 618.0L1787.3 618.0L1787.9 618.1L1788.5 618.1L1789.1 618.1L1789.7 618.2L1790.3 618.2L1790.9 618.2L1791.5 618.2L1792.1 618.3L1792.7 618.3L1793.3 618.3L1793.9 618.3L1794.5 618.4L1795.1 618.4L1795.7 618.4L1796.3 618.4L1796.9 618.5L1797.5 618.5L1798.1 618.5L1798.7 618.5L1799.3 618.6L1799.9 618.6L1800.5 618.6L1801.1 618.6L1801.7 618.6L1802.3 618.7L1802.9 618.7L1803.5 618.7L1804.1 618.7L1804.7 618.8L1805.3 618.8L1806.0 618.8L1806.6 618.8L1807.2 618.8L1807.8 618.9L1808.4 618.9L1809.0 618.9L1809.6 618.9L1810.2 618.9L1810.8 619.0L1811.4 619.0L1812.0 619.0L1812.6 619.0L1813.2 619.0L1813.8 619.1L1814.4 619.1L1815.0 619.1L1815.4 619.1L1815.6 619.1L1816.2 619.1L1816.8 619.1L1817.4 619.2L1818.0 619.2L1818.6 619.2L1819.2 619.2L1819.8 619.2L1820.4 619.2L1821.0 619.3L1821.6 619.3L1822.2 619.3L1822.8 619.3L1823.4 619.3L1824.0 619.3L1824.6 619.4L1825.2 619.4L1825.8 619.4L1826.4 619.4L1827.0 619.4L1827.6 619.4L1828.2 619.4L1828.8 619.5L1829.4 619.5L1830.0 619.5L1830.6 619.5L1831.2 619.5L1831.8 619.5L1832.4 619.6L1833.0 619.6L1833.6 619.6L1834.2 619.6L1834.8 619.6L1835.4 619.6L1836.0 619.6L1836.6 619.7L1837.2 619.7L1837.8 619.7L1838.4 619.7L1839.0 619.7L1839.6 619.7L1840.2 619.7L1840.8 619.8L1841.4 619.8L1842.0 619.8L1842.6 619.8L1843.2 619.8L1843.8 619.8L1844.4 619.8L1845.0 619.9L1845.6 619.9L1846.2 619.9L1846.8 619.9L1847.4 619.9L1848.0 619.9L1848.6 619.9L1849.2 619.9L1849.8 620.0L1850.4 620.0L1851.0 620.0L1851.6 620.0L1852.2 620.0L1852.8 620.0L1853.4 620.0L1854.0 620.0L1854.6 620.0L1855.2 620.1L1855.8 620.1L1856.4 620.1L1857.0 620.1L1857.6 620.1L1858.2 620.1L1858.8 620.1L1859.4 620.1L1860.0 620.1L1860.6 620.1L1861.2 620.2L1861.8 620.2L1862.4 620.2L1863.0 620.2L1863.6 620.2L1864.2 620.2L1864.8 620.2L1865.4 620.2L1866.0 620.2L1866.6 620.2L1867.2 620.2L1867.8 620.2L1868.4 620.3L1869.0 620.3L1869.6 620.3L1870.2 620.3L1870.8 620.3L1871.4 620.3L1872.0 620.3L1872.6 620.3L1873.0 620.3L1873.2 620.3L1873.8 620.3L1874.4 620.3L1875.0 620.3L1875.6 620.3L1876.2 620.3L1876.8 620.3L1877.4 620.3L1878.0 620.3L1878.6 620.4L1879.2 620.4L1879.8 620.4L1880.4 620.4L1881.0 620.4L1881.6 620.4L1882.2 620.4L1882.8 620.4L1883.4 620.4L1884.0 620.4L1884.6 620.4L1885.2 620.4L1885.8 620.4L1886.4 620.4L1887.0 620.4L1887.6 620.4L1888.2 620.4L1888.8 620.4L1889.4 620.5L1890.0 620.5L1890.6 620.5L1891.2 620.5L1891.8 620.5L1892.4 620.5L1893.0 620.5L1893.6 620.5L1894.2 620.5L1894.8 620.5L1895.4 620.5L1896.0 620.5L1896.6 620.5L1897.2 620.5L1897.8 620.5L1898.4 620.5L1899.0 620.5L1899.6 620.5L1900.2 620.5L1900.8 620.5L1901.4 620.6L1902.0 620.6L1902.6 620.6L1903.2 620.6L1903.8 620.6L1904.4 620.6L1905.0 620.6L1905.6 620.6L1906.2 620.6L1906.8 620.6L1907.4 620.6L1908.0 620.6L1908.6 620.6L1909.2 620.6L1909.8 620.6L1910.4 620.6L1911.0 620.6L1911.6 620.6L1912.2 620.6L1912.8 620.6L1913.4 620.6L1914.0 620.6L1914.6 620.6L1915.2 620.7L1915.8 620.7L1916.4 620.7L1917.0 620.7L1917.6 620.7L1918.2 620.7L1918.8 620.7L1919.4 620.7L1920.0 620.7L1920.6 620.7L1921.2 620.7L1921.8 620.7L1922.4 620.7L1923.0 620.7L1923.6 620.7L1924.2 620.7L1924.8 620.7L1925.4 620.7L1926.0 620.7L1926.6 620.7L1927.2 620.7L1927.8 620.7L1928.4 620.7L1929.0 620.7L1929.6 620.7L1930.2 620.7L1930.8 620.7L1931.4 620.7L1932.0 620.7L1932.6 620.7L1933.2 620.7L1933.8 620.8L1934.4 620.8L1935.0 620.8L1935.6 620.8L1936.2 620.8L1936.8 620.8L1937.4 620.8L1938.0 620.8L1938.6 620.8L1939.2 620.8L1939.8 620.8L1940.4 620.8L1941.0 620.8L1941.6 620.8L1942.2 620.8L1942.8 620.8L1943.4 620.8L1944.0 620.8L1944.6 620.8L1945.2 620.8L1945.8 620.8L1946.4 620.8L1947.0 620.8L1947.6 620.8L1948.2 620.8L1948.8 620.8L1949.4 620.8L1950.0 620.8L1950.6 620.8L1951.2 620.8L1951.8 620.8L1952.4 620.8L1953.0 620.8L1953.6 620.8L1954.2 620.8L1954.8 620.8L1955.4 620.8L1956.0 620.8L1956.6 620.8" stroke="#009600" stroke-width="6.8"/>
</g>
<g font-family="&apos;Liberation Serif&apos;, serif" fill="#262626">
<text transform="translate(295.2 1184.8) scale(0.972 1)" font-size="80" text-anchor="end">15.15</text>
<text transform="translate(295.2 915.8) scale(0.972 1)" font-size="80" text-anchor="end">15.25</text>
<text transform="translate(295.2 646.8) scale(0.972 1)" font-size="80" text-anchor="end">15.35</text>
<text transform="translate(295.2 377.8) scale(0.972 1)" font-size="80" text-anchor="end">15.45</text>
<text transform="translate(295.2 108.8) scale(0.972 1)" font-size="80" text-anchor="end">15.55</text>
<text x="468.1" y="1251.3" font-size="80" text-anchor="middle">0</text>
<text x="765.5" y="1251.3" font-size="80" text-anchor="middle">800</text>
<text x="1062.9" y="1251.3" font-size="80" text-anchor="middle">1600</text>
<text x="1360.2" y="1251.3" font-size="80" text-anchor="middle">2400</text>
<text x="1657.6" y="1251.3" font-size="80" text-anchor="middle">3200</text>
<text x="1955.0" y="1251.3" font-size="80" text-anchor="middle">4000</text>
</g>
<g font-family="&apos;Liberation Serif&apos;, serif" font-size="75.8" fill="#000">
<text x="1093.3" y="1341.8" text-anchor="middle">Time [s]</text>
<text transform="translate(97 610.7) rotate(-90)" text-anchor="middle">AFR</text>
<text x="502.5" y="209.5">With fixed <tspan font-style="italic" dx="-1.5">G</tspan><tspan font-size="48" dy="5.6">2</tspan><tspan dy="-5.6" dx="1.5">(</tspan><tspan font-style="italic">z</tspan>)</text>
<text x="874.4" y="339.1">With adaptive</text>
<text x="710.8" y="1062.5">With fixed <tspan font-style="italic" dx="-1.5">G</tspan><tspan font-size="48" dy="5.6">1</tspan><tspan dy="-5.6" dx="1.5">(</tspan><tspan font-style="italic">z</tspan>)</text>
<text x="1604.2" y="1037.5" text-anchor="middle" font-size="76.3">Conventional without</text>
<text x="1605.1" y="1106.5" text-anchor="middle">supplementary control</text>
</g>
<path d="M718.0 237.8L677.7 347.4" stroke="#000" stroke-width="6.8" fill="none"/><path d="M658.2 400.4L666.9 341.3L689.8 349.7Z" fill="#000"/>
<path d="M1133.3 362.3L1233.1 626.4" stroke="#000" stroke-width="6.8" fill="none"/><path d="M1253.1 679.2L1221.0 628.8L1243.8 620.2Z" fill="#000"/>
<path d="M1152.7 1001.2L1218.6 817.5" stroke="#000" stroke-width="6.8" fill="none"/><path d="M1237.7 764.3L1229.4 823.5L1206.5 815.2Z" fill="#000"/>
<path d="M1473.5 988.5L1387.3 936.4" stroke="#000" stroke-width="6.8" fill="none"/><path d="M1339.0 907.1L1395.4 927.0L1382.7 947.8Z" fill="#000"/>
</svg></body></html>
